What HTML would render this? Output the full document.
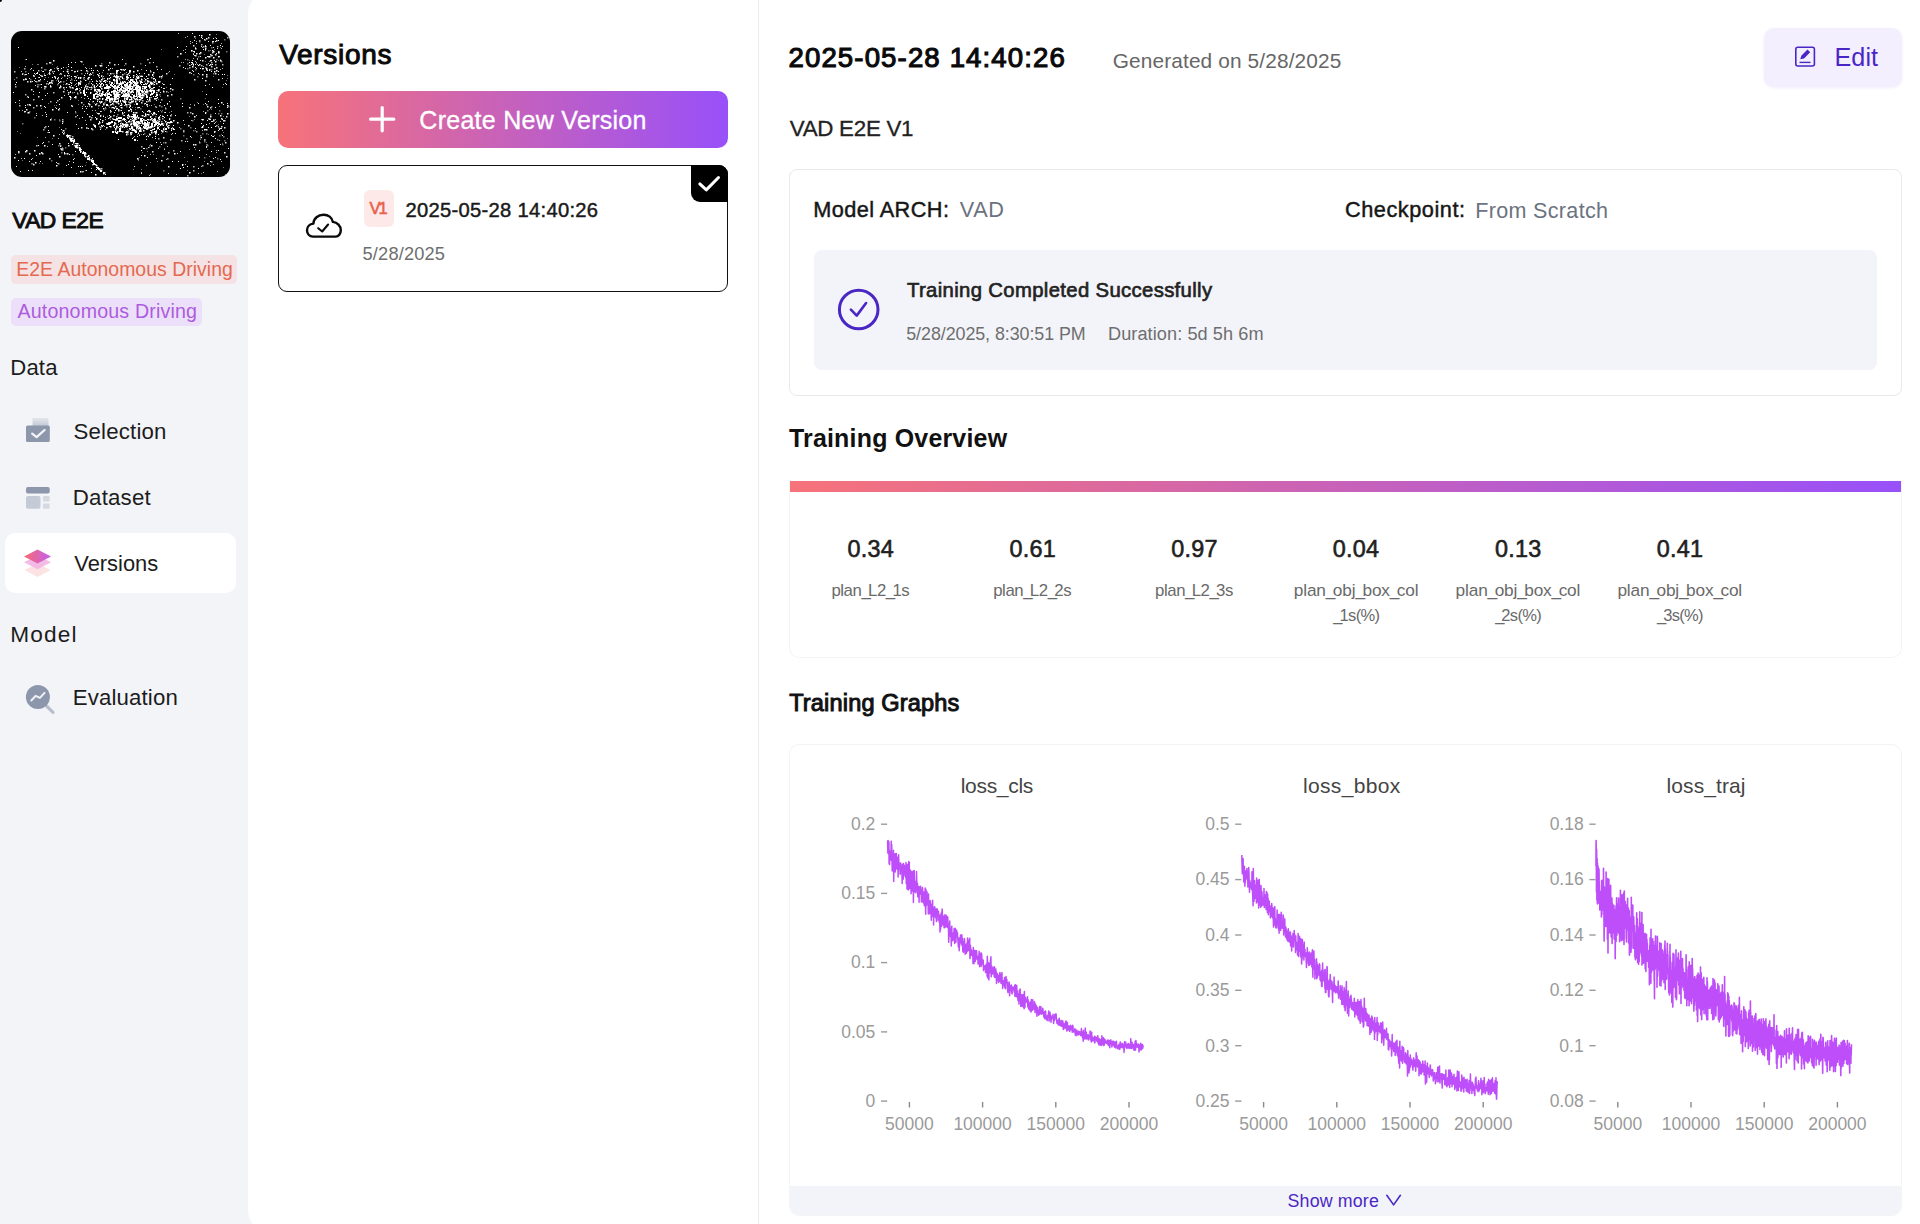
<!DOCTYPE html>
<html lang="en"><head><meta charset="utf-8"><title>VAD E2E - Versions</title>
<style>
html,body{margin:0;padding:0}
body{width:1920px;height:1224px;overflow:hidden;background:#f3f4f8;font-family:"Liberation Sans",sans-serif;position:relative}
.t{position:absolute;white-space:nowrap;margin:0}
.b{position:absolute;box-sizing:border-box}
svg{position:absolute;overflow:visible}
.ax{font-family:"Liberation Sans",sans-serif;font-size:17.5px;fill:#9a9a9a}
.ct{font-family:"Liberation Sans",sans-serif;font-size:21px;fill:#444}
</style></head>
<body>

<div class="b" style="left:248px;top:-8px;width:1680px;height:1240px;background:#fff;border-radius:22px 0 0 22px"></div>
<div class="b" style="left:-2px;top:-2px;width:4px;height:4px;border-radius:50%;background:#000"></div>
<div class="b" style="left:758px;top:0;width:1px;height:1224px;background:#ececec"></div>
<!-- sidebar -->
<div class="b" style="left:11.3px;top:255.3px;width:226.2px;height:29px;background:#f5e2e4;border-radius:5px"></div>
<div class="b" style="left:11.3px;top:297.5px;width:190.4px;height:28.5px;background:#ecdff9;border-radius:5px"></div>
<div class="b" style="left:4.7px;top:533.3px;width:231.2px;height:60px;background:#fff;border-radius:10px"></div>
<!-- middle -->
<div class="b" style="left:278px;top:90.6px;width:449.6px;height:57px;background:linear-gradient(90deg,#f7737a 0%,#9850f9 100%);border-radius:10px"></div>
<div class="b" style="left:277.8px;top:165px;width:450px;height:126.6px;border:1.4px solid #111;border-radius:9px;background:#fff"></div>
<div class="b" style="left:690.6px;top:165px;width:37.2px;height:37px;background:#000;border-radius:0 9px 0 9px"></div>
<div class="b" style="left:363.5px;top:190.3px;width:30px;height:37px;background:#fdeae8;border-radius:6px"></div>
<!-- right -->
<div class="b" style="left:1763.6px;top:27.5px;width:138px;height:59.5px;background:#f3efff;border-radius:10px;box-shadow:0 1px 3px rgba(110,80,220,.10)"></div>
<div class="b" style="left:788.7px;top:169px;width:1113.3px;height:226.8px;border:1px solid #e9e9e9;border-radius:8px;background:#fff"></div>
<div class="b" style="left:814px;top:249.7px;width:1062.8px;height:120.6px;background:#f3f4f9;border-radius:8px"></div>
<div class="b" style="left:788.7px;top:480.5px;width:1113.3px;height:177.5px;border:1px solid #f4f4f4;border-top:none;border-radius:0 0 10px 10px"></div>
<div class="b" style="left:789.5px;top:480.5px;width:1111.7px;height:11.8px;background:linear-gradient(90deg,#f7737a 0%,#9850f9 100%)"></div>
<div class="b" style="left:788.7px;top:744px;width:1113.3px;height:472px;border:1px solid #f4f4f4;border-radius:10px;overflow:hidden"><div class="b" style="left:0;top:441px;width:1113.3px;height:31px;background:#f3f4f9"></div></div>

<svg style="left:11px;top:31px;border-radius:11px;overflow:hidden" width="219" height="146" viewBox="0 0 219 146"><rect width="219" height="146" fill="#000"/><g fill="#fff"><path opacity="1" d="M14 74h1v1h-1zM86 58h1.5v1.5h-1.5zM121 48h1.5v1.5h-1.5zM110 74h1v1h-1zM140 53h1v1h-1zM143 94h1.5v1.5h-1.5zM98 44h1v1h-1zM69 121h1v1h-1zM114 55h1v1h-1zM190 4h1.5v1.5h-1.5zM210 71h1.5v1.5h-1.5zM192 94h1v1h-1zM201 33h1v1h-1zM207 72h1v1h-1zM68 116h1.5v1.5h-1.5zM15 119h1.5v1.5h-1.5zM62 131h1v1h-1zM126 127h1.5v1.5h-1.5zM205 39h1.5v1.5h-1.5zM85 87h1.5v1.5h-1.5zM103 77h1v1h-1zM63 108h1v1h-1zM62 128h1v1h-1zM213 43h1v1h-1zM214 52h1v1h-1zM204 76h1v1h-1zM103 81h1v1h-1zM217 117h1v1h-1zM131 45h1v1h-1zM201 56h1v1h-1zM43 45h1.5v1.5h-1.5zM195 43h1.5v1.5h-1.5zM145 67h1v1h-1zM119 53h1v1h-1zM121 56h1.5v1.5h-1.5zM198 3h1.5v1.5h-1.5zM135 64h1.5v1.5h-1.5zM85 52h1v1h-1zM187 137h1v1h-1zM35 85h1v1h-1zM172 36h1v1h-1zM84 59h1v1h-1zM150 129h1.5v1.5h-1.5zM181 35h1.5v1.5h-1.5zM42 104h1.5v1.5h-1.5zM124 68h1.5v1.5h-1.5zM59 65h1v1h-1zM199 130h1v1h-1zM111 92h1.5v1.5h-1.5zM67 52h1.5v1.5h-1.5zM32 111h1v1h-1zM37 99h1v1h-1zM118 56h1v1h-1zM69 140h1.5v1.5h-1.5zM80 97h1.5v1.5h-1.5zM64 65h1.5v1.5h-1.5zM114 72h1v1h-1zM140 114h1.5v1.5h-1.5zM73 124h1.5v1.5h-1.5zM144 105h1v1h-1zM207 119h1v1h-1zM154 100h1v1h-1zM204 107h1v1h-1zM207 40h1v1h-1zM125 63h1.5v1.5h-1.5zM183 20h1v1h-1zM191 88h1v1h-1zM56 44h1v1h-1zM4 53h1v1h-1zM48 56h1.5v1.5h-1.5zM83 54h1v1h-1zM53 121h1v1h-1zM209 29h1v1h-1zM136 68h1v1h-1zM47 39h1v1h-1zM145 111h1v1h-1zM110 76h1.5v1.5h-1.5zM93 49h1v1h-1zM58 53h1v1h-1zM134 72h1v1h-1zM88 52h1v1h-1zM195 115h1v1h-1zM95 57h1v1h-1zM171 75h1v1h-1zM91 68h1v1h-1zM119 46h1v1h-1zM147 103h1v1h-1zM84 143h1.5v1.5h-1.5zM144 48h1v1h-1zM135 95h1v1h-1zM64 120h1v1h-1zM111 46h1v1h-1zM133 124h1.5v1.5h-1.5zM196 39h1v1h-1zM199 33h1.5v1.5h-1.5zM77 46h1.5v1.5h-1.5zM178 31h1v1h-1zM195 63h1v1h-1zM130 87h1v1h-1zM66 116h1.5v1.5h-1.5zM50 37h1v1h-1zM28 122h1.5v1.5h-1.5zM17 66h1v1h-1zM13 127h1v1h-1zM134 48h1.5v1.5h-1.5zM188 119h1v1h-1zM72 120h1v1h-1zM49 55h1.5v1.5h-1.5zM124 91h1.5v1.5h-1.5zM3 126h1.5v1.5h-1.5zM87 138h1v1h-1zM158 88h1v1h-1zM204 95h1v1h-1zM200 40h1v1h-1zM2 61h1v1h-1zM28 61h1v1h-1zM141 95h1v1h-1zM92 63h1v1h-1zM96 47h1v1h-1zM209 14h1v1h-1zM143 47h1v1h-1zM188 4h1v1h-1zM81 50h1v1h-1zM185 22h1.5v1.5h-1.5zM48 73h1v1h-1zM122 53h1.5v1.5h-1.5zM103 69h1.5v1.5h-1.5zM133 117h1v1h-1zM99 85h1.5v1.5h-1.5zM86 39h1v1h-1zM202 26h1.5v1.5h-1.5zM209 84h1.5v1.5h-1.5zM107 70h1v1h-1zM5 51h1v1h-1zM190 92h1v1h-1zM215 53h1v1h-1zM45 77h1v1h-1zM47 78h1.5v1.5h-1.5zM142 62h1v1h-1zM135 63h1v1h-1zM51 92h1v1h-1zM79 68h1v1h-1zM86 61h1v1h-1zM79 42h1v1h-1zM108 97h1.5v1.5h-1.5zM109 74h1v1h-1zM69 52h1v1h-1zM191 43h1.5v1.5h-1.5zM42 29h1.5v1.5h-1.5zM169 22h1.5v1.5h-1.5zM209 97h1v1h-1zM120 70h1.5v1.5h-1.5zM46 37h1.5v1.5h-1.5zM98 63h1v1h-1zM182 40h1v1h-1zM182 33h1v1h-1zM104 70h1.5v1.5h-1.5zM77 97h1v1h-1zM139 85h1.5v1.5h-1.5zM131 80h1v1h-1zM67 135h1v1h-1zM113 57h1.5v1.5h-1.5zM129 59h1v1h-1zM76 83h1v1h-1zM114 58h1v1h-1zM148 50h1.5v1.5h-1.5zM129 68h1v1h-1zM7 16h1v1h-1zM80 48h1v1h-1zM98 62h1v1h-1zM92 77h1v1h-1zM114 71h1v1h-1zM80 39h1v1h-1zM122 40h1.5v1.5h-1.5zM38 41h1v1h-1zM194 15h1.5v1.5h-1.5zM97 38h1.5v1.5h-1.5zM86 70h1v1h-1zM111 47h1v1h-1zM132 99h1v1h-1zM132 95h1v1h-1zM110 38h1.5v1.5h-1.5zM133 59h1v1h-1zM87 82h1.5v1.5h-1.5zM66 40h1v1h-1zM207 21h1.5v1.5h-1.5zM78 73h1.5v1.5h-1.5zM183 85h1.5v1.5h-1.5zM122 81h1.5v1.5h-1.5zM143 81h1v1h-1zM63 66h1v1h-1zM80 52h1v1h-1zM138 79h1v1h-1zM126 39h1.5v1.5h-1.5zM150 45h1.5v1.5h-1.5zM61 107h1.5v1.5h-1.5zM192 18h1v1h-1zM202 105h1v1h-1zM191 37h1.5v1.5h-1.5zM59 51h1v1h-1zM145 92h1v1h-1zM212 92h1v1h-1zM134 93h1v1h-1zM115 73h1.5v1.5h-1.5zM105 77h1.5v1.5h-1.5zM69 47h1v1h-1zM202 20h1.5v1.5h-1.5zM93 50h1v1h-1zM153 86h1v1h-1zM89 53h1.5v1.5h-1.5zM72 122h1v1h-1zM194 18h1v1h-1zM169 137h1v1h-1zM41 113h1v1h-1zM68 52h1.5v1.5h-1.5zM75 61h1v1h-1zM135 95h1v1h-1zM67 47h1v1h-1zM67 46h1.5v1.5h-1.5zM32 40h1v1h-1zM102 53h1v1h-1zM111 59h1v1h-1zM135 53h1v1h-1zM55 56h1v1h-1zM211 43h1v1h-1zM75 39h1.5v1.5h-1.5zM77 72h1.5v1.5h-1.5zM111 81h1v1h-1zM127 76h1v1h-1zM187 34h1v1h-1zM109 70h1v1h-1zM135 45h1v1h-1zM130 64h1v1h-1zM136 83h1v1h-1zM161 130h1v1h-1zM201 19h1.5v1.5h-1.5zM129 56h1v1h-1zM87 92h1.5v1.5h-1.5zM115 100h1.5v1.5h-1.5zM209 29h1.5v1.5h-1.5zM164 102h1v1h-1zM124 51h1v1h-1zM26 42h1v1h-1zM127 97h1.5v1.5h-1.5zM125 62h1v1h-1zM27 114h1v1h-1zM86 43h1v1h-1zM118 59h1v1h-1zM48 125h1.5v1.5h-1.5zM171 72h1v1h-1zM103 62h1v1h-1zM163 98h1v1h-1zM191 95h1.5v1.5h-1.5zM136 96h1v1h-1zM84 34h1.5v1.5h-1.5zM69 61h1.5v1.5h-1.5zM82 39h1v1h-1zM180 31h1v1h-1zM98 84h1v1h-1zM162 97h1v1h-1zM132 117h1v1h-1zM200 96h1v1h-1zM118 79h1v1h-1zM149 93h1.5v1.5h-1.5zM57 33h1v1h-1zM110 53h1v1h-1zM45 134h1.5v1.5h-1.5zM122 83h1v1h-1zM154 81h1v1h-1zM128 57h1v1h-1zM121 107h1v1h-1zM59 66h1.5v1.5h-1.5zM60 52h1v1h-1zM119 71h1.5v1.5h-1.5zM84 86h1v1h-1zM39 55h1.5v1.5h-1.5zM99 68h1v1h-1zM30 121h1.5v1.5h-1.5zM140 101h1.5v1.5h-1.5zM119 61h1v1h-1zM199 85h1.5v1.5h-1.5zM189 37h1v1h-1zM150 113h1v1h-1zM105 96h1v1h-1zM113 89h1v1h-1zM122 46h1v1h-1zM67 51h1v1h-1zM163 122h1.5v1.5h-1.5zM181 2h1v1h-1zM86 54h1v1h-1zM127 65h1v1h-1zM53 122h1.5v1.5h-1.5zM189 21h1.5v1.5h-1.5zM84 73h1.5v1.5h-1.5zM39 38h1.5v1.5h-1.5zM108 47h1v1h-1zM69 46h1.5v1.5h-1.5zM99 42h1.5v1.5h-1.5zM104 60h1.5v1.5h-1.5zM19 74h1v1h-1zM134 72h1v1h-1zM107 108h1v1h-1zM128 63h1v1h-1zM61 113h1v1h-1zM48 51h1v1h-1zM89 98h1v1h-1zM136 80h1v1h-1zM120 68h1.5v1.5h-1.5zM73 44h1v1h-1zM121 57h1v1h-1zM209 128h1v1h-1zM114 88h1v1h-1zM100 61h1v1h-1zM104 88h1.5v1.5h-1.5zM38 101h1v1h-1zM208 98h1v1h-1zM115 46h1.5v1.5h-1.5zM28 46h1v1h-1zM33 75h1v1h-1zM198 25h1.5v1.5h-1.5zM102 76h1.5v1.5h-1.5zM61 56h1.5v1.5h-1.5zM99 46h1v1h-1zM133 91h1.5v1.5h-1.5zM147 86h1v1h-1zM198 88h1v1h-1zM92 50h1v1h-1zM156 72h1v1h-1zM177 94h1.5v1.5h-1.5zM200 120h1v1h-1zM105 44h1.5v1.5h-1.5zM125 86h1.5v1.5h-1.5zM25 42h1v1h-1zM46 47h1.5v1.5h-1.5zM122 83h1.5v1.5h-1.5zM147 87h1.5v1.5h-1.5zM143 82h1.5v1.5h-1.5zM113 71h1v1h-1zM102 70h1.5v1.5h-1.5zM203 40h1.5v1.5h-1.5zM95 57h1v1h-1zM101 54h1v1h-1zM17 81h1.5v1.5h-1.5zM103 64h1v1h-1zM26 41h1v1h-1zM22 44h1.5v1.5h-1.5zM99 79h1v1h-1zM123 91h1v1h-1zM24 131h1.5v1.5h-1.5zM59 109h1.5v1.5h-1.5zM69 119h1v1h-1zM132 99h1v1h-1zM182 113h1.5v1.5h-1.5zM34 55h1.5v1.5h-1.5zM56 40h1.5v1.5h-1.5zM35 83h1v1h-1zM194 72h1v1h-1zM97 87h1v1h-1zM85 136h1v1h-1zM147 58h1.5v1.5h-1.5zM89 59h1v1h-1zM125 67h1.5v1.5h-1.5zM83 55h1v1h-1zM55 52h1.5v1.5h-1.5zM122 35h1.5v1.5h-1.5zM76 42h1v1h-1zM95 53h1.5v1.5h-1.5zM131 92h1.5v1.5h-1.5zM139 64h1v1h-1zM157 91h1v1h-1zM207 9h1v1h-1zM96 64h1v1h-1zM181 29h1v1h-1zM127 65h1v1h-1zM129 98h1.5v1.5h-1.5zM29 48h1v1h-1zM207 68h1v1h-1zM127 60h1.5v1.5h-1.5zM105 41h1.5v1.5h-1.5zM77 67h1v1h-1zM211 104h1v1h-1zM119 65h1.5v1.5h-1.5zM171 133h1.5v1.5h-1.5zM104 100h1v1h-1zM195 37h1.5v1.5h-1.5zM68 114h1v1h-1zM169 120h1v1h-1zM148 45h1.5v1.5h-1.5zM84 58h1.5v1.5h-1.5zM166 16h1v1h-1zM127 63h1.5v1.5h-1.5zM130 119h1v1h-1zM95 36h1v1h-1zM143 93h1.5v1.5h-1.5zM126 84h1v1h-1zM128 63h1.5v1.5h-1.5zM131 87h1v1h-1zM122 84h1v1h-1zM90 48h1.5v1.5h-1.5zM33 114h1.5v1.5h-1.5zM138 96h1.5v1.5h-1.5zM128 76h1v1h-1zM131 92h1v1h-1zM124 86h1v1h-1zM146 66h1v1h-1zM18 73h1.5v1.5h-1.5zM90 45h1v1h-1zM122 81h1.5v1.5h-1.5zM90 52h1v1h-1zM195 38h1.5v1.5h-1.5zM125 93h1v1h-1zM57 42h1v1h-1zM80 75h1.5v1.5h-1.5zM181 31h1v1h-1zM204 30h1.5v1.5h-1.5zM91 91h1v1h-1zM113 39h1v1h-1zM191 96h1v1h-1zM99 53h1.5v1.5h-1.5zM103 94h1v1h-1zM103 63h1v1h-1zM127 102h1v1h-1zM107 45h1.5v1.5h-1.5zM120 93h1v1h-1zM195 7h1.5v1.5h-1.5zM85 60h1.5v1.5h-1.5zM134 83h1.5v1.5h-1.5zM195 98h1.5v1.5h-1.5zM159 75h1v1h-1zM101 55h1v1h-1zM105 60h1v1h-1zM26 41h1v1h-1zM86 63h1.5v1.5h-1.5zM125 49h1v1h-1zM41 78h1.5v1.5h-1.5zM141 89h1.5v1.5h-1.5zM146 64h1v1h-1zM142 65h1v1h-1zM205 7h1v1h-1zM136 73h1v1h-1zM74 49h1v1h-1zM88 91h1.5v1.5h-1.5zM73 58h1v1h-1zM101 76h1v1h-1zM128 57h1.5v1.5h-1.5zM137 94h1v1h-1zM57 133h1v1h-1zM104 101h1v1h-1zM80 37h1v1h-1zM133 42h1v1h-1zM60 36h1v1h-1zM149 94h1v1h-1zM120 61h1v1h-1zM38 52h1v1h-1zM103 63h1v1h-1zM94 51h1v1h-1zM194 82h1v1h-1zM152 85h1v1h-1zM211 88h1v1h-1zM30 53h1v1h-1zM176 135h1v1h-1zM19 50h1.5v1.5h-1.5zM172 136h1v1h-1zM188 126h1v1h-1zM141 43h1.5v1.5h-1.5zM180 19h1.5v1.5h-1.5zM103 63h1.5v1.5h-1.5zM33 44h1v1h-1zM151 92h1v1h-1zM117 57h1v1h-1zM138 91h1v1h-1zM191 47h1v1h-1zM128 61h1v1h-1zM200 104h1v1h-1zM39 88h1.5v1.5h-1.5zM193 98h1.5v1.5h-1.5zM215 125h1.5v1.5h-1.5zM164 84h1v1h-1zM114 38h1v1h-1zM184 17h1.5v1.5h-1.5zM64 58h1.5v1.5h-1.5zM83 56h1.5v1.5h-1.5zM106 61h1.5v1.5h-1.5zM7 129h1v1h-1zM190 6h1v1h-1zM216 82h1.5v1.5h-1.5zM119 75h1v1h-1zM179 105h1v1h-1zM132 96h1v1h-1zM178 141h1.5v1.5h-1.5zM89 34h1.5v1.5h-1.5zM89 88h1v1h-1zM156 64h1.5v1.5h-1.5zM23 119h1.5v1.5h-1.5zM153 74h1v1h-1zM150 99h1.5v1.5h-1.5zM204 10h1v1h-1zM91 63h1v1h-1zM199 14h1v1h-1zM17 139h1v1h-1zM28 43h1v1h-1zM99 64h1v1h-1zM119 78h1v1h-1zM29 74h1.5v1.5h-1.5zM98 50h1.5v1.5h-1.5zM67 97h1v1h-1zM82 65h1v1h-1zM190 106h1v1h-1zM109 69h1v1h-1zM143 67h1.5v1.5h-1.5zM101 72h1.5v1.5h-1.5zM100 73h1v1h-1zM194 26h1.5v1.5h-1.5zM69 135h1v1h-1zM216 74h1.5v1.5h-1.5zM147 96h1v1h-1zM38 39h1.5v1.5h-1.5zM106 77h1v1h-1zM63 45h1v1h-1zM123 58h1v1h-1zM155 98h1v1h-1zM118 50h2v2h-2zM89 139h2v2h-2zM125 65h1v1h-1zM103 49h1.5v1.5h-1.5zM140 99h1.5v1.5h-1.5zM125 50h1.5v1.5h-1.5zM130 66h2v2h-2zM115 58h2v2h-2zM108 95h1v1h-1zM95 68h1.5v1.5h-1.5zM125 96h1v1h-1zM144 91h1.5v1.5h-1.5zM136 93h1.5v1.5h-1.5zM125 43h1v1h-1zM110 55h2v2h-2zM115 103h1.5v1.5h-1.5zM77 125h1v1h-1zM90 57h1.5v1.5h-1.5zM140 52h1v1h-1zM118 60h1.5v1.5h-1.5zM105 39h2v2h-2zM96 55h2v2h-2zM134 84h1.5v1.5h-1.5zM105 101h2v2h-2zM120 96h2v2h-2zM114 63h2v2h-2zM94 64h1.5v1.5h-1.5zM136 83h1v1h-1zM119 58h1v1h-1zM109 92h1.5v1.5h-1.5zM123 85h1.5v1.5h-1.5zM73 63h2v2h-2zM143 51h1v1h-1zM106 63h1.5v1.5h-1.5zM133 94h1.5v1.5h-1.5zM110 58h1.5v1.5h-1.5zM127 45h1v1h-1zM133 85h1v1h-1zM117 87h1v1h-1zM99 95h1.5v1.5h-1.5zM143 89h1.5v1.5h-1.5zM95 73h2v2h-2zM122 91h2v2h-2zM105 70h1.5v1.5h-1.5zM120 85h1.5v1.5h-1.5zM64 114h1v1h-1zM104 55h1.5v1.5h-1.5zM84 62h1.5v1.5h-1.5zM76 125h1.5v1.5h-1.5zM130 60h1.5v1.5h-1.5zM107 86h2v2h-2zM134 60h2v2h-2zM76 127h2v2h-2zM94 143h1v1h-1zM143 88h2v2h-2zM138 56h1.5v1.5h-1.5zM139 95h2v2h-2zM121 63h1v1h-1zM139 51h2v2h-2zM108 97h2v2h-2zM105 96h1.5v1.5h-1.5zM121 85h1.5v1.5h-1.5zM135 55h1v1h-1zM166 91h1.5v1.5h-1.5zM80 129h2v2h-2zM56 106h1v1h-1zM106 100h1.5v1.5h-1.5zM140 99h1.5v1.5h-1.5zM97 59h1v1h-1zM127 61h1.5v1.5h-1.5zM121 48h1.5v1.5h-1.5zM96 59h1.5v1.5h-1.5zM102 59h1.5v1.5h-1.5zM128 68h1.5v1.5h-1.5zM96 54h1v1h-1zM129 68h1.5v1.5h-1.5zM116 55h1v1h-1zM111 69h1.5v1.5h-1.5zM95 56h2v2h-2zM116 54h1.5v1.5h-1.5zM56 104h2v2h-2zM99 56h1v1h-1zM94 68h1v1h-1zM140 51h1.5v1.5h-1.5zM124 100h2v2h-2zM127 46h1.5v1.5h-1.5zM156 95h1.5v1.5h-1.5zM102 60h1.5v1.5h-1.5zM121 59h1.5v1.5h-1.5zM128 99h2v2h-2zM126 46h2v2h-2zM117 90h1.5v1.5h-1.5zM141 83h1.5v1.5h-1.5zM85 134h1.5v1.5h-1.5zM145 52h1.5v1.5h-1.5zM126 51h1.5v1.5h-1.5zM91 67h1.5v1.5h-1.5zM76 65h1v1h-1zM63 109h1v1h-1zM75 57h1.5v1.5h-1.5zM127 92h1.5v1.5h-1.5zM65 57h2v2h-2zM128 55h1.5v1.5h-1.5zM117 46h1v1h-1zM88 62h1.5v1.5h-1.5zM131 63h1.5v1.5h-1.5zM126 91h1.5v1.5h-1.5zM139 95h1.5v1.5h-1.5zM99 53h2v2h-2zM120 101h1.5v1.5h-1.5zM105 56h1v1h-1zM125 58h2v2h-2zM125 97h1.5v1.5h-1.5zM137 50h1.5v1.5h-1.5zM133 91h2v2h-2zM118 68h1.5v1.5h-1.5zM129 50h2v2h-2zM74 125h1.5v1.5h-1.5zM126 57h1.5v1.5h-1.5zM140 62h2v2h-2zM127 92h1v1h-1zM144 49h1v1h-1zM115 46h1.5v1.5h-1.5zM108 99h2v2h-2zM73 121h2v2h-2zM135 65h2v2h-2zM126 95h1.5v1.5h-1.5zM130 59h2v2h-2zM87 137h1v1h-1zM129 92h1v1h-1zM137 54h2v2h-2zM100 90h2v2h-2zM84 133h1.5v1.5h-1.5zM139 59h1.5v1.5h-1.5zM105 49h2v2h-2zM140 59h1.5v1.5h-1.5zM73 123h1.5v1.5h-1.5zM103 91h1.5v1.5h-1.5zM116 61h1.5v1.5h-1.5zM139 58h1v1h-1zM127 90h1.5v1.5h-1.5zM86 136h1v1h-1zM112 87h2v2h-2zM118 57h2v2h-2zM113 96h1v1h-1zM115 45h2v2h-2zM87 59h1.5v1.5h-1.5zM135 56h1v1h-1zM62 111h1v1h-1zM145 63h2v2h-2zM95 66h2v2h-2zM111 60h1v1h-1zM122 85h2v2h-2zM55 104h1.5v1.5h-1.5zM98 47h1v1h-1zM115 65h1.5v1.5h-1.5zM103 66h2v2h-2zM136 60h1.5v1.5h-1.5zM112 87h1.5v1.5h-1.5zM121 70h1.5v1.5h-1.5zM138 68h1.5v1.5h-1.5zM137 93h1.5v1.5h-1.5zM120 58h1.5v1.5h-1.5zM68 117h2v2h-2zM132 60h1.5v1.5h-1.5zM123 99h1v1h-1zM125 72h2v2h-2zM88 46h1v1h-1zM144 102h1.5v1.5h-1.5zM113 67h1.5v1.5h-1.5zM92 85h1v1h-1zM117 60h1.5v1.5h-1.5zM124 92h2v2h-2zM116 51h1.5v1.5h-1.5zM112 56h1.5v1.5h-1.5zM139 86h1v1h-1zM105 87h2v2h-2zM100 90h1v1h-1zM106 55h2v2h-2zM127 54h1v1h-1zM128 63h1v1h-1zM90 62h2v2h-2zM122 61h1v1h-1zM98 67h2v2h-2zM152 98h1.5v1.5h-1.5zM93 57h1v1h-1zM110 56h1v1h-1zM142 47h1.5v1.5h-1.5zM129 98h1.5v1.5h-1.5zM118 56h1.5v1.5h-1.5zM82 66h2v2h-2zM138 59h1.5v1.5h-1.5zM72 59h2v2h-2zM87 58h2v2h-2zM74 55h1.5v1.5h-1.5zM128 57h2v2h-2zM122 66h1.5v1.5h-1.5zM124 53h2v2h-2zM136 50h1.5v1.5h-1.5zM91 61h1.5v1.5h-1.5zM162 94h1v1h-1zM102 55h2v2h-2zM133 96h1.5v1.5h-1.5zM82 132h2v2h-2zM123 51h1.5v1.5h-1.5zM124 58h1v1h-1zM127 91h2v2h-2zM116 61h1.5v1.5h-1.5zM103 56h1.5v1.5h-1.5zM158 91h1.5v1.5h-1.5zM66 114h1v1h-1zM115 101h1v1h-1zM92 53h1v1h-1zM136 88h1v1h-1zM58 106h1.5v1.5h-1.5zM103 65h1.5v1.5h-1.5zM103 61h1v1h-1zM105 66h1v1h-1zM129 89h1.5v1.5h-1.5zM103 62h1.5v1.5h-1.5zM116 64h1.5v1.5h-1.5zM115 73h1.5v1.5h-1.5zM120 60h1v1h-1zM88 64h1v1h-1zM105 62h1.5v1.5h-1.5zM122 66h1.5v1.5h-1.5zM98 91h1v1h-1zM94 62h1v1h-1zM124 53h2v2h-2zM145 63h1v1h-1zM97 65h2v2h-2zM111 64h2v2h-2zM64 115h2v2h-2zM100 60h1.5v1.5h-1.5zM103 88h1v1h-1zM132 96h1v1h-1zM122 58h1v1h-1zM143 53h1v1h-1zM130 45h1v1h-1zM111 95h1.5v1.5h-1.5zM134 93h2v2h-2zM110 61h1.5v1.5h-1.5zM69 120h1.5v1.5h-1.5zM121 55h1v1h-1zM129 99h1.5v1.5h-1.5zM102 56h1v1h-1zM124 94h1.5v1.5h-1.5zM141 52h1.5v1.5h-1.5zM126 51h1.5v1.5h-1.5zM125 61h1.5v1.5h-1.5zM124 70h1.5v1.5h-1.5zM108 58h1.5v1.5h-1.5zM113 64h2v2h-2zM60 110h1v1h-1zM96 62h2v2h-2zM122 44h1v1h-1zM108 54h1v1h-1zM123 52h1v1h-1zM133 53h1v1h-1zM82 70h1v1h-1zM125 48h1v1h-1zM93 56h2v2h-2zM126 90h1v1h-1zM123 93h1v1h-1zM105 45h2v2h-2zM102 48h2v2h-2zM114 94h2v2h-2zM128 57h1.5v1.5h-1.5zM68 117h2v2h-2zM111 81h1v1h-1zM104 63h2v2h-2zM142 82h1v1h-1zM105 48h1.5v1.5h-1.5zM64 66h1.5v1.5h-1.5zM108 60h1.5v1.5h-1.5zM97 62h1v1h-1zM133 96h2v2h-2zM78 128h1.5v1.5h-1.5zM110 61h1v1h-1zM88 67h1.5v1.5h-1.5zM128 59h1v1h-1zM109 94h1.5v1.5h-1.5zM112 70h1.5v1.5h-1.5zM99 63h1.5v1.5h-1.5zM113 53h2v2h-2zM103 67h2v2h-2zM142 60h2v2h-2zM106 57h1v1h-1zM135 92h1.5v1.5h-1.5zM69 119h1v1h-1zM142 61h1v1h-1zM135 64h1.5v1.5h-1.5zM120 66h1.5v1.5h-1.5zM52 99h1v1h-1zM139 59h2v2h-2zM109 45h1.5v1.5h-1.5zM129 57h1v1h-1zM133 57h1.5v1.5h-1.5zM113 60h1.5v1.5h-1.5zM126 94h1.5v1.5h-1.5zM121 49h1.5v1.5h-1.5zM123 87h1.5v1.5h-1.5zM77 124h1.5v1.5h-1.5zM121 87h1v1h-1zM133 62h1.5v1.5h-1.5zM125 64h1.5v1.5h-1.5zM83 94h2v2h-2zM126 68h1.5v1.5h-1.5zM143 98h1v1h-1zM103 59h2v2h-2zM100 64h1v1h-1zM111 95h1.5v1.5h-1.5zM113 89h1v1h-1zM117 64h2v2h-2zM136 47h1v1h-1zM114 55h1v1h-1zM60 107h1.5v1.5h-1.5zM124 53h1.5v1.5h-1.5zM98 70h1.5v1.5h-1.5zM118 50h1.5v1.5h-1.5zM121 50h1.5v1.5h-1.5zM136 91h1.5v1.5h-1.5zM152 60h1.5v1.5h-1.5zM118 90h1.5v1.5h-1.5zM107 67h1v1h-1zM127 95h1.5v1.5h-1.5zM79 61h1.5v1.5h-1.5zM119 57h1.5v1.5h-1.5zM143 91h1v1h-1zM147 50h2v2h-2zM89 64h1.5v1.5h-1.5zM115 91h1.5v1.5h-1.5zM150 92h2v2h-2zM143 91h1v1h-1zM131 64h1.5v1.5h-1.5zM122 50h2v2h-2zM134 93h1.5v1.5h-1.5zM86 65h1.5v1.5h-1.5zM119 53h1.5v1.5h-1.5zM98 69h1.5v1.5h-1.5zM95 96h1.5v1.5h-1.5zM109 58h1.5v1.5h-1.5zM136 92h1.5v1.5h-1.5zM81 129h2v2h-2zM113 54h1.5v1.5h-1.5zM129 52h1v1h-1zM91 89h1.5v1.5h-1.5zM104 65h1.5v1.5h-1.5zM137 43h1.5v1.5h-1.5zM112 63h1.5v1.5h-1.5zM111 51h1v1h-1zM115 45h1.5v1.5h-1.5zM105 45h2v2h-2zM107 89h2v2h-2zM116 54h1.5v1.5h-1.5zM105 52h1.5v1.5h-1.5zM159 90h2v2h-2zM119 57h1v1h-1zM145 83h1v1h-1zM145 91h2v2h-2zM124 52h2v2h-2zM65 112h1.5v1.5h-1.5zM86 136h2v2h-2zM113 50h1.5v1.5h-1.5zM87 44h1.5v1.5h-1.5zM108 63h1.5v1.5h-1.5zM103 48h1v1h-1zM142 41h1.5v1.5h-1.5zM133 62h1v1h-1zM96 62h2v2h-2zM103 93h1v1h-1zM101 60h1.5v1.5h-1.5zM109 57h2v2h-2zM109 86h2v2h-2zM151 100h1.5v1.5h-1.5zM136 97h1.5v1.5h-1.5zM105 63h2v2h-2zM105 95h1.5v1.5h-1.5zM124 92h1.5v1.5h-1.5zM117 83h1v1h-1zM125 54h2v2h-2zM139 63h1.5v1.5h-1.5zM146 96h2v2h-2zM52 99h1.5v1.5h-1.5zM86 68h1.5v1.5h-1.5zM114 55h1.5v1.5h-1.5zM125 93h2v2h-2zM105 64h2v2h-2zM52 102h1.5v1.5h-1.5zM162 98h1v1h-1zM69 118h1.5v1.5h-1.5zM82 63h2v2h-2zM101 67h1.5v1.5h-1.5zM148 88h1v1h-1zM115 58h1v1h-1zM125 58h1.5v1.5h-1.5zM118 39h2v2h-2zM142 88h1.5v1.5h-1.5zM115 53h2v2h-2zM122 98h2v2h-2zM115 95h1.5v1.5h-1.5zM144 100h2v2h-2zM97 57h1.5v1.5h-1.5zM137 93h1.5v1.5h-1.5zM88 90h1v1h-1zM82 66h1v1h-1zM82 132h1.5v1.5h-1.5zM96 60h1.5v1.5h-1.5zM68 118h2v2h-2zM105 56h2v2h-2zM128 56h1.5v1.5h-1.5zM131 57h1.5v1.5h-1.5zM135 97h1v1h-1zM114 90h1v1h-1zM137 88h1.5v1.5h-1.5zM117 59h1v1h-1zM108 52h2v2h-2zM118 55h2v2h-2zM120 95h1v1h-1zM119 51h2v2h-2zM88 137h1.5v1.5h-1.5zM110 54h1v1h-1zM133 55h2v2h-2zM116 55h2v2h-2zM85 138h1v1h-1zM123 51h1.5v1.5h-1.5zM90 70h1.5v1.5h-1.5zM128 42h1v1h-1zM125 97h1v1h-1zM110 38h1.5v1.5h-1.5zM126 56h1.5v1.5h-1.5zM120 92h1.5v1.5h-1.5zM94 49h1.5v1.5h-1.5zM114 93h1.5v1.5h-1.5zM123 94h1.5v1.5h-1.5zM90 63h2v2h-2zM142 90h1.5v1.5h-1.5zM126 90h1.5v1.5h-1.5zM88 70h1.5v1.5h-1.5zM109 51h1.5v1.5h-1.5zM122 54h1.5v1.5h-1.5zM98 91h2v2h-2zM59 109h1v1h-1zM114 63h1v1h-1zM88 60h1.5v1.5h-1.5zM115 52h2v2h-2zM135 105h1v1h-1zM159 57h1.5v1.5h-1.5zM56 105h1.5v1.5h-1.5zM122 92h2v2h-2zM127 58h2v2h-2zM117 84h1.5v1.5h-1.5zM89 50h1.5v1.5h-1.5zM124 99h1.5v1.5h-1.5zM122 64h2v2h-2zM83 58h2v2h-2zM136 93h1.5v1.5h-1.5zM143 56h1v1h-1zM154 90h1.5v1.5h-1.5zM120 57h1v1h-1zM135 58h1.5v1.5h-1.5zM105 65h1.5v1.5h-1.5zM134 56h1v1h-1zM69 118h1.5v1.5h-1.5zM125 55h1v1h-1zM117 64h1v1h-1zM140 94h2v2h-2zM134 60h2v2h-2zM123 87h1.5v1.5h-1.5zM102 94h1.5v1.5h-1.5zM106 58h1v1h-1zM138 103h1.5v1.5h-1.5zM121 60h1.5v1.5h-1.5zM104 55h1.5v1.5h-1.5zM123 83h2v2h-2zM115 56h1.5v1.5h-1.5zM106 67h1.5v1.5h-1.5zM111 69h1v1h-1zM127 58h1.5v1.5h-1.5zM144 65h1v1h-1zM116 57h1v1h-1zM134 52h1.5v1.5h-1.5zM122 89h2v2h-2zM59 107h2v2h-2zM112 59h2v2h-2zM110 65h1v1h-1zM96 65h1.5v1.5h-1.5zM117 63h1v1h-1zM107 65h1.5v1.5h-1.5zM81 130h2v2h-2zM131 64h1.5v1.5h-1.5zM162 89h1.5v1.5h-1.5zM138 66h1.5v1.5h-1.5zM160 99h1v1h-1zM85 55h1v1h-1zM123 93h1v1h-1zM146 94h1.5v1.5h-1.5zM144 92h2v2h-2zM112 93h1.5v1.5h-1.5zM136 94h1v1h-1zM114 62h2v2h-2zM118 56h1v1h-1zM115 101h1.5v1.5h-1.5zM152 53h1v1h-1zM119 52h1.5v1.5h-1.5zM118 53h2v2h-2zM130 60h1.5v1.5h-1.5zM139 96h1.5v1.5h-1.5zM119 48h2v2h-2zM130 48h1.5v1.5h-1.5zM120 67h1v1h-1zM58 104h1.5v1.5h-1.5zM143 97h1v1h-1zM113 59h2v2h-2zM108 56h1v1h-1zM78 126h1v1h-1zM137 96h1.5v1.5h-1.5zM120 95h1.5v1.5h-1.5zM83 59h1.5v1.5h-1.5zM116 86h1.5v1.5h-1.5zM118 85h1.5v1.5h-1.5zM104 57h1.5v1.5h-1.5zM154 97h2v2h-2zM95 55h2v2h-2zM102 88h1v1h-1zM87 63h1.5v1.5h-1.5zM115 67h2v2h-2zM61 109h1.5v1.5h-1.5zM120 96h2v2h-2zM119 93h1.5v1.5h-1.5zM134 89h1v1h-1zM141 59h1v1h-1zM72 61h2v2h-2zM116 101h1.5v1.5h-1.5zM103 57h1.5v1.5h-1.5zM122 91h1v1h-1zM78 128h1.5v1.5h-1.5zM90 94h1.5v1.5h-1.5zM128 99h1.5v1.5h-1.5zM118 76h1v1h-1zM93 63h1v1h-1zM125 56h1.5v1.5h-1.5zM116 94h1.5v1.5h-1.5zM143 100h1.5v1.5h-1.5zM122 44h1.5v1.5h-1.5zM72 121h2v2h-2zM132 64h1.5v1.5h-1.5zM109 57h1v1h-1zM134 57h1v1h-1zM123 54h1.5v1.5h-1.5zM100 51h2v2h-2zM129 97h1.5v1.5h-1.5zM101 100h2v2h-2zM106 63h1v1h-1zM141 95h1.5v1.5h-1.5zM128 62h1.5v1.5h-1.5zM97 55h2v2h-2zM66 112h1.5v1.5h-1.5zM140 87h1.5v1.5h-1.5zM131 61h1.5v1.5h-1.5zM155 93h1.5v1.5h-1.5zM98 95h1v1h-1zM63 110h1v1h-1zM74 122h1.5v1.5h-1.5zM106 63h2v2h-2zM110 72h1v1h-1zM121 55h1.5v1.5h-1.5zM97 67h1v1h-1zM124 92h2v2h-2zM116 63h1.5v1.5h-1.5zM144 89h1v1h-1zM131 55h1.5v1.5h-1.5zM91 62h1v1h-1zM132 53h1v1h-1zM100 67h2v2h-2zM99 91h1.5v1.5h-1.5zM152 94h1v1h-1zM106 59h1.5v1.5h-1.5zM93 63h2v2h-2zM125 90h1.5v1.5h-1.5zM140 92h2v2h-2zM115 93h2v2h-2zM71 122h1v1h-1zM133 62h1.5v1.5h-1.5zM116 66h1.5v1.5h-1.5zM117 62h1.5v1.5h-1.5zM129 62h1.5v1.5h-1.5zM113 93h1v1h-1zM131 84h1.5v1.5h-1.5zM96 92h2v2h-2zM111 51h2v2h-2zM117 79h1.5v1.5h-1.5zM160 97h1.5v1.5h-1.5zM128 96h2v2h-2zM112 57h1.5v1.5h-1.5zM62 110h1.5v1.5h-1.5zM143 87h1.5v1.5h-1.5zM155 93h1.5v1.5h-1.5zM126 60h1v1h-1zM123 50h1v1h-1zM106 61h1v1h-1zM105 51h2v2h-2zM110 52h1.5v1.5h-1.5zM85 65h1.5v1.5h-1.5zM91 60h1.5v1.5h-1.5zM115 94h1v1h-1zM148 86h1v1h-1zM128 65h2v2h-2zM88 138h1.5v1.5h-1.5zM130 89h2v2h-2zM65 114h1v1h-1zM90 64h1.5v1.5h-1.5zM142 59h2v2h-2zM137 95h1.5v1.5h-1.5zM92 141h1.5v1.5h-1.5zM128 63h2v2h-2zM105 63h2v2h-2zM133 93h1v1h-1zM110 94h1.5v1.5h-1.5zM121 99h1v1h-1zM112 60h1v1h-1zM89 55h1.5v1.5h-1.5zM134 95h1.5v1.5h-1.5zM129 87h2v2h-2zM125 95h2v2h-2zM111 56h1v1h-1zM124 56h2v2h-2zM114 55h1.5v1.5h-1.5zM147 92h2v2h-2zM132 88h1.5v1.5h-1.5zM147 59h1.5v1.5h-1.5zM77 127h2v2h-2zM142 56h1v1h-1zM139 99h1v1h-1zM98 61h1v1h-1zM123 108h2v2h-2zM116 93h1.5v1.5h-1.5zM148 98h1v1h-1zM109 92h1.5v1.5h-1.5zM118 97h1.5v1.5h-1.5zM116 93h1.5v1.5h-1.5zM107 69h1v1h-1zM156 91h1.5v1.5h-1.5zM136 90h1v1h-1zM135 89h1v1h-1zM73 63h2v2h-2zM103 54h2v2h-2zM139 58h1.5v1.5h-1.5zM127 55h2v2h-2zM139 88h1.5v1.5h-1.5z"/><path opacity="0.45" d="M180 19h1.5v1.5h-1.5zM105 94h1v1h-1zM169 22h1.5v1.5h-1.5zM194 30h1v1h-1zM136 74h1v1h-1zM138 116h1v1h-1zM121 57h1v1h-1zM110 91h1v1h-1zM79 58h1v1h-1zM178 34h1v1h-1zM72 47h1.5v1.5h-1.5zM112 57h1v1h-1zM126 53h1v1h-1zM106 89h1v1h-1zM131 75h1v1h-1zM212 101h1v1h-1zM155 56h1v1h-1zM212 105h1.5v1.5h-1.5zM66 44h1v1h-1zM196 114h1.5v1.5h-1.5zM102 62h1.5v1.5h-1.5zM109 79h1v1h-1zM66 61h1v1h-1zM136 62h1.5v1.5h-1.5zM125 64h1v1h-1zM147 68h1v1h-1zM138 114h1.5v1.5h-1.5zM26 53h1.5v1.5h-1.5zM100 70h1.5v1.5h-1.5zM96 74h1v1h-1zM37 46h1v1h-1zM199 84h1.5v1.5h-1.5zM120 88h1.5v1.5h-1.5zM138 102h1v1h-1zM107 68h1v1h-1zM88 74h1v1h-1zM55 122h1.5v1.5h-1.5zM55 36h1v1h-1zM148 115h1.5v1.5h-1.5zM77 52h1.5v1.5h-1.5zM69 49h1v1h-1zM125 85h1.5v1.5h-1.5zM47 114h1.5v1.5h-1.5zM148 86h1.5v1.5h-1.5zM11 129h1v1h-1zM179 96h1.5v1.5h-1.5zM115 89h1v1h-1zM60 47h1v1h-1zM27 33h1v1h-1zM94 98h1v1h-1zM198 30h1v1h-1zM16 81h1.5v1.5h-1.5zM178 118h1v1h-1zM146 130h1v1h-1zM126 103h1v1h-1zM37 110h1.5v1.5h-1.5zM127 92h1v1h-1zM126 60h1v1h-1zM144 89h1.5v1.5h-1.5zM116 94h1v1h-1zM62 57h1v1h-1zM142 101h1v1h-1zM210 103h1v1h-1zM196 113h1v1h-1zM72 73h1.5v1.5h-1.5zM109 76h1v1h-1zM197 19h1.5v1.5h-1.5zM193 109h1.5v1.5h-1.5zM193 130h1v1h-1zM46 53h1.5v1.5h-1.5zM179 34h1v1h-1zM211 112h1v1h-1zM116 98h1v1h-1zM45 74h1v1h-1zM94 69h1.5v1.5h-1.5zM19 48h1.5v1.5h-1.5zM153 96h1v1h-1zM106 54h1v1h-1zM125 47h1v1h-1zM152 97h1.5v1.5h-1.5zM125 94h1v1h-1zM26 33h1v1h-1zM113 34h1v1h-1zM26 106h1v1h-1zM134 92h1v1h-1zM96 85h1v1h-1zM118 95h1v1h-1zM128 44h1.5v1.5h-1.5zM45 49h1v1h-1zM63 54h1v1h-1zM193 23h1v1h-1zM139 70h1v1h-1zM23 49h1v1h-1zM126 65h1.5v1.5h-1.5zM216 107h1v1h-1zM33 38h1.5v1.5h-1.5zM92 84h1v1h-1zM5 46h1.5v1.5h-1.5zM132 66h1v1h-1zM198 78h1v1h-1zM136 120h1v1h-1zM51 46h1v1h-1zM124 47h1v1h-1zM46 35h1v1h-1zM192 73h1v1h-1zM196 118h1v1h-1zM210 82h1.5v1.5h-1.5zM30 39h1v1h-1zM110 45h1.5v1.5h-1.5zM102 100h1.5v1.5h-1.5zM116 45h1v1h-1zM111 88h1v1h-1zM85 65h1.5v1.5h-1.5zM133 90h1v1h-1zM111 46h1v1h-1zM78 37h1v1h-1zM82 55h1.5v1.5h-1.5zM196 79h1.5v1.5h-1.5zM185 32h1v1h-1zM36 43h1v1h-1zM203 18h1v1h-1zM78 75h1v1h-1zM110 57h1v1h-1zM190 6h1v1h-1zM153 117h1v1h-1zM21 132h1.5v1.5h-1.5zM193 110h1.5v1.5h-1.5zM149 65h1v1h-1zM117 47h1v1h-1zM27 53h1.5v1.5h-1.5zM189 104h1.5v1.5h-1.5zM92 141h1.5v1.5h-1.5zM139 131h1v1h-1zM125 47h1.5v1.5h-1.5zM151 79h1v1h-1zM74 134h1v1h-1zM115 46h1v1h-1zM76 40h1.5v1.5h-1.5zM115 43h1.5v1.5h-1.5zM159 60h1v1h-1zM80 55h1v1h-1zM83 72h1v1h-1zM206 127h1.5v1.5h-1.5zM122 53h1v1h-1zM107 65h1v1h-1zM102 42h1.5v1.5h-1.5zM207 82h1.5v1.5h-1.5zM123 89h1.5v1.5h-1.5zM138 74h1v1h-1zM96 42h1.5v1.5h-1.5zM88 58h1v1h-1zM130 47h1v1h-1zM120 63h1v1h-1zM98 76h1v1h-1zM215 49h1v1h-1zM92 54h1v1h-1zM48 89h1.5v1.5h-1.5zM93 63h1v1h-1zM43 37h1v1h-1zM73 48h1v1h-1zM124 76h1v1h-1zM176 139h1v1h-1zM101 42h1v1h-1zM84 58h1v1h-1zM211 113h1.5v1.5h-1.5zM135 64h1v1h-1zM75 131h1v1h-1zM109 96h1v1h-1zM142 123h1v1h-1zM128 103h1v1h-1zM214 143h1.5v1.5h-1.5zM80 129h1v1h-1zM106 95h1v1h-1zM212 136h1v1h-1zM112 64h1v1h-1zM87 65h1v1h-1zM122 64h1.5v1.5h-1.5zM87 93h1v1h-1zM119 92h1v1h-1zM37 42h1v1h-1zM183 73h1v1h-1zM117 71h1v1h-1zM37 72h1v1h-1zM125 85h1.5v1.5h-1.5zM102 65h1v1h-1zM115 46h1v1h-1zM103 65h1v1h-1zM43 74h1v1h-1zM112 93h1v1h-1zM150 47h1v1h-1zM117 62h1v1h-1zM189 106h1.5v1.5h-1.5zM130 84h1v1h-1zM144 85h1.5v1.5h-1.5zM94 53h1v1h-1zM37 52h1v1h-1zM152 139h1.5v1.5h-1.5zM129 77h1.5v1.5h-1.5zM29 53h1v1h-1zM109 86h1v1h-1zM207 96h1.5v1.5h-1.5zM216 44h1v1h-1zM115 75h1.5v1.5h-1.5zM59 56h1v1h-1zM127 128h1v1h-1zM125 51h1v1h-1zM193 126h1.5v1.5h-1.5zM163 43h1v1h-1zM130 103h1v1h-1zM14 28h1v1h-1zM95 63h1v1h-1zM90 139h1.5v1.5h-1.5zM209 16h1v1h-1zM169 67h1.5v1.5h-1.5zM175 107h1.5v1.5h-1.5zM91 41h1v1h-1zM96 92h1.5v1.5h-1.5zM135 62h1v1h-1zM172 104h1.5v1.5h-1.5zM157 41h1v1h-1zM173 126h1v1h-1zM188 110h1v1h-1zM206 108h1.5v1.5h-1.5zM91 46h1v1h-1zM41 33h1v1h-1zM157 61h1v1h-1zM20 132h1.5v1.5h-1.5zM54 116h1.5v1.5h-1.5zM100 76h1.5v1.5h-1.5zM176 28h1.5v1.5h-1.5zM184 7h1v1h-1zM152 92h1.5v1.5h-1.5zM141 91h1.5v1.5h-1.5zM102 55h1v1h-1zM184 118h1v1h-1zM210 30h1.5v1.5h-1.5zM197 103h1v1h-1zM122 85h1.5v1.5h-1.5zM133 50h1.5v1.5h-1.5zM182 99h1.5v1.5h-1.5zM72 33h1v1h-1zM113 96h1v1h-1zM138 68h1v1h-1zM50 43h1v1h-1zM202 105h1v1h-1zM103 84h1v1h-1zM193 98h1v1h-1zM48 88h1v1h-1zM93 79h1v1h-1zM146 67h1v1h-1zM120 96h1v1h-1zM189 108h1v1h-1zM109 55h1v1h-1zM176 32h1.5v1.5h-1.5zM11 92h1.5v1.5h-1.5zM119 56h1.5v1.5h-1.5zM133 102h1.5v1.5h-1.5zM205 28h1.5v1.5h-1.5zM211 56h1v1h-1zM209 28h1v1h-1zM121 95h1.5v1.5h-1.5zM188 10h1.5v1.5h-1.5zM169 97h1.5v1.5h-1.5zM139 50h1.5v1.5h-1.5zM111 95h1v1h-1zM90 48h1v1h-1zM214 87h1v1h-1zM200 78h1v1h-1zM33 43h1v1h-1zM202 45h1v1h-1zM131 59h1v1h-1zM112 47h1.5v1.5h-1.5zM62 112h1.5v1.5h-1.5zM70 42h1.5v1.5h-1.5zM96 62h1.5v1.5h-1.5zM213 109h1.5v1.5h-1.5zM216 47h1v1h-1zM87 43h1v1h-1zM215 20h1.5v1.5h-1.5zM9 102h1v1h-1zM129 67h1v1h-1zM150 80h1.5v1.5h-1.5zM204 100h1v1h-1zM98 47h1.5v1.5h-1.5zM146 98h1v1h-1zM115 64h1v1h-1zM55 40h1v1h-1zM127 101h1v1h-1zM119 92h1.5v1.5h-1.5zM155 100h1.5v1.5h-1.5zM213 109h1v1h-1zM93 72h1.5v1.5h-1.5zM55 49h1v1h-1zM81 70h1.5v1.5h-1.5zM137 69h1v1h-1zM100 55h1v1h-1zM66 39h1.5v1.5h-1.5zM106 83h1.5v1.5h-1.5zM123 88h1.5v1.5h-1.5zM194 67h1v1h-1zM122 93h1v1h-1zM8 36h1v1h-1zM137 28h1v1h-1zM128 126h1v1h-1zM25 84h1v1h-1zM203 104h1v1h-1zM191 60h1v1h-1zM127 87h1v1h-1zM74 139h1v1h-1zM6 100h1v1h-1zM148 63h1.5v1.5h-1.5zM59 108h1.5v1.5h-1.5zM120 99h1v1h-1zM151 84h1v1h-1zM208 104h1.5v1.5h-1.5zM56 104h1v1h-1zM58 46h1v1h-1zM143 73h1v1h-1zM179 34h1v1h-1zM195 111h1v1h-1zM88 59h1v1h-1zM102 56h1v1h-1zM202 42h1.5v1.5h-1.5zM45 36h1.5v1.5h-1.5zM48 96h1v1h-1zM61 61h1.5v1.5h-1.5zM132 62h1.5v1.5h-1.5zM60 51h1.5v1.5h-1.5zM86 53h1.5v1.5h-1.5zM111 45h1v1h-1zM116 64h1v1h-1zM127 129h1v1h-1zM190 142h1v1h-1zM18 80h1.5v1.5h-1.5zM69 39h1v1h-1zM51 116h1v1h-1zM201 21h1v1h-1zM131 97h1.5v1.5h-1.5zM203 101h1v1h-1zM130 138h1v1h-1zM122 138h1v1h-1zM65 116h1.5v1.5h-1.5zM120 78h1v1h-1zM207 93h1v1h-1zM186 71h1v1h-1zM14 40h1.5v1.5h-1.5zM21 33h1v1h-1zM142 53h1.5v1.5h-1.5zM212 85h1v1h-1zM123 73h1v1h-1zM119 97h1.5v1.5h-1.5zM3 48h1v1h-1zM213 8h1.5v1.5h-1.5zM217 75h1.5v1.5h-1.5zM34 46h1v1h-1zM217 4h1v1h-1zM30 77h1v1h-1zM87 77h1v1h-1zM93 71h1.5v1.5h-1.5zM106 46h1.5v1.5h-1.5zM61 123h1.5v1.5h-1.5zM51 99h1.5v1.5h-1.5zM88 34h1v1h-1zM48 43h1v1h-1zM75 49h1v1h-1zM117 70h1.5v1.5h-1.5zM83 67h1v1h-1zM78 50h1.5v1.5h-1.5zM52 50h1.5v1.5h-1.5zM99 85h1v1h-1zM121 76h1v1h-1zM113 65h1v1h-1zM206 15h1.5v1.5h-1.5zM123 63h1v1h-1zM199 83h1.5v1.5h-1.5zM145 59h1v1h-1zM125 62h1.5v1.5h-1.5zM96 92h1v1h-1zM72 46h1v1h-1zM70 120h1v1h-1zM124 78h1v1h-1zM147 103h1v1h-1zM150 102h1v1h-1zM200 75h1.5v1.5h-1.5zM60 48h1.5v1.5h-1.5zM64 81h1.5v1.5h-1.5zM205 90h1v1h-1zM105 63h1v1h-1zM178 85h1v1h-1zM87 40h1v1h-1zM115 59h1v1h-1zM78 43h1.5v1.5h-1.5zM133 95h1.5v1.5h-1.5zM125 46h1v1h-1zM184 24h1v1h-1zM100 66h1.5v1.5h-1.5zM43 88h1.5v1.5h-1.5zM188 43h1v1h-1zM108 75h1v1h-1zM139 55h1v1h-1zM154 76h1v1h-1zM195 113h1.5v1.5h-1.5zM88 95h1.5v1.5h-1.5zM54 53h1v1h-1zM101 57h1v1h-1zM103 51h1v1h-1zM131 121h1v1h-1zM82 44h1v1h-1zM187 25h1.5v1.5h-1.5zM152 59h1v1h-1zM191 102h1.5v1.5h-1.5zM23 86h1.5v1.5h-1.5zM109 71h1v1h-1zM85 62h1v1h-1zM114 92h1v1h-1zM130 44h1.5v1.5h-1.5zM135 117h1.5v1.5h-1.5zM133 73h1v1h-1zM102 59h1.5v1.5h-1.5zM85 81h1v1h-1zM94 77h1.5v1.5h-1.5zM34 38h1.5v1.5h-1.5zM150 75h1.5v1.5h-1.5zM98 63h1v1h-1zM96 96h1v1h-1zM158 81h1v1h-1zM31 132h1v1h-1zM118 75h1v1h-1zM181 89h1.5v1.5h-1.5zM67 73h1v1h-1zM90 48h1v1h-1zM152 111h1.5v1.5h-1.5zM77 47h1v1h-1zM129 32h1.5v1.5h-1.5zM207 29h1v1h-1zM132 66h1v1h-1zM8 72h1v1h-1zM90 32h1.5v1.5h-1.5zM99 67h1v1h-1zM118 58h1v1h-1zM49 55h1v1h-1zM141 91h1v1h-1zM50 121h1.5v1.5h-1.5zM119 103h1.5v1.5h-1.5zM97 74h1.5v1.5h-1.5zM176 37h1.5v1.5h-1.5zM41 107h1v1h-1zM99 81h1v1h-1zM182 43h1.5v1.5h-1.5zM200 38h1.5v1.5h-1.5zM194 9h1v1h-1zM150 18h1v1h-1zM40 129h1.5v1.5h-1.5zM184 99h1v1h-1zM102 73h1.5v1.5h-1.5zM158 87h1v1h-1zM59 104h1.5v1.5h-1.5zM208 79h1.5v1.5h-1.5zM200 16h1.5v1.5h-1.5zM199 19h1v1h-1zM183 88h1v1h-1zM52 53h1v1h-1zM76 97h1v1h-1zM205 3h1v1h-1zM198 125h1v1h-1zM145 64h1v1h-1zM186 45h1.5v1.5h-1.5zM54 97h1.5v1.5h-1.5zM99 88h1v1h-1zM184 38h1.5v1.5h-1.5zM34 44h1v1h-1zM204 6h1v1h-1zM139 56h1v1h-1zM113 42h1.5v1.5h-1.5zM33 42h1v1h-1zM40 87h1v1h-1zM176 130h1v1h-1zM203 115h1v1h-1zM36 101h1v1h-1zM178 29h1v1h-1zM179 41h1v1h-1zM149 79h1v1h-1zM99 74h1v1h-1zM121 97h1.5v1.5h-1.5zM91 60h1.5v1.5h-1.5zM136 104h1v1h-1zM117 99h1.5v1.5h-1.5zM216 47h1v1h-1zM118 97h1v1h-1zM117 103h1v1h-1zM139 113h1v1h-1zM109 86h1v1h-1zM99 69h1.5v1.5h-1.5zM208 75h1v1h-1zM28 132h1v1h-1zM103 88h1v1h-1zM105 94h1.5v1.5h-1.5zM207 43h1v1h-1zM114 95h1.5v1.5h-1.5zM195 102h1.5v1.5h-1.5zM67 69h1v1h-1zM13 43h1.5v1.5h-1.5zM100 61h1v1h-1zM110 86h1v1h-1zM198 87h1.5v1.5h-1.5zM52 143h1v1h-1zM100 51h1v1h-1z"/><path opacity="0.7" d="M126 58h1v1h-1zM68 118h1.5v1.5h-1.5zM81 79h1v1h-1zM133 72h1v1h-1zM148 55h1v1h-1zM34 95h1.5v1.5h-1.5zM36 50h1v1h-1zM118 73h1.5v1.5h-1.5zM108 48h1.5v1.5h-1.5zM216 6h1.5v1.5h-1.5zM130 100h1v1h-1zM41 49h1v1h-1zM112 62h1.5v1.5h-1.5zM199 134h1v1h-1zM211 37h1v1h-1zM100 80h1v1h-1zM33 57h1.5v1.5h-1.5zM61 39h1v1h-1zM190 34h1.5v1.5h-1.5zM89 54h1v1h-1zM132 92h1.5v1.5h-1.5zM35 52h1.5v1.5h-1.5zM93 95h1v1h-1zM200 31h1.5v1.5h-1.5zM136 61h1v1h-1zM116 60h1v1h-1zM138 69h1.5v1.5h-1.5zM22 68h1.5v1.5h-1.5zM112 84h1v1h-1zM192 35h1v1h-1zM194 36h1.5v1.5h-1.5zM90 137h1.5v1.5h-1.5zM207 95h1v1h-1zM186 28h1v1h-1zM192 80h1v1h-1zM114 69h1v1h-1zM76 75h1v1h-1zM208 97h1v1h-1zM32 98h1.5v1.5h-1.5zM30 36h1.5v1.5h-1.5zM114 101h1v1h-1zM109 41h1v1h-1zM200 130h1.5v1.5h-1.5zM102 45h1v1h-1zM90 80h1v1h-1zM51 118h1.5v1.5h-1.5zM144 50h1.5v1.5h-1.5zM130 64h1.5v1.5h-1.5zM68 57h1v1h-1zM160 103h1v1h-1zM155 128h1v1h-1zM190 88h1v1h-1zM138 92h1v1h-1zM146 59h1v1h-1zM210 12h1v1h-1zM122 53h1v1h-1zM56 81h1v1h-1zM200 24h1.5v1.5h-1.5zM192 141h1v1h-1zM172 100h1.5v1.5h-1.5zM211 33h1.5v1.5h-1.5zM203 101h1v1h-1zM183 21h1v1h-1zM129 66h1v1h-1zM109 97h1v1h-1zM97 62h1.5v1.5h-1.5zM71 121h1.5v1.5h-1.5zM8 74h1.5v1.5h-1.5zM47 107h1v1h-1zM151 44h1v1h-1zM182 34h1v1h-1zM90 44h1.5v1.5h-1.5zM85 49h1v1h-1zM201 11h1.5v1.5h-1.5zM126 59h1v1h-1zM174 6h1v1h-1zM192 15h1.5v1.5h-1.5zM167 2h1v1h-1zM113 66h1.5v1.5h-1.5zM13 37h1.5v1.5h-1.5zM107 59h1v1h-1zM14 63h1.5v1.5h-1.5zM168 96h1v1h-1zM69 30h1v1h-1zM75 97h1v1h-1zM104 79h1v1h-1zM210 130h1v1h-1zM39 70h1.5v1.5h-1.5zM64 80h1v1h-1zM158 40h1v1h-1zM64 47h1v1h-1zM74 36h1v1h-1zM148 95h1v1h-1zM117 49h1v1h-1zM119 66h1v1h-1zM16 65h1.5v1.5h-1.5zM132 55h1v1h-1zM25 82h1v1h-1zM147 58h1.5v1.5h-1.5zM130 141h1v1h-1zM190 13h1.5v1.5h-1.5zM186 33h1v1h-1zM154 77h1.5v1.5h-1.5zM120 52h1v1h-1zM92 45h1v1h-1zM194 19h1v1h-1zM74 54h1.5v1.5h-1.5zM130 38h1v1h-1zM136 28h1.5v1.5h-1.5zM108 54h1v1h-1zM195 33h1.5v1.5h-1.5zM145 65h1v1h-1zM204 33h1.5v1.5h-1.5zM30 45h1v1h-1zM66 114h1.5v1.5h-1.5zM140 63h1v1h-1zM157 121h1.5v1.5h-1.5zM99 71h1v1h-1zM63 114h1.5v1.5h-1.5zM128 94h1v1h-1zM176 81h1.5v1.5h-1.5zM104 46h1v1h-1zM47 49h1v1h-1zM72 122h1v1h-1zM53 101h1v1h-1zM89 65h1v1h-1zM56 38h1.5v1.5h-1.5zM138 54h1.5v1.5h-1.5zM137 94h1v1h-1zM122 69h1v1h-1zM192 88h1v1h-1zM109 96h1.5v1.5h-1.5zM10 40h1v1h-1zM101 68h1.5v1.5h-1.5zM98 47h1v1h-1zM142 50h1.5v1.5h-1.5zM185 100h1.5v1.5h-1.5zM118 71h1.5v1.5h-1.5zM179 12h1v1h-1zM126 76h1.5v1.5h-1.5zM172 19h1v1h-1zM90 62h1v1h-1zM208 109h1v1h-1zM174 133h1v1h-1zM98 52h1v1h-1zM105 68h1v1h-1zM46 132h1v1h-1zM122 88h1.5v1.5h-1.5zM204 88h1v1h-1zM141 95h1v1h-1zM40 49h1.5v1.5h-1.5zM205 121h1v1h-1zM41 49h1.5v1.5h-1.5zM80 137h1v1h-1zM35 32h1.5v1.5h-1.5zM150 90h1.5v1.5h-1.5zM193 108h1.5v1.5h-1.5zM73 57h1v1h-1zM89 71h1v1h-1zM89 72h1v1h-1zM160 83h1v1h-1zM40 50h1v1h-1zM146 97h1v1h-1zM92 53h1v1h-1zM58 107h1.5v1.5h-1.5zM158 94h1v1h-1zM130 91h1.5v1.5h-1.5zM153 53h1v1h-1zM120 79h1v1h-1zM155 60h1.5v1.5h-1.5zM123 105h1v1h-1zM95 57h1v1h-1zM201 24h1v1h-1zM50 117h1v1h-1zM124 81h1.5v1.5h-1.5zM168 34h1.5v1.5h-1.5zM144 94h1v1h-1zM8 79h1v1h-1zM105 71h1.5v1.5h-1.5zM190 96h1v1h-1zM127 60h1v1h-1zM104 89h1v1h-1zM191 134h1.5v1.5h-1.5zM142 45h1v1h-1zM206 15h1v1h-1zM120 90h1.5v1.5h-1.5zM14 35h1v1h-1zM140 87h1.5v1.5h-1.5zM116 48h1v1h-1zM208 25h1v1h-1zM93 47h1v1h-1zM51 117h1.5v1.5h-1.5zM65 142h1v1h-1zM182 135h1.5v1.5h-1.5zM23 49h1v1h-1zM131 69h1.5v1.5h-1.5zM126 60h1v1h-1zM21 127h1v1h-1zM84 79h1v1h-1zM132 81h1v1h-1zM91 47h1.5v1.5h-1.5zM23 45h1v1h-1zM34 76h1v1h-1zM198 92h1v1h-1zM4 123h1v1h-1zM49 117h1.5v1.5h-1.5zM64 53h1v1h-1zM59 108h1.5v1.5h-1.5zM74 63h1v1h-1zM160 80h1v1h-1zM73 46h1v1h-1zM120 103h1v1h-1zM139 143h1v1h-1zM25 50h1.5v1.5h-1.5zM56 103h1v1h-1zM37 101h1v1h-1zM73 56h1v1h-1zM102 61h1v1h-1zM184 30h1v1h-1zM138 31h1.5v1.5h-1.5zM126 44h1v1h-1zM49 54h1v1h-1zM188 9h1.5v1.5h-1.5zM88 55h1v1h-1zM58 130h1v1h-1zM155 94h1v1h-1zM136 59h1.5v1.5h-1.5zM129 90h1.5v1.5h-1.5zM114 57h1v1h-1zM172 99h1.5v1.5h-1.5zM77 48h1v1h-1zM119 77h1v1h-1zM98 86h1.5v1.5h-1.5zM121 52h1v1h-1zM124 87h1v1h-1zM181 11h1v1h-1zM80 86h1.5v1.5h-1.5zM186 27h1v1h-1zM105 101h1.5v1.5h-1.5zM105 67h1v1h-1zM107 91h1v1h-1zM202 88h1.5v1.5h-1.5zM85 72h1.5v1.5h-1.5zM198 53h1v1h-1zM116 61h1v1h-1zM101 37h1v1h-1zM195 123h1v1h-1zM64 85h1.5v1.5h-1.5zM22 76h1.5v1.5h-1.5zM99 80h1.5v1.5h-1.5zM28 49h1.5v1.5h-1.5zM110 61h1.5v1.5h-1.5zM197 87h1.5v1.5h-1.5zM103 92h1.5v1.5h-1.5zM81 98h1.5v1.5h-1.5zM71 75h1v1h-1zM92 72h1v1h-1zM153 118h1v1h-1zM162 119h1.5v1.5h-1.5zM63 61h1v1h-1zM204 91h1v1h-1zM179 81h1.5v1.5h-1.5zM133 96h1v1h-1zM59 56h1.5v1.5h-1.5zM96 50h1v1h-1zM139 40h1.5v1.5h-1.5zM88 62h1v1h-1zM27 46h1v1h-1zM176 144h1.5v1.5h-1.5zM121 83h1v1h-1zM161 96h1v1h-1zM120 58h1v1h-1zM65 46h1v1h-1zM89 56h1v1h-1zM140 82h1v1h-1zM11 42h1.5v1.5h-1.5zM139 51h1.5v1.5h-1.5zM49 114h1.5v1.5h-1.5zM134 96h1v1h-1zM11 79h1v1h-1zM113 61h1v1h-1zM172 31h1v1h-1zM180 106h1v1h-1zM121 89h1v1h-1zM58 44h1v1h-1zM148 88h1.5v1.5h-1.5zM112 62h1v1h-1zM124 101h1v1h-1zM19 38h1v1h-1zM25 114h1.5v1.5h-1.5zM101 69h1v1h-1zM115 41h1v1h-1zM109 45h1v1h-1zM205 119h1v1h-1zM201 21h1.5v1.5h-1.5zM158 87h1.5v1.5h-1.5zM67 53h1v1h-1zM201 21h1v1h-1zM61 105h1.5v1.5h-1.5zM173 93h1v1h-1zM133 93h1v1h-1zM107 96h1v1h-1zM137 70h1v1h-1zM74 122h1v1h-1zM133 47h1v1h-1zM207 43h1v1h-1zM27 39h1.5v1.5h-1.5zM74 89h1v1h-1zM139 99h1v1h-1zM91 62h1v1h-1zM76 47h1.5v1.5h-1.5zM202 133h1v1h-1zM38 52h1v1h-1zM191 16h1v1h-1zM128 49h1.5v1.5h-1.5zM87 74h1.5v1.5h-1.5zM205 94h1.5v1.5h-1.5zM110 73h1.5v1.5h-1.5zM124 48h1v1h-1zM123 100h1v1h-1zM91 55h1v1h-1zM166 122h1v1h-1zM151 100h1v1h-1zM107 89h1v1h-1zM75 96h1.5v1.5h-1.5zM79 56h1v1h-1zM37 53h1v1h-1zM80 128h1.5v1.5h-1.5zM145 76h1v1h-1zM113 69h1v1h-1zM38 43h1v1h-1zM114 32h1.5v1.5h-1.5zM101 87h1.5v1.5h-1.5zM115 46h1v1h-1zM128 62h1v1h-1zM68 51h1.5v1.5h-1.5zM146 89h1.5v1.5h-1.5zM211 99h1v1h-1zM109 50h1v1h-1zM98 66h1v1h-1zM153 81h1v1h-1zM103 70h1v1h-1zM180 19h1v1h-1zM88 82h1v1h-1zM209 90h1v1h-1zM138 144h1v1h-1zM118 44h1v1h-1zM193 40h1v1h-1zM151 52h1v1h-1zM73 67h1v1h-1zM22 63h1v1h-1zM67 54h1v1h-1zM113 64h1v1h-1zM41 40h1.5v1.5h-1.5zM145 35h1.5v1.5h-1.5zM174 28h1v1h-1zM182 139h1.5v1.5h-1.5zM166 25h1.5v1.5h-1.5zM195 73h1.5v1.5h-1.5zM176 5h1v1h-1zM151 93h1.5v1.5h-1.5zM180 89h1v1h-1zM179 73h1v1h-1zM107 93h1v1h-1zM125 54h1.5v1.5h-1.5zM48 103h1v1h-1zM90 34h1.5v1.5h-1.5zM30 56h1v1h-1zM65 52h1v1h-1zM190 135h1v1h-1zM78 70h1v1h-1zM51 88h1.5v1.5h-1.5zM134 95h1.5v1.5h-1.5zM122 70h1v1h-1zM183 74h1v1h-1zM151 87h1.5v1.5h-1.5zM90 53h1v1h-1zM30 44h1.5v1.5h-1.5zM31 40h1v1h-1zM58 123h1v1h-1zM42 61h1.5v1.5h-1.5zM41 52h1v1h-1zM137 47h1v1h-1zM138 67h1v1h-1zM94 76h1v1h-1zM125 88h1v1h-1zM206 140h1v1h-1zM44 76h1v1h-1zM70 66h1v1h-1zM81 133h1.5v1.5h-1.5zM157 97h1v1h-1zM31 84h1v1h-1zM71 140h1.5v1.5h-1.5zM209 38h1v1h-1zM106 71h1.5v1.5h-1.5zM137 91h1.5v1.5h-1.5zM106 70h1v1h-1zM142 81h1v1h-1zM141 106h1v1h-1zM147 80h1v1h-1zM39 31h1.5v1.5h-1.5zM159 108h1.5v1.5h-1.5zM105 89h1v1h-1zM137 91h1v1h-1zM110 65h1v1h-1zM128 96h1v1h-1zM139 39h1v1h-1zM133 97h1v1h-1zM119 48h1v1h-1zM75 53h1v1h-1zM59 49h1v1h-1zM147 90h1.5v1.5h-1.5zM63 127h1v1h-1zM201 105h1v1h-1zM89 34h1.5v1.5h-1.5zM36 115h1v1h-1zM85 50h1v1h-1zM140 66h1v1h-1zM178 36h1.5v1.5h-1.5zM117 73h1v1h-1zM113 68h1v1h-1zM53 58h1v1h-1zM157 97h1v1h-1zM24 43h1v1h-1zM66 114h1.5v1.5h-1.5zM88 49h1.5v1.5h-1.5zM156 115h1v1h-1zM69 58h1v1h-1zM149 111h1v1h-1zM111 61h1.5v1.5h-1.5zM74 42h1v1h-1zM96 48h1v1h-1zM207 25h1v1h-1zM33 96h1.5v1.5h-1.5zM185 10h1v1h-1zM156 127h1.5v1.5h-1.5zM126 95h1v1h-1zM16 73h1.5v1.5h-1.5zM135 59h1v1h-1zM151 124h1.5v1.5h-1.5zM140 74h1v1h-1zM106 95h1v1h-1zM26 55h1.5v1.5h-1.5zM165 143h1v1h-1zM140 61h1v1h-1zM182 27h1v1h-1zM107 52h1.5v1.5h-1.5zM130 115h1.5v1.5h-1.5zM7 121h1.5v1.5h-1.5zM99 73h1.5v1.5h-1.5zM150 68h1.5v1.5h-1.5zM197 32h1v1h-1zM116 59h1.5v1.5h-1.5zM105 47h1v1h-1zM63 49h1v1h-1zM10 127h1v1h-1zM46 69h1.5v1.5h-1.5zM119 88h1v1h-1zM93 64h1v1h-1zM47 132h1.5v1.5h-1.5zM184 16h1v1h-1zM57 53h1v1h-1zM106 47h1.5v1.5h-1.5zM102 70h1v1h-1zM96 54h1v1h-1zM108 97h1v1h-1zM56 59h1v1h-1zM147 107h1.5v1.5h-1.5zM109 95h1.5v1.5h-1.5zM128 65h1v1h-1zM111 61h1.5v1.5h-1.5zM187 142h1v1h-1zM131 60h1v1h-1zM133 89h1v1h-1zM118 89h1v1h-1zM105 85h1.5v1.5h-1.5zM60 39h1v1h-1zM114 55h1.5v1.5h-1.5zM153 74h1v1h-1zM94 88h1v1h-1zM34 106h1v1h-1zM174 18h1v1h-1zM124 93h1v1h-1zM103 52h1v1h-1zM139 123h1v1h-1zM72 140h1v1h-1zM210 17h1v1h-1zM135 134h1v1h-1zM156 73h1v1h-1zM84 67h1.5v1.5h-1.5zM185 31h1v1h-1zM68 59h1.5v1.5h-1.5zM136 98h1v1h-1zM77 58h1v1h-1zM113 74h1v1h-1zM3 40h1.5v1.5h-1.5zM118 57h1.5v1.5h-1.5zM148 74h1.5v1.5h-1.5zM81 41h1.5v1.5h-1.5zM122 106h1v1h-1zM59 61h1v1h-1zM212 53h1v1h-1zM68 87h1v1h-1zM111 88h1.5v1.5h-1.5zM170 109h1.5v1.5h-1.5zM161 91h1v1h-1zM188 111h1.5v1.5h-1.5zM110 61h1v1h-1zM105 65h1v1h-1zM4 55h1.5v1.5h-1.5zM66 62h1.5v1.5h-1.5zM144 75h1.5v1.5h-1.5zM191 99h1v1h-1zM154 111h1.5v1.5h-1.5zM103 92h1v1h-1zM14 47h1.5v1.5h-1.5zM170 31h1v1h-1zM140 46h1.5v1.5h-1.5zM102 84h1.5v1.5h-1.5zM182 22h1v1h-1zM110 59h1v1h-1zM94 57h1v1h-1zM80 58h1v1h-1zM114 71h1v1h-1zM89 96h1.5v1.5h-1.5zM128 63h1.5v1.5h-1.5z"/><path opacity="0.9" d="M65 93h1v1h-1zM47 37h1v1h-1zM57 61h1.5v1.5h-1.5zM213 121h1.5v1.5h-1.5zM211 15h1v1h-1zM131 91h1v1h-1zM79 62h1v1h-1zM203 37h1.5v1.5h-1.5zM21 50h1v1h-1zM57 114h1.5v1.5h-1.5zM88 55h1v1h-1zM36 62h1v1h-1zM130 94h1v1h-1zM145 61h1.5v1.5h-1.5zM171 134h1v1h-1zM111 93h1v1h-1zM152 106h1.5v1.5h-1.5zM65 49h1v1h-1zM20 128h1v1h-1zM144 107h1v1h-1zM131 51h1v1h-1zM135 60h1v1h-1zM105 62h1.5v1.5h-1.5zM34 44h1v1h-1zM75 37h1v1h-1zM45 71h1v1h-1zM121 59h1v1h-1zM124 65h1v1h-1zM70 39h1v1h-1zM14 80h1v1h-1zM24 47h1v1h-1zM65 116h1v1h-1zM57 35h1v1h-1zM9 140h1v1h-1zM77 125h1v1h-1zM137 116h1v1h-1zM112 56h1v1h-1zM132 55h1v1h-1zM128 97h1v1h-1zM149 84h1v1h-1zM42 42h1v1h-1zM50 66h1.5v1.5h-1.5zM70 96h1.5v1.5h-1.5zM204 82h1v1h-1zM4 71h1v1h-1zM196 25h1v1h-1zM92 54h1v1h-1zM137 105h1v1h-1zM204 126h1v1h-1zM137 79h1.5v1.5h-1.5zM144 90h1v1h-1zM200 104h1v1h-1zM185 84h1v1h-1zM161 58h1.5v1.5h-1.5zM66 84h1v1h-1zM38 51h1v1h-1zM184 113h1.5v1.5h-1.5zM91 75h1v1h-1zM44 47h1v1h-1zM136 73h1v1h-1zM27 65h1.5v1.5h-1.5zM153 89h1v1h-1zM102 70h1v1h-1zM145 127h1v1h-1zM46 37h1v1h-1zM167 130h1v1h-1zM213 89h1.5v1.5h-1.5zM60 45h1v1h-1zM14 43h1v1h-1zM111 46h1v1h-1zM134 93h1v1h-1zM126 52h1v1h-1zM20 37h1v1h-1zM212 89h1.5v1.5h-1.5zM159 53h1v1h-1zM34 64h1v1h-1zM31 45h1v1h-1zM136 94h1.5v1.5h-1.5zM117 42h1v1h-1zM118 63h1v1h-1zM94 86h1v1h-1zM89 64h1.5v1.5h-1.5zM128 55h1.5v1.5h-1.5zM134 82h1v1h-1zM129 100h1v1h-1zM181 39h1v1h-1zM143 95h1v1h-1zM84 63h1v1h-1zM122 61h1v1h-1zM128 104h1v1h-1zM64 45h1.5v1.5h-1.5zM85 62h1.5v1.5h-1.5zM107 54h1v1h-1zM104 92h1.5v1.5h-1.5zM52 56h1.5v1.5h-1.5zM15 48h1v1h-1zM111 28h1v1h-1zM138 53h1v1h-1zM113 84h1v1h-1zM111 96h1v1h-1zM38 31h1v1h-1zM59 68h1v1h-1zM176 110h1v1h-1zM48 68h1v1h-1zM159 84h1.5v1.5h-1.5zM60 31h1v1h-1zM93 141h1.5v1.5h-1.5zM33 55h1.5v1.5h-1.5zM92 39h1v1h-1zM196 75h1.5v1.5h-1.5zM128 65h1.5v1.5h-1.5zM56 122h1.5v1.5h-1.5zM132 103h1v1h-1zM120 80h1v1h-1zM124 88h1v1h-1zM129 65h1v1h-1zM88 42h1v1h-1zM22 133h1.5v1.5h-1.5zM130 53h1v1h-1zM184 24h1.5v1.5h-1.5zM116 84h1.5v1.5h-1.5zM82 93h1.5v1.5h-1.5zM150 38h1v1h-1zM107 33h1v1h-1zM207 20h1v1h-1zM109 52h1v1h-1zM148 85h1v1h-1zM56 44h1.5v1.5h-1.5zM53 64h1v1h-1zM184 33h1v1h-1zM183 116h1v1h-1zM61 75h1v1h-1zM141 57h1.5v1.5h-1.5zM14 48h1v1h-1zM52 36h1v1h-1zM92 73h1.5v1.5h-1.5zM97 91h1v1h-1zM47 46h1v1h-1zM135 108h1v1h-1zM119 98h1v1h-1zM122 93h1.5v1.5h-1.5zM130 71h1.5v1.5h-1.5zM127 62h1.5v1.5h-1.5zM39 54h1v1h-1zM47 123h1v1h-1zM183 5h1.5v1.5h-1.5zM132 99h1.5v1.5h-1.5zM92 77h1.5v1.5h-1.5zM60 54h1v1h-1zM205 22h1v1h-1zM139 27h1v1h-1zM38 42h1.5v1.5h-1.5zM126 105h1v1h-1zM141 98h1v1h-1zM69 50h1.5v1.5h-1.5zM62 109h1.5v1.5h-1.5zM18 130h1v1h-1zM107 61h1v1h-1zM44 46h1v1h-1zM29 130h1v1h-1zM27 49h1.5v1.5h-1.5zM22 39h1v1h-1zM23 42h1v1h-1zM195 93h1v1h-1zM125 101h1v1h-1zM136 75h1v1h-1zM203 29h1v1h-1zM174 37h1v1h-1zM126 85h1v1h-1zM155 92h1v1h-1zM55 134h1v1h-1zM211 47h1v1h-1zM139 80h1v1h-1zM48 112h1.5v1.5h-1.5zM129 59h1v1h-1zM123 67h1.5v1.5h-1.5zM84 67h1v1h-1zM147 117h1v1h-1zM84 96h1v1h-1zM121 98h1.5v1.5h-1.5zM210 97h1v1h-1zM114 51h1v1h-1zM138 80h1.5v1.5h-1.5zM60 109h1.5v1.5h-1.5zM197 6h1.5v1.5h-1.5zM104 45h1.5v1.5h-1.5zM182 20h1v1h-1zM187 72h1v1h-1zM183 48h1.5v1.5h-1.5zM83 65h1v1h-1zM150 56h1v1h-1zM59 61h1v1h-1zM111 100h1.5v1.5h-1.5zM98 31h1.5v1.5h-1.5zM80 43h1v1h-1zM102 62h1.5v1.5h-1.5zM189 29h1v1h-1zM134 63h1v1h-1zM179 10h1v1h-1zM109 69h1v1h-1zM43 40h1v1h-1zM135 39h1v1h-1zM194 49h1.5v1.5h-1.5zM216 76h1v1h-1zM109 38h1v1h-1zM161 102h1v1h-1zM145 99h1v1h-1zM145 69h1v1h-1zM106 62h1.5v1.5h-1.5zM199 23h1.5v1.5h-1.5zM119 61h1.5v1.5h-1.5zM103 44h1v1h-1zM126 90h1v1h-1zM113 63h1.5v1.5h-1.5zM204 42h1.5v1.5h-1.5zM130 142h1v1h-1zM33 48h1v1h-1zM66 84h1v1h-1zM155 42h1.5v1.5h-1.5zM143 91h1v1h-1zM25 84h1v1h-1zM203 92h1v1h-1zM108 59h1.5v1.5h-1.5zM191 7h1v1h-1zM118 41h1.5v1.5h-1.5zM89 84h1.5v1.5h-1.5zM199 88h1v1h-1zM200 35h1.5v1.5h-1.5zM119 101h1.5v1.5h-1.5zM20 58h1.5v1.5h-1.5zM157 94h1v1h-1zM188 33h1.5v1.5h-1.5zM197 70h1v1h-1zM118 44h1v1h-1zM207 48h1.5v1.5h-1.5zM99 37h1v1h-1zM178 41h1.5v1.5h-1.5zM119 68h1v1h-1zM118 95h1v1h-1zM64 40h1v1h-1zM50 47h1v1h-1zM49 50h1.5v1.5h-1.5zM71 86h1v1h-1zM174 21h1v1h-1zM124 87h1v1h-1zM95 92h1.5v1.5h-1.5zM125 92h1v1h-1zM70 118h1v1h-1zM134 34h1v1h-1zM112 94h1.5v1.5h-1.5zM105 56h1.5v1.5h-1.5zM104 75h1.5v1.5h-1.5zM161 47h1v1h-1zM100 67h1v1h-1zM146 38h1v1h-1zM113 70h1.5v1.5h-1.5zM31 68h1v1h-1zM69 117h1v1h-1zM195 45h1.5v1.5h-1.5zM110 79h1v1h-1zM111 82h1.5v1.5h-1.5zM184 36h1v1h-1zM59 60h1v1h-1zM34 81h1v1h-1zM204 23h1.5v1.5h-1.5zM119 74h1v1h-1zM214 111h1.5v1.5h-1.5zM126 109h1v1h-1zM202 10h1v1h-1zM8 69h1v1h-1zM78 46h1v1h-1zM130 124h1v1h-1zM51 90h1.5v1.5h-1.5zM64 31h1v1h-1zM183 24h1v1h-1zM128 60h1v1h-1zM103 96h1v1h-1zM104 97h1.5v1.5h-1.5zM73 80h1v1h-1zM198 34h1v1h-1zM12 48h1.5v1.5h-1.5zM201 90h1v1h-1zM149 61h1v1h-1zM81 127h1v1h-1zM58 123h1v1h-1zM197 25h1.5v1.5h-1.5zM81 84h1v1h-1zM200 111h1v1h-1zM76 55h1.5v1.5h-1.5zM125 45h1.5v1.5h-1.5zM210 95h1.5v1.5h-1.5zM108 53h1v1h-1zM141 44h1v1h-1zM47 52h1v1h-1zM52 40h1v1h-1zM90 71h1v1h-1zM126 66h1v1h-1zM89 80h1v1h-1zM65 115h1.5v1.5h-1.5zM120 78h1v1h-1zM188 22h1.5v1.5h-1.5zM157 135h1.5v1.5h-1.5zM123 54h1v1h-1zM57 112h1v1h-1zM137 83h1.5v1.5h-1.5zM128 70h1v1h-1zM213 96h1.5v1.5h-1.5zM109 89h1.5v1.5h-1.5zM38 127h1.5v1.5h-1.5zM86 50h1v1h-1zM25 124h1v1h-1zM196 89h1v1h-1zM193 8h1.5v1.5h-1.5zM145 90h1v1h-1zM113 65h1v1h-1zM80 141h1v1h-1zM50 98h1v1h-1zM149 71h1v1h-1zM49 42h1.5v1.5h-1.5zM99 63h1v1h-1zM181 124h1v1h-1zM122 93h1v1h-1zM157 96h1.5v1.5h-1.5zM123 50h1v1h-1zM207 25h1.5v1.5h-1.5zM69 53h1v1h-1zM135 58h1v1h-1zM196 132h1.5v1.5h-1.5zM70 56h1v1h-1zM184 97h1v1h-1zM182 14h1.5v1.5h-1.5zM157 142h1v1h-1zM143 94h1v1h-1zM194 54h1v1h-1zM103 61h1v1h-1zM102 56h1v1h-1zM174 110h1v1h-1zM207 20h1.5v1.5h-1.5zM15 28h1v1h-1zM203 100h1.5v1.5h-1.5zM14 76h1v1h-1zM48 77h1v1h-1zM197 10h1v1h-1zM129 45h1v1h-1zM160 63h1.5v1.5h-1.5zM119 102h1.5v1.5h-1.5zM103 45h1v1h-1zM14 120h1.5v1.5h-1.5zM119 88h1v1h-1zM92 142h1.5v1.5h-1.5zM135 98h1v1h-1zM190 15h1v1h-1zM96 54h1v1h-1zM78 56h1v1h-1zM144 90h1.5v1.5h-1.5zM92 94h1v1h-1zM104 64h1v1h-1zM104 79h1v1h-1zM113 60h1.5v1.5h-1.5zM147 80h1v1h-1zM216 72h1v1h-1zM116 100h1.5v1.5h-1.5zM153 57h1v1h-1zM191 88h1.5v1.5h-1.5zM60 36h1v1h-1zM13 80h1.5v1.5h-1.5zM205 36h1.5v1.5h-1.5zM71 135h1v1h-1zM74 75h1v1h-1zM114 57h1.5v1.5h-1.5zM39 38h1.5v1.5h-1.5zM178 76h1.5v1.5h-1.5zM18 122h1.5v1.5h-1.5zM125 45h1.5v1.5h-1.5zM189 25h1v1h-1zM31 112h1v1h-1zM81 53h1.5v1.5h-1.5zM185 12h1v1h-1zM121 89h1v1h-1zM136 126h1v1h-1zM135 70h1.5v1.5h-1.5zM215 85h1.5v1.5h-1.5zM70 30h1.5v1.5h-1.5zM185 37h1v1h-1zM135 73h1.5v1.5h-1.5zM116 43h1.5v1.5h-1.5zM202 16h1v1h-1zM7 120h1.5v1.5h-1.5zM141 120h1.5v1.5h-1.5zM80 56h1.5v1.5h-1.5zM75 139h1v1h-1zM39 51h1.5v1.5h-1.5zM180 33h1v1h-1zM60 136h1v1h-1zM199 76h1.5v1.5h-1.5zM11 43h1v1h-1zM128 65h1v1h-1zM16 50h1.5v1.5h-1.5zM112 38h1.5v1.5h-1.5zM202 89h1.5v1.5h-1.5zM181 32h1.5v1.5h-1.5zM194 14h1v1h-1zM209 113h1v1h-1zM125 60h1.5v1.5h-1.5zM171 58h1v1h-1zM144 67h1.5v1.5h-1.5zM107 78h1.5v1.5h-1.5zM15 43h1v1h-1zM192 37h1v1h-1zM140 57h1v1h-1zM89 85h1v1h-1zM91 95h1v1h-1zM111 50h1.5v1.5h-1.5zM194 98h1v1h-1zM75 93h1v1h-1zM187 42h1v1h-1zM97 34h1v1h-1zM152 97h1v1h-1zM195 116h1v1h-1zM148 90h1v1h-1zM114 73h1.5v1.5h-1.5zM131 80h1v1h-1zM38 31h1.5v1.5h-1.5zM114 70h1.5v1.5h-1.5zM152 57h1v1h-1zM65 55h1v1h-1zM182 23h1v1h-1zM194 81h1.5v1.5h-1.5zM198 39h1v1h-1zM110 100h1v1h-1zM51 101h1v1h-1zM142 90h1.5v1.5h-1.5zM151 85h1v1h-1zM18 47h1v1h-1zM49 115h1v1h-1zM180 42h1v1h-1zM104 68h1v1h-1zM201 10h1v1h-1zM99 68h1.5v1.5h-1.5zM40 51h1.5v1.5h-1.5zM183 9h1v1h-1zM24 54h1v1h-1zM56 47h1v1h-1zM58 123h1v1h-1zM105 40h1v1h-1zM103 33h1.5v1.5h-1.5zM70 71h1.5v1.5h-1.5zM53 44h1.5v1.5h-1.5zM116 47h1v1h-1zM212 73h1v1h-1zM78 43h1.5v1.5h-1.5zM139 52h1.5v1.5h-1.5zM58 65h1v1h-1zM127 87h1v1h-1zM125 81h1.5v1.5h-1.5zM147 91h1v1h-1zM86 82h1v1h-1zM205 9h1.5v1.5h-1.5zM115 48h1v1h-1zM158 70h1v1h-1zM75 77h1v1h-1zM91 52h1v1h-1zM71 77h1v1h-1zM108 66h1v1h-1zM25 74h1.5v1.5h-1.5zM156 84h1v1h-1zM79 88h1.5v1.5h-1.5zM37 99h1v1h-1zM107 72h1.5v1.5h-1.5zM52 99h1v1h-1zM191 29h1.5v1.5h-1.5zM111 43h1.5v1.5h-1.5zM175 15h1v1h-1zM98 93h1v1h-1zM150 93h1v1h-1zM17 42h1v1h-1zM64 112h1v1h-1zM134 96h1.5v1.5h-1.5zM124 85h1v1h-1zM47 50h1v1h-1zM22 60h1v1h-1zM202 7h1v1h-1zM97 91h1v1h-1zM199 29h1.5v1.5h-1.5zM142 98h1v1h-1zM78 85h1.5v1.5h-1.5zM123 135h1v1h-1zM33 48h1v1h-1zM207 99h1v1h-1zM139 103h1v1h-1zM37 95h1v1h-1zM15 78h1.5v1.5h-1.5zM57 63h1v1h-1zM34 44h1v1h-1zM197 96h1v1h-1zM107 79h1.5v1.5h-1.5zM63 40h1.5v1.5h-1.5zM136 49h1.5v1.5h-1.5zM5 135h1v1h-1zM21 139h1v1h-1zM52 60h1.5v1.5h-1.5zM198 38h1.5v1.5h-1.5zM58 55h1.5v1.5h-1.5zM202 26h1v1h-1zM119 50h1v1h-1zM127 86h1.5v1.5h-1.5zM104 98h1.5v1.5h-1.5zM29 44h1v1h-1zM181 82h1.5v1.5h-1.5zM95 61h1v1h-1zM202 127h1v1h-1zM50 118h1.5v1.5h-1.5zM109 94h1.5v1.5h-1.5zM172 89h1v1h-1zM94 62h1.5v1.5h-1.5zM85 88h1v1h-1zM31 122h1.5v1.5h-1.5zM210 87h1.5v1.5h-1.5zM111 100h1v1h-1zM105 61h1v1h-1zM24 50h1v1h-1zM91 91h1v1h-1zM113 81h1v1h-1zM131 87h1v1h-1zM96 47h1.5v1.5h-1.5zM200 29h1v1h-1zM122 92h1.5v1.5h-1.5zM56 81h1v1h-1zM96 69h1v1h-1zM41 46h1v1h-1zM116 51h1v1h-1zM136 52h1v1h-1zM206 17h1v1h-1zM60 74h1.5v1.5h-1.5zM107 39h1v1h-1zM96 59h1v1h-1zM178 34h1v1h-1zM45 131h1v1h-1zM34 76h1v1h-1zM107 64h1v1h-1zM105 42h1.5v1.5h-1.5zM200 90h1v1h-1zM139 88h1v1h-1zM120 55h1v1h-1zM142 31h1v1h-1zM194 17h1.5v1.5h-1.5z"/></g></svg>

<svg width="1920" height="1224" viewBox="0 0 1920 1224" style="left:0;top:0">
<defs>
<linearGradient id="vg" x1="0" y1="0" x2="1" y2="0"><stop offset="0" stop-color="#f86a6f"/><stop offset="1" stop-color="#c460f0"/></linearGradient>
<linearGradient id="tg" x1="0" y1="0" x2="0" y2="1"><stop offset="0" stop-color="#e3e6ec"/><stop offset="1" stop-color="#c3c9d5"/></linearGradient>
</defs>
<!-- selection icon -->
<path d="M32.5 418 h14.5 a1.5 1.5 0 0 1 1.5 1.5 v6.5 h-16z" fill="url(#tg)"/>
<rect x="26" y="425.5" width="23.8" height="16.5" rx="1.5" fill="#8c97ab"/>
<path d="M32.2 433.6 l4.4 3.6 l8 -7.2" fill="none" stroke="#f3f4f8" stroke-width="2.3" stroke-linecap="round" stroke-linejoin="round"/>
<!-- dataset icon -->
<rect x="26" y="487" width="23.7" height="6.5" rx="1.8" fill="#8c97ab"/>
<rect x="26" y="496" width="14.5" height="12.8" rx="1.8" fill="#c5cbd6"/>
<rect x="43" y="496" width="6.7" height="5.5" rx="1.2" fill="#d5d9e2"/>
<rect x="43" y="503.6" width="6.7" height="5.2" rx="1.2" fill="#d5d9e2"/>
<!-- versions icon -->
<path d="M37.5 563.5 L50.5 570 L37.5 577 L24.5 570z" fill="#fcdfe0" opacity=".9"/>
<path d="M37.5 555.5 L51 562.3 L37.5 569.3 L24 562.3z" fill="#f3b4e4" opacity=".9"/>
<path d="M37.5 549.6 L51 556.6 L37.5 563.6 L24 556.6z" fill="url(#vg)"/>
<!-- evaluation icon -->
<line x1="46" y1="705.5" x2="53" y2="712.3" stroke="#b8bfcc" stroke-width="3.2" stroke-linecap="round"/>
<circle cx="37.9" cy="696.9" r="12" fill="#8c97ab"/>
<path d="M31.3 700.5 l4.3 -4.6 l4.3 2 l4.6 -5" fill="none" stroke="#eef0f5" stroke-width="2.1" stroke-linecap="round" stroke-linejoin="round"/>
<!-- plus -->
<path d="M370.6 119.2 h23.2 M382.2 107.6 v23.2" stroke="#fff" stroke-width="3.2" stroke-linecap="round" fill="none"/>
<!-- cloud check -->
<path d="M313 236.6 H335.8 C338.5 236.6 340.8 233.8 340.8 230.2 C340.8 226 337.3 222.4 332.9 221.9 C332 217.7 328.3 214.8 323.6 214.8 C318 214.8 313.7 218.3 313.4 223.6 C309.6 224 307 226.8 307 230.3 C307 233.8 309.5 236.6 313 236.6z" fill="none" stroke="#0a0a0a" stroke-width="2.4" stroke-linejoin="round"/>
<path d="M318.2 228.2 L322.2 231.5 L328.1 224.5" fill="none" stroke="#0a0a0a" stroke-width="2.1" stroke-linecap="round" stroke-linejoin="round"/>
<!-- badge check -->
<path d="M699.8 183.9 l6.5 6 l12.2 -12.4" fill="none" stroke="#fff" stroke-width="3" stroke-linecap="round" stroke-linejoin="round"/>
<!-- edit icon -->
<rect x="1795.8" y="47.2" width="18.6" height="18.8" rx="2" fill="none" stroke="#4a27c5" stroke-width="1.6"/>
<path d="M1800.3 59.3 l1 -3.6 l6.2 -6.2 l2.7 2.7 l-6.2 6.2z" fill="#4a27c5"/>
<line x1="1799.5" y1="62.4" x2="1810.5" y2="62.4" stroke="#4a27c5" stroke-width="1.4"/>
<!-- circle check -->
<circle cx="858.7" cy="309.5" r="19.3" fill="none" stroke="#4a27c5" stroke-width="3"/>
<path d="M850.9 309.6 l5.8 6 l9.4 -12.6" fill="none" stroke="#4a27c5" stroke-width="2.6" stroke-linecap="round" stroke-linejoin="round"/>
<!-- chevron -->
<path d="M1386.8 1195.3 l6.8 9.6 l6.8 -9.6" fill="none" stroke="#4a27c5" stroke-width="1.6" stroke-linecap="round" stroke-linejoin="round"/>
<!-- chart titles -->
<text x="997" y="792.8" text-anchor="middle" class="ct" textLength="72.5">loss_cls</text>
<text x="1351.6" y="792.8" text-anchor="middle" class="ct" textLength="97.2">loss_bbox</text>
<text x="1706" y="792.8" text-anchor="middle" class="ct" textLength="79">loss_traj</text>

<path d="M887.6,840.6 887.9,853.3 888.1,840.5 888.4,850.6 888.6,842.1 888.9,841.9 889.1,863.8 889.4,860.0 889.6,864.6 889.9,850.9 890.2,854.2 890.4,854.9 890.7,856.3 890.9,859.8 891.2,841.3 891.4,860.5 891.7,844.4 891.9,855.9 892.2,871.1 892.5,856.2 892.7,854.7 893.0,862.2 893.2,858.3 893.5,850.3 893.7,881.4 894.0,854.7 894.2,866.2 894.5,858.1 894.8,860.4 895.0,853.8 895.3,872.0 895.5,857.3 895.8,862.5 896.0,862.2 896.3,853.4 896.5,858.2 896.8,868.5 897.1,869.3 897.3,863.2 897.6,867.7 897.8,857.2 898.1,876.9 898.3,869.1 898.6,854.7 898.9,864.5 899.1,868.9 899.4,862.9 899.6,866.7 899.9,864.7 900.1,874.3 900.4,872.8 900.6,862.9 900.9,867.0 901.2,869.4 901.4,865.9 901.7,870.9 901.9,872.3 902.2,883.4 902.4,864.2 902.7,869.1 902.9,868.6 903.2,879.3 903.5,863.6 903.7,865.5 904.0,873.8 904.2,871.7 904.5,865.6 904.7,866.5 905.0,876.2 905.2,871.6 905.5,874.4 905.8,877.8 906.0,862.5 906.3,883.7 906.5,869.5 906.8,864.6 907.0,888.9 907.3,875.7 907.5,884.2 907.8,876.1 908.1,863.9 908.3,890.0 908.6,874.7 908.8,861.4 909.1,880.7 909.3,862.2 909.6,888.7 909.8,869.6 910.1,883.9 910.4,871.6 910.6,870.6 910.9,874.5 911.1,893.7 911.4,879.3 911.6,879.4 911.9,871.7 912.1,890.9 912.4,887.1 912.7,876.9 912.9,882.7 913.2,871.0 913.4,902.5 913.7,884.5 913.9,887.6 914.2,870.6 914.4,889.5 914.7,887.1 915.0,892.0 915.2,890.4 915.5,881.4 915.7,891.5 916.0,892.7 916.2,883.1 916.5,871.4 916.8,882.7 917.0,889.8 917.3,883.0 917.5,883.4 917.8,896.7 918.0,888.9 918.3,891.4 918.5,889.0 918.8,886.5 919.1,902.3 919.3,890.1 919.6,892.4 919.8,893.6 920.1,894.3 920.3,886.4 920.6,886.3 920.8,892.0 921.1,890.1 921.4,902.0 921.6,895.4 921.9,894.4 922.1,901.7 922.4,887.6 922.6,889.0 922.9,899.1 923.1,895.5 923.4,902.4 923.7,903.1 923.9,892.0 924.2,904.5 924.4,905.7 924.7,896.7 924.9,897.4 925.2,887.9 925.4,903.5 925.7,914.3 926.0,889.6 926.2,898.6 926.5,905.4 926.7,897.2 927.0,891.7 927.2,899.2 927.5,903.9 927.7,901.1 928.0,897.8 928.3,913.9 928.5,894.0 928.8,903.6 929.0,912.2 929.3,902.8 929.5,907.1 929.8,913.8 930.0,901.3 930.3,900.7 930.6,904.7 930.8,913.3 931.1,911.0 931.3,920.2 931.6,904.5 931.8,906.8 932.1,907.8 932.3,908.4 932.6,900.3 932.9,916.8 933.1,909.5 933.4,908.5 933.6,925.0 933.9,907.5 934.1,916.4 934.4,916.9 934.7,906.8 934.9,913.5 935.2,916.0 935.4,911.8 935.7,915.2 935.9,918.2 936.2,908.8 936.4,921.5 936.7,920.3 937.0,920.5 937.2,908.9 937.5,914.6 937.7,912.5 938.0,915.8 938.2,911.8 938.5,911.2 938.7,920.3 939.0,914.2 939.3,922.5 939.5,915.2 939.8,923.1 940.0,932.1 940.3,920.0 940.5,929.6 940.8,923.1 941.0,914.6 941.3,912.8 941.6,926.2 941.8,915.5 942.1,909.1 942.3,911.4 942.6,921.7 942.8,923.2 943.1,924.8 943.3,916.0 943.6,920.9 943.9,925.2 944.1,927.7 944.4,926.6 944.6,923.3 944.9,914.8 945.1,927.5 945.4,919.0 945.6,925.1 945.9,922.5 946.2,915.2 946.4,926.2 946.7,920.8 946.9,926.1 947.2,927.4 947.4,924.4 947.7,916.7 947.9,922.6 948.2,924.5 948.5,928.2 948.7,942.2 949.0,931.8 949.2,924.2 949.5,926.6 949.7,920.9 950.0,930.2 950.2,928.7 950.5,936.6 950.8,931.8 951.0,933.3 951.3,945.9 951.5,928.2 951.8,926.2 952.0,941.1 952.3,933.1 952.6,934.6 952.8,933.5 953.1,933.7 953.3,940.0 953.6,932.6 953.8,936.6 954.1,928.5 954.3,933.2 954.6,943.6 954.9,935.5 955.1,928.2 955.4,930.8 955.6,940.0 955.9,942.2 956.1,935.6 956.4,936.1 956.6,930.1 956.9,936.5 957.2,934.0 957.4,932.4 957.7,938.3 957.9,939.7 958.2,944.2 958.4,947.0 958.7,939.5 958.9,938.0 959.2,950.7 959.5,945.6 959.7,944.5 960.0,940.0 960.2,939.9 960.5,935.1 960.7,939.3 961.0,940.0 961.2,942.4 961.5,943.8 961.8,934.8 962.0,945.4 962.3,937.9 962.5,940.3 962.8,951.2 963.0,943.3 963.3,952.3 963.5,951.4 963.8,941.5 964.1,947.7 964.3,938.4 964.6,940.9 964.8,945.3 965.1,954.3 965.3,947.5 965.6,946.4 965.8,944.4 966.1,944.7 966.4,953.3 966.6,950.9 966.9,942.9 967.1,951.6 967.4,947.3 967.6,937.9 967.9,950.7 968.1,941.6 968.4,945.0 968.7,950.6 968.9,940.3 969.2,941.7 969.4,949.3 969.7,938.3 969.9,958.6 970.2,956.3 970.4,945.2 970.7,948.5 971.0,951.4 971.2,949.4 971.5,955.3 971.7,954.0 972.0,951.5 972.2,955.1 972.5,951.0 972.8,954.7 973.0,963.4 973.3,947.6 973.5,955.0 973.8,949.9 974.0,963.8 974.3,950.3 974.5,951.6 974.8,958.4 975.1,957.3 975.3,961.4 975.6,958.9 975.8,950.6 976.1,959.1 976.3,953.8 976.6,950.7 976.8,955.3 977.1,957.8 977.4,955.9 977.6,959.5 977.9,959.0 978.1,964.1 978.4,962.0 978.6,956.7 978.9,956.2 979.1,951.3 979.4,958.5 979.7,966.7 979.9,958.7 980.2,959.0 980.4,953.3 980.7,964.0 980.9,954.9 981.2,966.2 981.4,953.1 981.7,954.6 982.0,961.0 982.2,960.0 982.5,963.8 982.7,960.8 983.0,965.0 983.2,960.1 983.5,970.5 983.7,968.7 984.0,968.4 984.3,968.9 984.5,966.4 984.8,966.8 985.0,965.4 985.3,965.8 985.5,972.6 985.8,967.1 986.0,969.3 986.3,964.0 986.6,971.6 986.8,966.0 987.1,976.2 987.3,956.3 987.6,964.0 987.8,977.9 988.1,971.1 988.3,962.7 988.6,967.3 988.9,980.0 989.1,965.9 989.4,967.5 989.6,963.2 989.9,967.9 990.1,972.7 990.4,960.7 990.7,959.5 990.9,956.8 991.2,976.7 991.4,973.8 991.7,972.7 991.9,966.3 992.2,972.1 992.4,974.0 992.7,969.0 993.0,973.8 993.2,971.4 993.5,967.5 993.7,971.4 994.0,971.6 994.2,976.8 994.5,966.8 994.7,975.2 995.0,977.4 995.3,976.9 995.5,977.5 995.8,969.1 996.0,974.1 996.3,972.1 996.5,983.4 996.8,976.5 997.0,973.2 997.3,973.7 997.6,975.1 997.8,980.2 998.1,976.7 998.3,979.9 998.6,982.4 998.8,975.6 999.1,978.6 999.3,976.3 999.6,975.2 999.9,972.4 1000.1,981.6 1000.4,974.0 1000.6,980.3 1000.9,981.2 1001.1,983.5 1001.4,977.7 1001.6,980.9 1001.9,972.6 1002.2,979.9 1002.4,981.2 1002.7,988.4 1002.9,980.4 1003.2,985.2 1003.4,982.2 1003.7,985.2 1003.9,984.7 1004.2,985.1 1004.5,977.6 1004.7,987.2 1005.0,980.2 1005.2,987.5 1005.5,988.7 1005.7,982.2 1006.0,976.5 1006.2,982.4 1006.5,982.6 1006.8,979.2 1007.0,982.1 1007.3,982.4 1007.5,989.0 1007.8,991.6 1008.0,992.6 1008.3,983.3 1008.6,985.3 1008.8,989.0 1009.1,981.9 1009.3,985.1 1009.6,995.8 1009.8,988.9 1010.1,985.6 1010.3,990.6 1010.6,988.8 1010.9,986.7 1011.1,985.9 1011.4,985.0 1011.6,992.9 1011.9,990.8 1012.1,993.9 1012.4,987.7 1012.6,989.1 1012.9,987.1 1013.2,989.1 1013.4,989.7 1013.7,989.1 1013.9,987.2 1014.2,992.2 1014.4,992.0 1014.7,985.3 1014.9,996.2 1015.2,985.8 1015.5,984.7 1015.7,989.3 1016.0,985.3 1016.2,996.7 1016.5,992.1 1016.7,985.4 1017.0,993.9 1017.2,990.8 1017.5,997.3 1017.8,997.5 1018.0,1000.4 1018.3,996.8 1018.5,993.8 1018.8,999.0 1019.0,1004.1 1019.3,990.5 1019.5,989.9 1019.8,999.5 1020.1,988.9 1020.3,993.3 1020.6,1000.2 1020.8,1006.6 1021.1,996.6 1021.3,998.7 1021.6,994.8 1021.8,1000.0 1022.1,1006.1 1022.4,999.9 1022.6,1004.2 1022.9,994.5 1023.1,996.5 1023.4,1007.3 1023.6,1001.2 1023.9,996.6 1024.1,1008.7 1024.4,991.5 1024.7,1002.9 1024.9,1007.5 1025.2,1000.1 1025.4,997.6 1025.7,1000.5 1025.9,999.2 1026.2,1000.0 1026.5,1002.1 1026.7,1001.2 1027.0,999.6 1027.2,998.9 1027.5,996.8 1027.7,1006.2 1028.0,999.5 1028.2,1007.8 1028.5,1000.8 1028.8,1008.6 1029.0,1009.1 1029.3,1002.7 1029.5,1003.7 1029.8,1004.1 1030.0,1010.8 1030.3,1004.6 1030.5,1002.0 1030.8,1007.9 1031.1,1012.1 1031.3,999.5 1031.6,1006.9 1031.8,1003.5 1032.1,1005.9 1032.3,1002.8 1032.6,1010.3 1032.8,999.7 1033.1,1006.4 1033.4,1008.9 1033.6,1006.4 1033.9,1005.3 1034.1,1005.8 1034.4,1009.0 1034.6,1001.8 1034.9,1008.8 1035.1,1012.7 1035.4,1003.9 1035.7,1005.5 1035.9,1009.6 1036.2,1010.7 1036.4,1005.7 1036.7,1010.8 1036.9,1016.2 1037.2,1013.0 1037.4,1010.5 1037.7,1007.6 1038.0,1013.1 1038.2,1011.2 1038.5,1010.2 1038.7,1015.2 1039.0,1012.2 1039.2,1013.4 1039.5,1014.2 1039.7,1006.4 1040.0,1010.1 1040.3,1013.6 1040.5,1006.4 1040.8,1012.5 1041.0,1007.1 1041.3,1014.0 1041.5,1014.1 1041.8,1011.7 1042.0,1011.8 1042.3,1013.8 1042.6,1013.8 1042.8,1008.2 1043.1,1011.3 1043.3,1013.0 1043.6,1012.0 1043.8,1016.3 1044.1,1017.4 1044.4,1015.2 1044.6,1011.8 1044.9,1018.8 1045.1,1017.5 1045.4,1012.6 1045.6,1011.0 1045.9,1019.0 1046.1,1017.0 1046.4,1019.1 1046.7,1016.4 1046.9,1019.2 1047.2,1020.6 1047.4,1015.8 1047.7,1015.2 1047.9,1017.1 1048.2,1016.3 1048.4,1017.1 1048.7,1011.1 1049.0,1021.1 1049.2,1015.7 1049.5,1018.3 1049.7,1017.6 1050.0,1012.3 1050.2,1016.0 1050.5,1020.1 1050.7,1015.2 1051.0,1022.3 1051.3,1016.0 1051.5,1019.3 1051.8,1017.4 1052.0,1017.7 1052.3,1016.7 1052.5,1017.9 1052.8,1017.8 1053.0,1014.2 1053.3,1017.8 1053.6,1023.4 1053.8,1020.4 1054.1,1017.5 1054.3,1019.4 1054.6,1020.2 1054.8,1014.6 1055.1,1017.4 1055.3,1016.6 1055.6,1014.1 1055.9,1016.4 1056.1,1013.9 1056.4,1019.4 1056.6,1019.5 1056.9,1023.2 1057.1,1021.7 1057.4,1020.5 1057.6,1022.6 1057.9,1023.2 1058.2,1024.9 1058.4,1019.7 1058.7,1024.0 1058.9,1020.5 1059.2,1018.3 1059.4,1019.8 1059.7,1023.8 1059.9,1025.4 1060.2,1023.5 1060.5,1021.5 1060.7,1024.6 1061.0,1025.7 1061.2,1020.6 1061.5,1024.4 1061.7,1026.2 1062.0,1021.0 1062.2,1026.4 1062.5,1021.0 1062.8,1021.0 1063.0,1023.1 1063.3,1029.4 1063.5,1025.0 1063.8,1024.1 1064.0,1023.7 1064.3,1027.3 1064.6,1025.7 1064.8,1027.0 1065.1,1028.8 1065.3,1025.4 1065.6,1021.5 1065.8,1025.9 1066.1,1020.9 1066.3,1024.0 1066.6,1022.8 1066.9,1031.1 1067.1,1025.0 1067.4,1022.6 1067.6,1028.9 1067.9,1030.2 1068.1,1025.5 1068.4,1028.9 1068.6,1027.5 1068.9,1029.6 1069.2,1026.2 1069.4,1027.7 1069.7,1031.4 1069.9,1030.7 1070.2,1028.7 1070.4,1025.2 1070.7,1029.2 1070.9,1028.0 1071.2,1029.6 1071.5,1026.3 1071.7,1028.6 1072.0,1026.8 1072.2,1032.2 1072.5,1025.2 1072.7,1028.6 1073.0,1026.1 1073.2,1031.8 1073.5,1031.9 1073.8,1030.4 1074.0,1030.7 1074.3,1031.9 1074.5,1030.3 1074.8,1028.8 1075.0,1028.8 1075.3,1035.1 1075.5,1032.4 1075.8,1030.2 1076.1,1035.7 1076.3,1031.2 1076.6,1032.2 1076.8,1030.1 1077.1,1033.6 1077.3,1031.5 1077.6,1034.8 1077.8,1035.0 1078.1,1032.1 1078.4,1033.0 1078.6,1031.2 1078.9,1034.7 1079.1,1032.1 1079.4,1032.8 1079.6,1033.7 1079.9,1031.8 1080.1,1031.9 1080.4,1032.2 1080.7,1035.3 1080.9,1035.7 1081.2,1032.5 1081.4,1028.6 1081.7,1035.2 1081.9,1031.6 1082.2,1034.7 1082.5,1037.8 1082.7,1035.9 1083.0,1033.8 1083.2,1041.2 1083.5,1030.3 1083.7,1037.0 1084.0,1036.9 1084.2,1035.7 1084.5,1032.7 1084.8,1039.1 1085.0,1037.6 1085.3,1027.9 1085.5,1037.1 1085.8,1031.9 1086.0,1038.3 1086.3,1032.3 1086.5,1039.0 1086.8,1035.7 1087.1,1037.1 1087.3,1036.4 1087.6,1034.9 1087.8,1038.6 1088.1,1034.5 1088.3,1039.9 1088.6,1039.1 1088.8,1036.0 1089.1,1037.3 1089.4,1035.7 1089.6,1036.9 1089.9,1036.2 1090.1,1031.0 1090.4,1040.1 1090.6,1031.7 1090.9,1036.5 1091.1,1036.2 1091.4,1042.1 1091.7,1032.2 1091.9,1041.2 1092.2,1038.0 1092.4,1037.0 1092.7,1040.8 1092.9,1037.9 1093.2,1040.2 1093.4,1038.7 1093.7,1037.8 1094.0,1037.6 1094.2,1041.3 1094.5,1036.3 1094.7,1042.9 1095.0,1042.5 1095.2,1038.0 1095.5,1037.1 1095.7,1036.8 1096.0,1037.5 1096.3,1037.7 1096.5,1037.7 1096.8,1041.1 1097.0,1039.2 1097.3,1039.7 1097.5,1037.7 1097.8,1035.8 1098.0,1043.0 1098.3,1038.3 1098.6,1040.3 1098.8,1044.7 1099.1,1038.5 1099.3,1041.3 1099.6,1040.4 1099.8,1040.5 1100.1,1045.2 1100.4,1041.7 1100.6,1039.4 1100.9,1043.6 1101.1,1042.3 1101.4,1041.1 1101.6,1045.5 1101.9,1035.8 1102.1,1039.4 1102.4,1040.4 1102.7,1042.1 1102.9,1044.4 1103.2,1037.7 1103.4,1037.7 1103.7,1044.6 1103.9,1045.5 1104.2,1044.8 1104.4,1044.5 1104.7,1038.9 1105.0,1041.4 1105.2,1042.0 1105.5,1040.5 1105.7,1040.5 1106.0,1042.6 1106.2,1043.3 1106.5,1043.0 1106.7,1043.1 1107.0,1041.2 1107.3,1043.6 1107.5,1042.2 1107.8,1040.1 1108.0,1044.6 1108.3,1045.3 1108.5,1040.3 1108.8,1044.1 1109.0,1040.5 1109.3,1045.9 1109.6,1041.8 1109.8,1047.8 1110.1,1041.8 1110.3,1040.6 1110.6,1042.9 1110.8,1039.8 1111.1,1041.4 1111.3,1044.2 1111.6,1042.3 1111.9,1047.0 1112.1,1042.3 1112.4,1044.1 1112.6,1041.6 1112.9,1044.6 1113.1,1041.0 1113.4,1042.0 1113.6,1045.7 1113.9,1045.0 1114.2,1042.7 1114.4,1041.9 1114.7,1047.3 1114.9,1044.5 1115.2,1042.0 1115.4,1044.5 1115.7,1048.0 1115.9,1042.9 1116.2,1045.8 1116.5,1041.2 1116.7,1046.7 1117.0,1045.4 1117.2,1045.8 1117.5,1048.7 1117.7,1045.9 1118.0,1046.4 1118.3,1046.3 1118.5,1047.6 1118.8,1044.5 1119.0,1049.0 1119.3,1046.6 1119.5,1046.6 1119.8,1049.5 1120.0,1043.1 1120.3,1042.0 1120.6,1044.2 1120.8,1044.0 1121.1,1047.6 1121.3,1045.7 1121.6,1045.7 1121.8,1045.3 1122.1,1043.3 1122.3,1045.6 1122.6,1047.7 1122.9,1045.8 1123.1,1044.3 1123.4,1048.0 1123.6,1044.7 1123.9,1049.2 1124.1,1052.4 1124.4,1045.0 1124.6,1041.7 1124.9,1046.5 1125.2,1045.6 1125.4,1042.6 1125.7,1042.0 1125.9,1047.1 1126.2,1046.4 1126.4,1044.3 1126.7,1048.0 1126.9,1048.5 1127.2,1044.7 1127.5,1044.1 1127.7,1046.9 1128.0,1044.1 1128.2,1047.6 1128.5,1043.5 1128.7,1046.9 1129.0,1048.4 1129.2,1046.9 1129.5,1046.1 1129.8,1046.9 1130.0,1044.3 1130.3,1046.1 1130.5,1048.3 1130.8,1038.7 1131.0,1044.0 1131.3,1048.4 1131.5,1043.7 1131.8,1044.2 1132.1,1042.3 1132.3,1045.7 1132.6,1046.1 1132.8,1048.0 1133.1,1047.7 1133.3,1044.4 1133.6,1049.7 1133.8,1049.6 1134.1,1044.5 1134.4,1050.2 1134.6,1050.0 1134.9,1047.7 1135.1,1041.4 1135.4,1044.7 1135.6,1049.9 1135.9,1040.4 1136.2,1043.6 1136.4,1042.9 1136.7,1047.0 1136.9,1044.1 1137.2,1044.2 1137.4,1047.3 1137.7,1046.5 1137.9,1045.7 1138.2,1045.1 1138.5,1044.1 1138.7,1044.5 1139.0,1051.9 1139.2,1047.2 1139.5,1049.0 1139.7,1050.0 1140.0,1050.0 1140.2,1044.7 1140.5,1047.7 1140.8,1043.2 1141.0,1046.9 1141.3,1049.8 1141.5,1049.1 1141.8,1047.4 1142.0,1048.9 1142.3,1044.5 1142.5,1045.4 1142.8,1048.1 1143.1,1045.1" fill="none" stroke="#bd4efa" stroke-width="1.5" stroke-linejoin="round"/>
<line x1="881.0" x2="887.2" y1="824.2" y2="824.2" stroke="#9a9a9a" stroke-width="1.4"/>
<text x="875.3" y="830.0" text-anchor="end" class="ax">0.2</text>
<line x1="881.0" x2="887.2" y1="893.4" y2="893.4" stroke="#9a9a9a" stroke-width="1.4"/>
<text x="875.3" y="899.2" text-anchor="end" class="ax">0.15</text>
<line x1="881.0" x2="887.2" y1="962.6" y2="962.6" stroke="#9a9a9a" stroke-width="1.4"/>
<text x="875.3" y="968.4" text-anchor="end" class="ax">0.1</text>
<line x1="881.0" x2="887.2" y1="1031.9" y2="1031.9" stroke="#9a9a9a" stroke-width="1.4"/>
<text x="875.3" y="1037.7" text-anchor="end" class="ax">0.05</text>
<line x1="881.0" x2="887.2" y1="1101.1" y2="1101.1" stroke="#9a9a9a" stroke-width="1.4"/>
<text x="875.3" y="1106.9" text-anchor="end" class="ax">0</text>
<line x1="909.4" x2="909.4" y1="1102.0" y2="1107.5" stroke="#8a8a8a" stroke-width="1.4"/>
<text x="909.4" y="1130" text-anchor="middle" class="ax">50000</text>
<line x1="982.6" x2="982.6" y1="1102.0" y2="1107.5" stroke="#8a8a8a" stroke-width="1.4"/>
<text x="982.6" y="1130" text-anchor="middle" class="ax">100000</text>
<line x1="1055.8" x2="1055.8" y1="1102.0" y2="1107.5" stroke="#8a8a8a" stroke-width="1.4"/>
<text x="1055.8" y="1130" text-anchor="middle" class="ax">150000</text>
<line x1="1129.0" x2="1129.0" y1="1102.0" y2="1107.5" stroke="#8a8a8a" stroke-width="1.4"/>
<text x="1129.0" y="1130" text-anchor="middle" class="ax">200000</text>
<path d="M1241.8,855.0 1242.1,867.9 1242.3,873.8 1242.6,867.5 1242.8,863.8 1243.1,858.6 1243.3,873.2 1243.6,875.1 1243.8,882.0 1244.1,874.6 1244.4,866.3 1244.6,877.0 1244.9,886.2 1245.1,877.6 1245.4,882.6 1245.6,871.0 1245.9,877.1 1246.1,878.1 1246.4,872.9 1246.7,871.9 1246.9,868.4 1247.2,879.5 1247.4,874.1 1247.7,877.1 1247.9,887.0 1248.2,875.1 1248.4,873.1 1248.7,867.4 1249.0,872.2 1249.2,885.0 1249.5,892.2 1249.7,881.6 1250.0,880.9 1250.2,887.6 1250.5,887.8 1250.7,886.3 1251.0,886.9 1251.3,882.9 1251.5,889.6 1251.8,884.9 1252.0,871.8 1252.3,885.8 1252.5,891.6 1252.8,898.2 1253.1,905.8 1253.3,868.5 1253.6,885.0 1253.8,886.3 1254.1,901.3 1254.3,883.4 1254.6,880.8 1254.8,898.2 1255.1,888.3 1255.4,896.3 1255.6,886.4 1255.9,898.7 1256.1,884.8 1256.4,903.1 1256.6,878.1 1256.9,888.5 1257.1,888.7 1257.4,895.7 1257.7,900.8 1257.9,902.1 1258.2,880.2 1258.4,899.6 1258.7,908.1 1258.9,883.4 1259.2,879.4 1259.4,884.7 1259.7,889.3 1260.0,899.2 1260.2,905.2 1260.5,895.4 1260.7,907.2 1261.0,885.4 1261.2,892.8 1261.5,897.8 1261.7,905.9 1262.0,891.8 1262.3,902.8 1262.5,903.1 1262.8,897.4 1263.0,904.9 1263.3,899.9 1263.5,900.7 1263.8,899.3 1264.0,888.5 1264.3,907.5 1264.6,901.3 1264.8,896.9 1265.1,894.9 1265.3,901.8 1265.6,901.0 1265.8,904.0 1266.1,909.4 1266.3,891.5 1266.6,902.9 1266.9,892.6 1267.1,895.2 1267.4,912.4 1267.6,894.0 1267.9,905.5 1268.1,898.3 1268.4,914.8 1268.6,904.7 1268.9,906.0 1269.2,900.9 1269.4,906.2 1269.7,911.6 1269.9,908.4 1270.2,911.0 1270.4,918.1 1270.7,906.0 1271.0,915.1 1271.2,906.8 1271.5,916.4 1271.7,903.4 1272.0,907.8 1272.2,908.6 1272.5,907.4 1272.7,917.9 1273.0,915.1 1273.3,919.2 1273.5,927.1 1273.8,919.2 1274.0,908.0 1274.3,924.6 1274.5,925.0 1274.8,906.6 1275.0,922.9 1275.3,918.3 1275.6,923.6 1275.8,927.7 1276.1,921.0 1276.3,924.5 1276.6,927.9 1276.8,926.1 1277.1,910.1 1277.3,918.7 1277.6,915.7 1277.9,915.3 1278.1,914.3 1278.4,926.3 1278.6,929.6 1278.9,919.0 1279.1,933.3 1279.4,920.5 1279.6,914.6 1279.9,916.8 1280.2,927.5 1280.4,926.1 1280.7,930.4 1280.9,925.7 1281.2,912.3 1281.4,914.1 1281.7,928.0 1281.9,926.3 1282.2,922.4 1282.5,928.2 1282.7,921.9 1283.0,926.5 1283.2,915.0 1283.5,918.0 1283.7,935.1 1284.0,926.7 1284.2,921.3 1284.5,923.9 1284.8,919.1 1285.0,931.9 1285.3,927.3 1285.5,937.0 1285.8,927.0 1286.0,932.3 1286.3,928.9 1286.5,936.3 1286.8,938.8 1287.1,939.3 1287.3,933.3 1287.6,940.9 1287.8,931.1 1288.1,931.2 1288.3,928.7 1288.6,931.8 1288.9,941.4 1289.1,935.4 1289.4,939.1 1289.6,942.3 1289.9,932.2 1290.1,941.5 1290.4,932.1 1290.6,946.1 1290.9,936.0 1291.2,935.8 1291.4,938.3 1291.7,951.1 1291.9,942.4 1292.2,945.7 1292.4,940.0 1292.7,944.3 1292.9,933.5 1293.2,936.3 1293.5,947.1 1293.7,938.4 1294.0,938.9 1294.2,930.6 1294.5,940.8 1294.7,934.3 1295.0,941.2 1295.2,936.7 1295.5,952.6 1295.8,935.9 1296.0,947.1 1296.3,941.9 1296.5,942.4 1296.8,949.7 1297.0,948.3 1297.3,946.5 1297.5,955.0 1297.8,954.9 1298.1,933.6 1298.3,937.3 1298.6,956.5 1298.8,935.8 1299.1,944.6 1299.3,951.1 1299.6,936.8 1299.8,944.7 1300.1,951.5 1300.4,947.3 1300.6,956.2 1300.9,938.7 1301.1,957.8 1301.4,951.4 1301.6,964.1 1301.9,958.1 1302.1,959.1 1302.4,939.5 1302.7,955.6 1302.9,946.8 1303.2,954.8 1303.4,944.8 1303.7,954.3 1303.9,960.1 1304.2,942.1 1304.4,952.2 1304.7,950.5 1305.0,949.4 1305.2,956.3 1305.5,956.6 1305.7,952.6 1306.0,953.6 1306.2,961.6 1306.5,967.6 1306.8,957.8 1307.0,963.7 1307.3,947.8 1307.5,953.2 1307.8,957.9 1308.0,952.7 1308.3,959.2 1308.5,960.0 1308.8,965.5 1309.1,963.7 1309.3,952.1 1309.6,956.6 1309.8,964.9 1310.1,957.4 1310.3,963.0 1310.6,960.3 1310.8,956.0 1311.1,952.9 1311.4,964.5 1311.6,961.8 1311.9,966.9 1312.1,953.9 1312.4,949.8 1312.6,969.2 1312.9,977.2 1313.1,960.7 1313.4,965.8 1313.7,969.3 1313.9,951.1 1314.2,967.2 1314.4,962.2 1314.7,959.4 1314.9,979.0 1315.2,965.4 1315.4,970.5 1315.7,973.7 1316.0,969.5 1316.2,974.3 1316.5,958.8 1316.7,978.7 1317.0,962.6 1317.2,971.6 1317.5,977.4 1317.7,964.6 1318.0,966.0 1318.3,969.1 1318.5,972.7 1318.8,974.9 1319.0,974.0 1319.3,968.8 1319.5,963.8 1319.8,965.5 1320.0,979.8 1320.3,971.4 1320.6,971.4 1320.8,981.2 1321.1,973.2 1321.3,976.3 1321.6,986.6 1321.8,969.9 1322.1,986.4 1322.3,978.0 1322.6,963.1 1322.9,980.5 1323.1,976.3 1323.4,975.5 1323.6,974.9 1323.9,980.7 1324.1,981.1 1324.4,970.3 1324.6,974.1 1324.9,988.8 1325.2,969.6 1325.4,992.5 1325.7,977.2 1325.9,992.4 1326.2,986.1 1326.4,985.8 1326.7,979.0 1327.0,966.6 1327.2,967.0 1327.5,989.3 1327.7,984.9 1328.0,984.3 1328.2,980.9 1328.5,995.9 1328.7,983.9 1329.0,997.1 1329.3,988.1 1329.5,979.5 1329.8,982.0 1330.0,980.7 1330.3,974.4 1330.5,987.2 1330.8,982.1 1331.0,989.5 1331.3,988.7 1331.6,981.0 1331.8,984.4 1332.1,981.7 1332.3,992.0 1332.6,1002.5 1332.8,984.2 1333.1,992.1 1333.3,986.7 1333.6,989.5 1333.9,983.9 1334.1,977.0 1334.4,988.5 1334.6,991.3 1334.9,988.0 1335.1,985.3 1335.4,992.8 1335.6,991.7 1335.9,991.8 1336.2,991.3 1336.4,986.7 1336.7,990.9 1336.9,987.0 1337.2,992.7 1337.4,992.9 1337.7,992.9 1337.9,990.6 1338.2,981.1 1338.5,995.6 1338.7,998.2 1339.0,993.9 1339.2,991.6 1339.5,995.5 1339.7,993.3 1340.0,995.2 1340.2,985.8 1340.5,999.3 1340.8,987.8 1341.0,988.9 1341.3,988.9 1341.5,990.4 1341.8,1004.3 1342.0,985.7 1342.3,994.3 1342.5,999.8 1342.8,1004.4 1343.1,1001.6 1343.3,992.4 1343.6,991.4 1343.8,1001.0 1344.1,987.4 1344.3,1006.9 1344.6,1007.8 1344.9,990.1 1345.1,1010.8 1345.4,1008.1 1345.6,997.3 1345.9,991.4 1346.1,990.7 1346.4,981.5 1346.6,1005.2 1346.9,994.5 1347.2,1004.9 1347.4,1013.3 1347.7,1005.4 1347.9,1005.5 1348.2,990.9 1348.4,1005.3 1348.7,1016.1 1348.9,1007.7 1349.2,999.1 1349.5,998.8 1349.7,1004.1 1350.0,1007.6 1350.2,996.5 1350.5,1004.1 1350.7,1004.6 1351.0,995.3 1351.2,998.4 1351.5,1001.5 1351.8,1009.2 1352.0,1009.2 1352.3,1004.2 1352.5,1003.6 1352.8,1002.6 1353.0,1006.3 1353.3,1010.8 1353.5,1006.5 1353.8,1007.7 1354.1,1004.5 1354.3,998.2 1354.6,1006.6 1354.8,1017.0 1355.1,1008.8 1355.3,1002.4 1355.6,1004.1 1355.8,1008.6 1356.1,1004.9 1356.4,1013.9 1356.6,1002.3 1356.9,1003.9 1357.1,1015.3 1357.4,1015.3 1357.6,1014.3 1357.9,999.6 1358.1,1018.7 1358.4,1011.6 1358.7,1001.9 1358.9,1018.9 1359.2,1020.3 1359.4,1008.1 1359.7,1001.5 1359.9,1013.7 1360.2,1023.2 1360.4,1010.0 1360.7,1011.4 1361.0,999.6 1361.2,1006.0 1361.5,1009.7 1361.7,1006.0 1362.0,1021.8 1362.2,1008.5 1362.5,1019.5 1362.8,1008.2 1363.0,1012.1 1363.3,1027.1 1363.5,1023.0 1363.8,1025.9 1364.0,1015.8 1364.3,998.3 1364.5,1008.0 1364.8,1016.5 1365.1,1018.2 1365.3,1011.5 1365.6,1021.0 1365.8,1008.4 1366.1,1020.6 1366.3,1012.4 1366.6,1013.7 1366.8,1016.2 1367.1,1025.5 1367.4,1014.1 1367.6,1015.8 1367.9,1020.5 1368.1,1015.9 1368.4,1026.2 1368.6,1021.7 1368.9,1015.1 1369.1,1017.1 1369.4,1017.6 1369.7,1024.0 1369.9,1034.4 1370.2,1019.9 1370.4,1023.7 1370.7,1027.3 1370.9,1018.6 1371.2,1032.2 1371.4,1030.3 1371.7,1015.9 1372.0,1026.7 1372.2,1017.0 1372.5,1019.4 1372.7,1028.8 1373.0,1020.1 1373.2,1029.9 1373.5,1030.7 1373.7,1026.5 1374.0,1030.4 1374.3,1022.1 1374.5,1039.6 1374.8,1017.6 1375.0,1033.3 1375.3,1030.3 1375.5,1026.8 1375.8,1023.4 1376.0,1031.3 1376.3,1028.7 1376.6,1029.5 1376.8,1023.8 1377.1,1017.5 1377.3,1040.5 1377.6,1024.7 1377.8,1034.7 1378.1,1022.7 1378.3,1031.2 1378.6,1030.9 1378.9,1025.9 1379.1,1031.2 1379.4,1031.0 1379.6,1030.8 1379.9,1031.2 1380.1,1032.9 1380.4,1023.4 1380.7,1031.8 1380.9,1022.8 1381.2,1032.0 1381.4,1023.4 1381.7,1042.7 1381.9,1039.2 1382.2,1031.7 1382.4,1038.6 1382.7,1022.0 1383.0,1031.4 1383.2,1035.1 1383.5,1031.4 1383.7,1045.2 1384.0,1037.8 1384.2,1036.8 1384.5,1029.7 1384.7,1033.3 1385.0,1033.2 1385.3,1037.7 1385.5,1031.0 1385.8,1030.9 1386.0,1035.4 1386.3,1037.8 1386.5,1028.2 1386.8,1039.6 1387.0,1038.0 1387.3,1033.2 1387.6,1039.8 1387.8,1040.1 1388.1,1034.0 1388.3,1049.6 1388.6,1039.2 1388.8,1049.9 1389.1,1041.3 1389.3,1044.6 1389.6,1040.0 1389.9,1046.4 1390.1,1044.6 1390.4,1041.6 1390.6,1044.2 1390.9,1041.9 1391.1,1049.1 1391.4,1043.8 1391.6,1055.9 1391.9,1049.8 1392.2,1034.5 1392.4,1048.8 1392.7,1045.7 1392.9,1042.5 1393.2,1044.1 1393.4,1044.8 1393.7,1051.4 1393.9,1048.6 1394.2,1048.4 1394.5,1043.3 1394.7,1048.8 1395.0,1046.6 1395.2,1055.4 1395.5,1047.2 1395.7,1044.6 1396.0,1041.4 1396.2,1052.6 1396.5,1047.4 1396.8,1047.5 1397.0,1040.3 1397.3,1055.2 1397.5,1054.8 1397.8,1047.7 1398.0,1056.8 1398.3,1052.8 1398.6,1060.6 1398.8,1063.2 1399.1,1046.5 1399.3,1055.5 1399.6,1068.0 1399.8,1041.3 1400.1,1052.9 1400.3,1050.5 1400.6,1055.0 1400.9,1056.3 1401.1,1060.3 1401.4,1050.4 1401.6,1061.3 1401.9,1057.3 1402.1,1046.2 1402.4,1048.3 1402.6,1063.3 1402.9,1054.5 1403.2,1050.2 1403.4,1047.4 1403.7,1048.5 1403.9,1056.8 1404.2,1059.1 1404.4,1060.6 1404.7,1062.1 1404.9,1059.4 1405.2,1062.7 1405.5,1052.7 1405.7,1060.7 1406.0,1054.6 1406.2,1063.9 1406.5,1054.4 1406.7,1061.2 1407.0,1054.1 1407.2,1059.7 1407.5,1076.0 1407.8,1050.6 1408.0,1056.2 1408.3,1058.8 1408.5,1057.6 1408.8,1063.4 1409.0,1072.9 1409.3,1059.3 1409.5,1070.5 1409.8,1057.7 1410.1,1067.5 1410.3,1054.9 1410.6,1066.8 1410.8,1058.3 1411.1,1064.5 1411.3,1059.5 1411.6,1061.9 1411.8,1059.8 1412.1,1062.9 1412.4,1063.1 1412.6,1065.4 1412.9,1070.1 1413.1,1067.2 1413.4,1062.5 1413.6,1057.8 1413.9,1061.8 1414.1,1062.9 1414.4,1066.4 1414.7,1061.7 1414.9,1060.1 1415.2,1061.0 1415.4,1060.4 1415.7,1071.3 1415.9,1066.7 1416.2,1052.8 1416.4,1060.5 1416.7,1063.1 1417.0,1056.1 1417.2,1062.9 1417.5,1067.0 1417.7,1060.7 1418.0,1066.3 1418.2,1059.7 1418.5,1060.7 1418.8,1064.3 1419.0,1075.8 1419.3,1060.7 1419.5,1067.5 1419.8,1073.3 1420.0,1061.8 1420.3,1064.8 1420.5,1062.9 1420.8,1066.3 1421.1,1074.3 1421.3,1071.5 1421.6,1068.6 1421.8,1064.5 1422.1,1067.9 1422.3,1072.1 1422.6,1069.8 1422.8,1061.1 1423.1,1065.3 1423.4,1071.6 1423.6,1071.3 1423.9,1064.8 1424.1,1075.1 1424.4,1065.9 1424.6,1068.5 1424.9,1073.1 1425.1,1061.1 1425.4,1084.1 1425.7,1082.9 1425.9,1073.0 1426.2,1066.3 1426.4,1078.2 1426.7,1082.1 1426.9,1067.8 1427.2,1068.2 1427.4,1063.0 1427.7,1073.7 1428.0,1073.4 1428.2,1067.6 1428.5,1070.3 1428.7,1069.9 1429.0,1073.4 1429.2,1077.5 1429.5,1075.0 1429.7,1069.8 1430.0,1067.8 1430.3,1064.9 1430.5,1067.9 1430.8,1074.2 1431.0,1071.6 1431.3,1071.2 1431.5,1076.0 1431.8,1072.5 1432.0,1069.8 1432.3,1072.0 1432.6,1069.7 1432.8,1071.9 1433.1,1075.0 1433.3,1080.9 1433.6,1074.1 1433.8,1079.3 1434.1,1075.7 1434.3,1072.9 1434.6,1072.7 1434.9,1078.8 1435.1,1077.1 1435.4,1083.8 1435.6,1078.6 1435.9,1077.7 1436.1,1081.8 1436.4,1072.7 1436.7,1077.1 1436.9,1076.2 1437.2,1073.2 1437.4,1078.3 1437.7,1067.2 1437.9,1081.9 1438.2,1077.8 1438.4,1081.4 1438.7,1076.6 1439.0,1066.8 1439.2,1075.2 1439.5,1066.0 1439.7,1079.3 1440.0,1083.1 1440.2,1077.2 1440.5,1074.0 1440.7,1078.5 1441.0,1073.9 1441.3,1076.0 1441.5,1074.0 1441.8,1079.9 1442.0,1083.8 1442.3,1088.1 1442.5,1073.7 1442.8,1079.3 1443.0,1077.9 1443.3,1079.3 1443.6,1077.0 1443.8,1074.7 1444.1,1074.7 1444.3,1074.7 1444.6,1079.2 1444.8,1084.7 1445.1,1083.1 1445.3,1078.2 1445.6,1080.8 1445.9,1070.0 1446.1,1083.3 1446.4,1085.9 1446.6,1080.8 1446.9,1086.8 1447.1,1084.9 1447.4,1080.6 1447.6,1077.8 1447.9,1080.2 1448.2,1084.9 1448.4,1081.7 1448.7,1069.9 1448.9,1082.7 1449.2,1075.9 1449.4,1080.9 1449.7,1087.5 1449.9,1080.6 1450.2,1070.1 1450.5,1077.7 1450.7,1080.7 1451.0,1083.8 1451.2,1082.3 1451.5,1073.0 1451.7,1074.6 1452.0,1086.7 1452.2,1079.6 1452.5,1079.0 1452.8,1076.6 1453.0,1084.3 1453.3,1083.6 1453.5,1081.4 1453.8,1083.5 1454.0,1074.3 1454.3,1081.6 1454.6,1085.2 1454.8,1089.4 1455.1,1087.4 1455.3,1080.2 1455.6,1086.9 1455.8,1077.7 1456.1,1081.6 1456.3,1083.0 1456.6,1076.9 1456.9,1091.1 1457.1,1081.5 1457.4,1071.0 1457.6,1085.1 1457.9,1081.7 1458.1,1078.8 1458.4,1090.6 1458.6,1080.6 1458.9,1071.8 1459.2,1081.2 1459.4,1084.4 1459.7,1081.4 1459.9,1086.9 1460.2,1085.0 1460.4,1086.5 1460.7,1082.6 1460.9,1090.9 1461.2,1088.1 1461.5,1091.0 1461.7,1075.1 1462.0,1077.4 1462.2,1088.4 1462.5,1078.1 1462.7,1085.4 1463.0,1081.6 1463.2,1078.8 1463.5,1082.6 1463.8,1092.1 1464.0,1077.3 1464.3,1086.6 1464.5,1084.2 1464.8,1081.7 1465.0,1079.8 1465.3,1087.8 1465.5,1081.8 1465.8,1080.0 1466.1,1087.3 1466.3,1091.2 1466.6,1085.4 1466.8,1090.9 1467.1,1079.3 1467.3,1085.4 1467.6,1086.7 1467.8,1084.8 1468.1,1092.5 1468.4,1086.5 1468.6,1083.2 1468.9,1089.3 1469.1,1080.6 1469.4,1086.5 1469.6,1093.4 1469.9,1084.8 1470.1,1090.4 1470.4,1073.9 1470.7,1083.3 1470.9,1087.3 1471.2,1082.0 1471.4,1085.8 1471.7,1086.3 1471.9,1093.6 1472.2,1082.2 1472.5,1083.5 1472.7,1083.2 1473.0,1090.3 1473.2,1084.3 1473.5,1086.8 1473.7,1087.8 1474.0,1086.9 1474.2,1093.6 1474.5,1091.7 1474.8,1095.6 1475.0,1087.4 1475.3,1083.1 1475.5,1078.4 1475.8,1088.0 1476.0,1077.1 1476.3,1086.5 1476.5,1085.0 1476.8,1086.0 1477.1,1088.5 1477.3,1090.3 1477.6,1090.5 1477.8,1088.0 1478.1,1091.7 1478.3,1082.9 1478.6,1080.7 1478.8,1082.6 1479.1,1090.9 1479.4,1088.9 1479.6,1088.2 1479.9,1085.7 1480.1,1083.8 1480.4,1088.5 1480.6,1088.4 1480.9,1078.2 1481.1,1088.8 1481.4,1080.2 1481.7,1083.1 1481.9,1094.8 1482.2,1085.4 1482.4,1088.6 1482.7,1085.7 1482.9,1084.2 1483.2,1080.8 1483.4,1092.7 1483.7,1089.3 1484.0,1090.9 1484.2,1077.6 1484.5,1087.4 1484.7,1089.8 1485.0,1084.2 1485.2,1093.8 1485.5,1087.6 1485.7,1092.0 1486.0,1089.6 1486.3,1090.4 1486.5,1090.6 1486.8,1089.2 1487.0,1083.4 1487.3,1086.7 1487.5,1082.0 1487.8,1085.8 1488.0,1091.2 1488.3,1094.2 1488.6,1079.2 1488.8,1080.6 1489.1,1080.4 1489.3,1092.0 1489.6,1090.6 1489.8,1086.4 1490.1,1094.8 1490.4,1087.0 1490.6,1080.2 1490.9,1088.9 1491.1,1089.9 1491.4,1093.6 1491.6,1079.8 1491.9,1084.8 1492.1,1091.5 1492.4,1077.7 1492.7,1084.3 1492.9,1091.1 1493.2,1090.7 1493.4,1085.2 1493.7,1088.0 1493.9,1085.0 1494.2,1083.4 1494.4,1091.9 1494.7,1093.2 1495.0,1082.2 1495.2,1080.4 1495.5,1088.1 1495.7,1094.0 1496.0,1077.7 1496.2,1091.7 1496.5,1099.3 1496.7,1096.9 1497.0,1085.1 1497.3,1081.3" fill="none" stroke="#bd4efa" stroke-width="1.5" stroke-linejoin="round"/>
<line x1="1235.2" x2="1241.4" y1="824.2" y2="824.2" stroke="#9a9a9a" stroke-width="1.4"/>
<text x="1229.5" y="830.0" text-anchor="end" class="ax">0.5</text>
<line x1="1235.2" x2="1241.4" y1="879.6" y2="879.6" stroke="#9a9a9a" stroke-width="1.4"/>
<text x="1229.5" y="885.4" text-anchor="end" class="ax">0.45</text>
<line x1="1235.2" x2="1241.4" y1="935.0" y2="935.0" stroke="#9a9a9a" stroke-width="1.4"/>
<text x="1229.5" y="940.8" text-anchor="end" class="ax">0.4</text>
<line x1="1235.2" x2="1241.4" y1="990.3" y2="990.3" stroke="#9a9a9a" stroke-width="1.4"/>
<text x="1229.5" y="996.1" text-anchor="end" class="ax">0.35</text>
<line x1="1235.2" x2="1241.4" y1="1045.7" y2="1045.7" stroke="#9a9a9a" stroke-width="1.4"/>
<text x="1229.5" y="1051.5" text-anchor="end" class="ax">0.3</text>
<line x1="1235.2" x2="1241.4" y1="1101.1" y2="1101.1" stroke="#9a9a9a" stroke-width="1.4"/>
<text x="1229.5" y="1106.9" text-anchor="end" class="ax">0.25</text>
<line x1="1263.6" x2="1263.6" y1="1102.0" y2="1107.5" stroke="#8a8a8a" stroke-width="1.4"/>
<text x="1263.6" y="1130" text-anchor="middle" class="ax">50000</text>
<line x1="1336.8" x2="1336.8" y1="1102.0" y2="1107.5" stroke="#8a8a8a" stroke-width="1.4"/>
<text x="1336.8" y="1130" text-anchor="middle" class="ax">100000</text>
<line x1="1410.0" x2="1410.0" y1="1102.0" y2="1107.5" stroke="#8a8a8a" stroke-width="1.4"/>
<text x="1410.0" y="1130" text-anchor="middle" class="ax">150000</text>
<line x1="1483.2" x2="1483.2" y1="1102.0" y2="1107.5" stroke="#8a8a8a" stroke-width="1.4"/>
<text x="1483.2" y="1130" text-anchor="middle" class="ax">200000</text>
<path d="M1596.0,866.2 1596.1,840.5 1596.3,856.8 1596.5,892.1 1596.6,849.4 1596.8,875.7 1596.9,900.1 1597.1,858.4 1597.2,883.7 1597.4,904.0 1597.5,863.3 1597.7,889.6 1597.8,899.9 1598.0,868.3 1598.1,866.4 1598.3,892.9 1598.4,881.1 1598.6,903.0 1598.7,902.8 1598.9,868.8 1599.0,869.9 1599.2,884.8 1599.3,884.7 1599.5,896.5 1599.6,893.4 1599.8,910.0 1599.9,905.7 1600.1,906.9 1600.2,899.6 1600.4,908.2 1600.5,909.3 1600.7,891.8 1600.8,903.8 1601.0,898.6 1601.1,891.3 1601.3,890.6 1601.4,916.9 1601.6,880.7 1601.7,881.9 1601.9,914.4 1602.0,880.3 1602.2,884.9 1602.3,882.4 1602.5,890.1 1602.6,893.2 1602.8,910.1 1602.9,908.1 1603.1,907.2 1603.2,884.0 1603.4,894.9 1603.5,868.2 1603.7,907.0 1603.8,899.7 1604.0,921.4 1604.1,941.1 1604.3,923.0 1604.4,887.0 1604.6,901.7 1604.7,920.2 1604.9,907.3 1605.0,903.1 1605.2,926.2 1605.3,893.4 1605.5,898.0 1605.6,909.1 1605.8,918.3 1605.9,926.4 1606.1,872.0 1606.2,888.4 1606.4,908.9 1606.5,899.8 1606.7,910.3 1606.8,911.9 1607.0,898.8 1607.1,915.3 1607.3,909.8 1607.4,939.2 1607.6,878.5 1607.7,926.6 1607.9,927.9 1608.0,953.1 1608.2,907.6 1608.3,896.4 1608.5,912.0 1608.6,915.5 1608.8,932.7 1608.9,879.2 1609.1,907.1 1609.2,891.6 1609.4,892.8 1609.5,923.1 1609.7,925.2 1609.8,901.0 1610.0,933.0 1610.1,915.9 1610.3,913.8 1610.4,906.9 1610.6,885.3 1610.7,895.7 1610.9,922.5 1611.0,907.6 1611.2,937.0 1611.3,929.9 1611.5,913.7 1611.6,913.1 1611.8,914.7 1611.9,898.1 1612.1,943.6 1612.2,923.7 1612.4,903.3 1612.5,904.1 1612.7,916.3 1612.8,906.3 1613.0,913.4 1613.1,922.3 1613.3,932.8 1613.4,918.7 1613.6,921.9 1613.7,928.5 1613.9,905.3 1614.0,921.5 1614.2,939.1 1614.3,919.4 1614.5,915.9 1614.6,921.1 1614.8,910.0 1614.9,926.7 1615.1,912.3 1615.2,958.8 1615.4,934.6 1615.5,918.3 1615.7,922.0 1615.8,937.5 1616.0,906.0 1616.1,941.5 1616.3,907.3 1616.4,914.4 1616.6,897.8 1616.7,933.5 1616.9,935.3 1617.0,906.6 1617.2,903.9 1617.4,928.7 1617.5,909.5 1617.7,906.2 1617.8,913.0 1618.0,931.6 1618.1,915.9 1618.3,914.2 1618.4,907.5 1618.6,898.0 1618.7,933.3 1618.9,906.7 1619.0,925.0 1619.2,929.0 1619.3,925.3 1619.5,909.5 1619.6,941.8 1619.8,918.4 1619.9,930.2 1620.1,926.8 1620.2,926.2 1620.4,890.2 1620.5,929.7 1620.7,895.3 1620.8,910.4 1621.0,914.5 1621.1,898.5 1621.3,940.6 1621.4,928.9 1621.6,924.3 1621.7,914.3 1621.9,913.6 1622.0,927.9 1622.2,894.5 1622.3,913.1 1622.5,939.9 1622.6,935.0 1622.8,934.0 1622.9,921.4 1623.1,921.6 1623.2,930.0 1623.4,919.0 1623.5,906.8 1623.7,925.6 1623.8,892.8 1624.0,944.5 1624.1,939.4 1624.3,891.0 1624.4,928.6 1624.6,927.4 1624.7,923.7 1624.9,925.2 1625.0,918.9 1625.2,902.9 1625.3,901.6 1625.5,927.9 1625.6,910.1 1625.8,916.3 1625.9,917.1 1626.1,918.6 1626.2,938.9 1626.4,905.4 1626.5,942.0 1626.7,930.0 1626.8,912.5 1627.0,923.3 1627.1,904.9 1627.3,919.1 1627.4,924.6 1627.6,898.2 1627.7,928.1 1627.9,927.1 1628.0,912.9 1628.2,930.2 1628.3,914.0 1628.5,908.3 1628.6,942.9 1628.8,925.4 1628.9,930.8 1629.1,926.1 1629.2,910.6 1629.4,952.8 1629.5,955.2 1629.7,916.9 1629.8,922.1 1630.0,925.2 1630.1,929.9 1630.3,930.7 1630.4,937.2 1630.6,941.1 1630.7,919.6 1630.9,937.5 1631.0,952.3 1631.2,945.8 1631.3,897.3 1631.5,919.8 1631.6,912.0 1631.8,923.6 1631.9,925.7 1632.1,931.3 1632.2,927.4 1632.4,928.2 1632.5,930.9 1632.7,927.4 1632.8,905.0 1633.0,945.2 1633.1,948.3 1633.3,940.0 1633.4,941.5 1633.6,929.6 1633.7,916.8 1633.9,925.9 1634.0,933.8 1634.2,929.2 1634.3,948.7 1634.5,925.6 1634.6,938.7 1634.8,933.4 1634.9,957.1 1635.1,933.0 1635.2,952.5 1635.4,959.8 1635.5,936.3 1635.7,937.3 1635.8,951.3 1636.0,954.8 1636.1,958.3 1636.3,942.3 1636.4,933.3 1636.6,922.7 1636.7,912.9 1636.9,949.0 1637.0,927.7 1637.2,931.3 1637.3,918.6 1637.5,922.9 1637.6,962.4 1637.8,952.0 1637.9,926.4 1638.1,934.8 1638.2,937.4 1638.4,934.6 1638.6,964.3 1638.7,946.6 1638.9,957.2 1639.0,928.2 1639.2,961.6 1639.3,936.6 1639.5,943.7 1639.6,955.1 1639.8,911.9 1639.9,948.1 1640.1,952.6 1640.2,941.8 1640.4,928.3 1640.5,947.0 1640.7,942.0 1640.8,945.7 1641.0,923.4 1641.1,934.5 1641.3,942.9 1641.4,952.9 1641.6,947.5 1641.7,956.9 1641.9,912.5 1642.0,965.0 1642.2,933.4 1642.3,945.5 1642.5,951.7 1642.6,940.8 1642.8,962.3 1642.9,930.1 1643.1,924.5 1643.2,953.5 1643.4,952.1 1643.5,963.2 1643.7,957.5 1643.8,940.2 1644.0,946.7 1644.1,933.8 1644.3,950.5 1644.4,940.7 1644.6,952.4 1644.7,943.2 1644.9,949.0 1645.0,933.4 1645.2,968.8 1645.3,938.1 1645.5,962.9 1645.6,955.3 1645.8,947.3 1645.9,971.5 1646.1,939.0 1646.2,948.6 1646.4,943.4 1646.5,934.2 1646.7,951.6 1646.8,960.0 1647.0,939.7 1647.1,954.9 1647.3,961.2 1647.4,943.5 1647.6,959.2 1647.7,950.9 1647.9,960.1 1648.0,957.7 1648.2,959.7 1648.3,951.6 1648.5,963.4 1648.6,967.2 1648.8,961.8 1648.9,950.5 1649.1,954.3 1649.2,953.4 1649.4,984.7 1649.5,959.8 1649.7,975.0 1649.8,945.6 1650.0,968.3 1650.1,937.8 1650.3,962.6 1650.4,943.8 1650.6,958.0 1650.7,953.6 1650.9,983.3 1651.0,929.2 1651.2,960.1 1651.3,940.0 1651.5,972.2 1651.6,966.7 1651.8,943.9 1651.9,954.7 1652.1,963.3 1652.2,963.7 1652.4,960.6 1652.5,969.9 1652.7,938.8 1652.8,968.8 1653.0,952.4 1653.1,941.2 1653.3,958.8 1653.4,957.2 1653.6,945.3 1653.7,969.5 1653.9,963.8 1654.0,958.9 1654.2,980.7 1654.3,972.3 1654.5,998.7 1654.6,971.4 1654.8,950.2 1654.9,956.5 1655.1,941.2 1655.2,969.1 1655.4,966.3 1655.5,936.0 1655.7,961.0 1655.8,962.9 1656.0,964.0 1656.1,955.5 1656.3,958.8 1656.4,947.4 1656.6,946.0 1656.7,949.0 1656.9,955.5 1657.0,987.2 1657.2,967.0 1657.3,936.3 1657.5,938.2 1657.6,976.3 1657.8,969.9 1657.9,965.8 1658.1,957.7 1658.2,970.3 1658.4,957.6 1658.5,951.4 1658.7,955.3 1658.8,952.5 1659.0,969.7 1659.1,963.4 1659.3,969.7 1659.4,966.4 1659.6,956.1 1659.8,942.7 1659.9,985.4 1660.1,946.5 1660.2,956.2 1660.4,950.5 1660.5,962.0 1660.7,962.5 1660.8,947.8 1661.0,986.0 1661.1,943.5 1661.3,960.1 1661.4,970.5 1661.6,981.1 1661.7,954.1 1661.9,952.4 1662.0,971.4 1662.2,958.6 1662.3,949.8 1662.5,973.4 1662.6,967.3 1662.8,965.6 1662.9,979.0 1663.1,962.9 1663.2,961.2 1663.4,975.5 1663.5,953.8 1663.7,957.1 1663.8,954.4 1664.0,982.8 1664.1,951.4 1664.3,962.9 1664.4,973.6 1664.6,950.8 1664.7,945.4 1664.9,959.1 1665.0,941.1 1665.2,989.4 1665.3,948.7 1665.5,980.6 1665.6,976.4 1665.8,967.8 1665.9,971.3 1666.1,954.5 1666.2,971.2 1666.4,959.4 1666.5,964.9 1666.7,979.1 1666.8,967.1 1667.0,962.0 1667.1,963.4 1667.3,943.4 1667.4,959.0 1667.6,951.4 1667.7,959.7 1667.9,955.1 1668.0,963.5 1668.2,973.8 1668.3,973.2 1668.5,969.6 1668.6,988.9 1668.8,992.6 1668.9,974.0 1669.1,971.6 1669.2,968.9 1669.4,994.9 1669.5,977.4 1669.7,989.3 1669.8,963.9 1670.0,944.4 1670.1,993.1 1670.3,957.2 1670.4,979.3 1670.6,991.0 1670.7,970.3 1670.9,975.3 1671.0,970.3 1671.2,979.8 1671.3,977.2 1671.5,978.9 1671.6,970.0 1671.8,1002.0 1671.9,1002.5 1672.1,982.0 1672.2,962.4 1672.4,964.9 1672.5,963.5 1672.7,963.9 1672.8,1007.1 1673.0,953.3 1673.1,975.5 1673.3,972.2 1673.4,963.2 1673.6,963.6 1673.7,987.4 1673.9,982.5 1674.0,954.2 1674.2,980.1 1674.3,971.5 1674.5,986.6 1674.6,986.5 1674.8,974.3 1674.9,969.3 1675.1,981.3 1675.2,972.2 1675.4,967.2 1675.5,997.5 1675.7,991.3 1675.8,976.6 1676.0,949.9 1676.1,980.0 1676.3,975.9 1676.4,999.7 1676.6,998.7 1676.7,976.2 1676.9,972.2 1677.0,975.4 1677.2,973.3 1677.3,969.7 1677.5,958.1 1677.6,980.1 1677.8,975.1 1677.9,968.0 1678.1,978.1 1678.2,970.2 1678.4,953.0 1678.5,966.4 1678.7,983.6 1678.8,985.3 1679.0,965.4 1679.1,960.2 1679.3,961.9 1679.4,993.8 1679.6,992.1 1679.7,977.9 1679.9,968.9 1680.0,972.8 1680.2,975.9 1680.3,959.8 1680.5,959.4 1680.6,958.8 1680.8,951.2 1681.0,1003.4 1681.1,978.0 1681.3,986.6 1681.4,977.1 1681.6,974.7 1681.7,963.0 1681.9,971.8 1682.0,987.8 1682.2,981.3 1682.3,965.2 1682.5,958.5 1682.6,977.5 1682.8,973.4 1682.9,968.0 1683.1,971.5 1683.2,978.1 1683.4,985.4 1683.5,979.9 1683.7,972.2 1683.8,983.3 1684.0,990.4 1684.1,974.1 1684.3,979.4 1684.4,989.8 1684.6,973.0 1684.7,997.9 1684.9,986.5 1685.0,979.7 1685.2,977.7 1685.3,976.3 1685.5,997.5 1685.6,998.4 1685.8,994.0 1685.9,991.7 1686.1,954.8 1686.2,984.8 1686.4,969.4 1686.5,992.4 1686.7,986.4 1686.8,1005.8 1687.0,979.5 1687.1,981.1 1687.3,984.6 1687.4,990.1 1687.6,980.8 1687.7,994.6 1687.9,999.5 1688.0,992.1 1688.2,966.8 1688.3,977.5 1688.5,969.1 1688.6,980.8 1688.8,981.8 1688.9,982.3 1689.1,1005.8 1689.2,961.8 1689.4,988.2 1689.5,972.6 1689.7,993.4 1689.8,973.3 1690.0,983.9 1690.1,989.6 1690.3,1001.0 1690.4,975.0 1690.6,965.2 1690.7,980.8 1690.9,976.9 1691.0,995.4 1691.2,995.0 1691.3,993.1 1691.5,1003.6 1691.6,1001.8 1691.8,995.1 1691.9,985.2 1692.1,998.2 1692.2,958.6 1692.4,975.3 1692.5,968.4 1692.7,973.7 1692.8,988.7 1693.0,997.1 1693.1,977.3 1693.3,993.3 1693.4,979.4 1693.6,988.5 1693.7,1005.6 1693.9,1011.1 1694.0,1001.2 1694.2,1002.7 1694.3,985.1 1694.5,1005.2 1694.6,997.1 1694.8,976.5 1694.9,1001.0 1695.1,981.2 1695.2,994.6 1695.4,989.9 1695.5,1000.9 1695.7,999.4 1695.8,987.6 1696.0,986.4 1696.1,984.1 1696.3,979.0 1696.4,1009.8 1696.6,980.8 1696.7,987.8 1696.9,991.1 1697.0,975.3 1697.2,1015.4 1697.3,991.2 1697.5,990.0 1697.6,1021.6 1697.8,1007.6 1697.9,990.2 1698.1,973.0 1698.2,1003.1 1698.4,995.4 1698.5,978.6 1698.7,993.6 1698.8,981.0 1699.0,976.4 1699.1,981.3 1699.3,1007.9 1699.4,982.3 1699.6,999.5 1699.7,987.5 1699.9,974.4 1700.0,979.5 1700.2,977.0 1700.3,1009.2 1700.5,967.0 1700.6,999.7 1700.8,1005.1 1700.9,1015.0 1701.1,983.2 1701.2,972.9 1701.4,982.0 1701.5,1003.3 1701.7,1019.6 1701.9,999.5 1702.0,986.5 1702.2,1004.8 1702.3,985.6 1702.5,1005.9 1702.6,1004.1 1702.8,1009.6 1702.9,979.2 1703.1,1004.9 1703.2,1007.9 1703.4,995.4 1703.5,981.4 1703.7,985.1 1703.8,977.4 1704.0,999.6 1704.1,1013.8 1704.3,990.8 1704.4,984.5 1704.6,991.5 1704.7,986.7 1704.9,991.8 1705.0,1007.2 1705.2,1001.8 1705.3,986.4 1705.5,990.2 1705.6,1003.8 1705.8,1007.8 1705.9,1014.0 1706.1,992.9 1706.2,998.5 1706.4,1016.2 1706.5,1001.8 1706.7,1012.8 1706.8,1019.7 1707.0,977.7 1707.1,991.0 1707.3,1002.5 1707.4,981.5 1707.6,1004.5 1707.7,1019.7 1707.9,990.1 1708.0,1002.2 1708.2,1008.4 1708.3,1005.7 1708.5,1000.3 1708.6,994.5 1708.8,999.2 1708.9,993.2 1709.1,990.1 1709.2,992.0 1709.4,1004.4 1709.5,989.8 1709.7,992.1 1709.8,1008.5 1710.0,990.9 1710.1,1002.2 1710.3,987.8 1710.4,1001.3 1710.6,1001.0 1710.7,1006.3 1710.9,1002.5 1711.0,1003.7 1711.2,999.6 1711.3,989.4 1711.5,986.1 1711.6,1013.5 1711.8,994.8 1711.9,988.7 1712.1,994.7 1712.2,1010.6 1712.4,1009.1 1712.5,995.3 1712.7,1017.1 1712.8,1019.8 1713.0,978.5 1713.1,997.7 1713.3,1003.7 1713.4,994.4 1713.6,991.4 1713.7,1001.1 1713.9,995.6 1714.0,1019.0 1714.2,1005.8 1714.3,1007.3 1714.5,980.0 1714.6,992.3 1714.8,1011.7 1714.9,988.5 1715.1,983.0 1715.2,1011.9 1715.4,1012.6 1715.5,1000.9 1715.7,1010.8 1715.8,1016.0 1716.0,1011.7 1716.1,995.2 1716.3,995.8 1716.4,998.9 1716.6,989.7 1716.7,1005.7 1716.9,997.5 1717.0,997.6 1717.2,993.4 1717.3,996.8 1717.5,1001.9 1717.6,1004.9 1717.8,983.7 1717.9,1000.8 1718.1,999.4 1718.2,995.2 1718.4,1019.6 1718.5,1002.1 1718.7,996.5 1718.8,1008.4 1719.0,986.0 1719.1,993.4 1719.3,1021.9 1719.4,997.6 1719.6,994.7 1719.7,1001.1 1719.9,1012.7 1720.0,993.9 1720.2,1008.6 1720.3,1019.0 1720.5,995.4 1720.6,1006.8 1720.8,993.1 1720.9,1001.2 1721.1,1005.9 1721.2,992.2 1721.4,1017.2 1721.5,1000.3 1721.7,996.6 1721.8,994.5 1722.0,1005.7 1722.1,1010.2 1722.3,984.7 1722.4,1007.9 1722.6,1015.2 1722.7,992.6 1722.9,1009.4 1723.1,1010.9 1723.2,1005.4 1723.4,1013.9 1723.5,994.9 1723.7,1026.3 1723.8,1002.3 1724.0,1001.8 1724.1,1019.2 1724.3,991.6 1724.4,1006.7 1724.6,976.5 1724.7,1016.6 1724.9,1006.6 1725.0,994.2 1725.2,1017.3 1725.3,1002.3 1725.5,1003.8 1725.6,1027.5 1725.8,1020.5 1725.9,1036.0 1726.1,1009.2 1726.2,1004.5 1726.4,1006.9 1726.5,1018.6 1726.7,1017.5 1726.8,1016.8 1727.0,1014.3 1727.1,1024.5 1727.3,1000.5 1727.4,1008.2 1727.6,1016.0 1727.7,992.8 1727.9,1013.1 1728.0,1012.4 1728.2,994.1 1728.3,1003.0 1728.5,1021.8 1728.6,1036.2 1728.8,996.3 1728.9,1015.7 1729.1,1036.4 1729.2,1000.6 1729.4,1006.0 1729.5,1007.2 1729.7,1016.4 1729.8,1035.4 1730.0,1013.5 1730.1,1012.4 1730.3,1008.0 1730.4,1013.6 1730.6,1018.4 1730.7,1014.9 1730.9,1012.3 1731.0,1005.9 1731.2,1015.1 1731.3,1008.8 1731.5,1005.6 1731.6,1005.0 1731.8,1020.7 1731.9,1021.3 1732.1,1006.2 1732.2,1017.6 1732.4,1034.4 1732.5,1026.3 1732.7,1035.7 1732.8,1020.1 1733.0,1024.0 1733.1,1031.5 1733.3,1022.9 1733.4,1020.5 1733.6,1017.0 1733.7,1010.0 1733.9,1020.3 1734.0,1002.8 1734.2,1017.4 1734.3,1014.7 1734.5,1003.7 1734.6,1011.0 1734.8,1029.9 1734.9,1009.2 1735.1,1022.7 1735.2,1022.9 1735.4,1006.0 1735.5,1016.9 1735.7,1026.8 1735.8,1026.5 1736.0,1027.4 1736.1,1033.5 1736.3,1006.1 1736.4,1021.8 1736.6,1025.4 1736.7,1008.0 1736.9,1034.0 1737.0,1027.0 1737.2,1014.8 1737.3,1014.3 1737.5,1018.1 1737.6,1029.4 1737.8,1018.1 1737.9,1027.2 1738.1,1019.5 1738.2,1024.7 1738.4,1005.3 1738.5,1021.6 1738.7,1020.0 1738.8,1010.9 1739.0,1019.4 1739.1,1020.9 1739.3,1020.0 1739.4,997.3 1739.6,1023.9 1739.7,1034.6 1739.9,1014.7 1740.0,1014.5 1740.2,1027.8 1740.3,1017.2 1740.5,1030.7 1740.6,1018.3 1740.8,1028.8 1740.9,1025.7 1741.1,1043.4 1741.2,1027.2 1741.4,1025.8 1741.5,1010.8 1741.7,1019.7 1741.8,1030.6 1742.0,1025.7 1742.1,1022.3 1742.3,1038.2 1742.4,1028.5 1742.6,1051.8 1742.7,1025.0 1742.9,1024.3 1743.0,1019.9 1743.2,1041.4 1743.3,1023.7 1743.5,1023.1 1743.6,1023.3 1743.8,1006.7 1743.9,1033.4 1744.1,1031.2 1744.3,1031.3 1744.4,1025.8 1744.6,1035.4 1744.7,1012.5 1744.9,1009.7 1745.0,1036.3 1745.2,1023.0 1745.3,1046.6 1745.5,1033.3 1745.6,1040.8 1745.8,1022.2 1745.9,1011.7 1746.1,1021.1 1746.2,1017.3 1746.4,1028.7 1746.5,1027.7 1746.7,1041.7 1746.8,1038.8 1747.0,1024.0 1747.1,1040.0 1747.3,1026.8 1747.4,1029.7 1747.6,1032.7 1747.7,1019.2 1747.9,1030.9 1748.0,1024.7 1748.2,1029.2 1748.3,1048.4 1748.5,1042.9 1748.6,1012.7 1748.8,1013.3 1748.9,1028.1 1749.1,1010.3 1749.2,1013.3 1749.4,1039.5 1749.5,1013.0 1749.7,1039.0 1749.8,1032.0 1750.0,1014.1 1750.1,1018.1 1750.3,1046.0 1750.4,1001.1 1750.6,1038.1 1750.7,1011.7 1750.9,1043.6 1751.0,1038.8 1751.2,1024.3 1751.3,1034.7 1751.5,1029.1 1751.6,1029.6 1751.8,1019.0 1751.9,1024.7 1752.1,1043.5 1752.2,1016.0 1752.4,1018.6 1752.5,1051.2 1752.7,1026.4 1752.8,1026.4 1753.0,1026.0 1753.1,1032.6 1753.3,1029.8 1753.4,1047.0 1753.6,1033.8 1753.7,1034.2 1753.9,1026.0 1754.0,1026.9 1754.2,1018.2 1754.3,1022.8 1754.5,1023.6 1754.6,1033.3 1754.8,1027.7 1754.9,1015.7 1755.1,1026.8 1755.2,1050.5 1755.4,1046.5 1755.5,1028.4 1755.7,1023.6 1755.8,1013.5 1756.0,1026.1 1756.1,1043.4 1756.3,1039.1 1756.4,1029.2 1756.6,1036.3 1756.7,1047.6 1756.9,1024.0 1757.0,1034.4 1757.2,1025.3 1757.3,1027.0 1757.5,1054.1 1757.6,1021.1 1757.8,1037.2 1757.9,1038.7 1758.1,1036.5 1758.2,1044.6 1758.4,1046.3 1758.5,1025.5 1758.7,1026.1 1758.8,1028.0 1759.0,1019.5 1759.1,1032.6 1759.3,1019.6 1759.4,1038.3 1759.6,1035.8 1759.7,1022.4 1759.9,1045.7 1760.0,1049.6 1760.2,1036.1 1760.3,1033.0 1760.5,1031.8 1760.6,1042.6 1760.8,1046.9 1760.9,1035.4 1761.1,1029.5 1761.2,1019.1 1761.4,1043.5 1761.5,1039.8 1761.7,1030.3 1761.8,1052.4 1762.0,1029.0 1762.1,1040.2 1762.3,1027.3 1762.4,1024.6 1762.6,1052.0 1762.7,1041.6 1762.9,1054.7 1763.0,1029.7 1763.2,1034.5 1763.3,1018.8 1763.5,1040.7 1763.6,1021.8 1763.8,1039.5 1763.9,1040.8 1764.1,1044.9 1764.2,1043.3 1764.4,1021.5 1764.5,1055.8 1764.7,1044.4 1764.8,1032.1 1765.0,1027.1 1765.2,1046.6 1765.3,1034.3 1765.5,1036.8 1765.6,1032.7 1765.8,1037.3 1765.9,1018.7 1766.1,1040.5 1766.2,1029.1 1766.4,1044.3 1766.5,1048.3 1766.7,1026.4 1766.8,1029.2 1767.0,1044.2 1767.1,1037.4 1767.3,1028.9 1767.4,1038.9 1767.6,1045.9 1767.7,1059.7 1767.9,1028.6 1768.0,1040.6 1768.2,1040.7 1768.3,1051.2 1768.5,1043.8 1768.6,1044.7 1768.8,1024.4 1768.9,1027.8 1769.1,1064.5 1769.2,1053.1 1769.4,1060.1 1769.5,1027.6 1769.7,1020.9 1769.8,1030.0 1770.0,1030.6 1770.1,1044.8 1770.3,1027.3 1770.4,1035.0 1770.6,1042.2 1770.7,1033.9 1770.9,1031.8 1771.0,1043.2 1771.2,1045.5 1771.3,1051.6 1771.5,1042.7 1771.6,1027.6 1771.8,1030.3 1771.9,1038.6 1772.1,1029.9 1772.2,1042.7 1772.4,1036.3 1772.5,1042.4 1772.7,1042.0 1772.8,1027.8 1773.0,1028.2 1773.1,1043.9 1773.3,1037.9 1773.4,1038.9 1773.6,1040.0 1773.7,1045.3 1773.9,1038.0 1774.0,1014.7 1774.2,1043.2 1774.3,1046.9 1774.5,1038.9 1774.6,1041.6 1774.8,1049.0 1774.9,1048.8 1775.1,1042.3 1775.2,1039.9 1775.4,1044.0 1775.5,1037.2 1775.7,1041.2 1775.8,1038.3 1776.0,1039.1 1776.1,1030.1 1776.3,1041.6 1776.4,1063.2 1776.6,1034.6 1776.7,1025.6 1776.9,1059.2 1777.0,1068.4 1777.2,1037.1 1777.3,1039.6 1777.5,1058.8 1777.6,1036.8 1777.8,1031.6 1777.9,1057.2 1778.1,1047.1 1778.2,1040.3 1778.4,1039.9 1778.5,1045.2 1778.7,1051.3 1778.8,1040.4 1779.0,1036.7 1779.1,1039.5 1779.3,1042.9 1779.4,1047.8 1779.6,1054.6 1779.7,1048.5 1779.9,1045.5 1780.0,1038.0 1780.2,1039.2 1780.3,1037.5 1780.5,1035.3 1780.6,1046.3 1780.8,1051.9 1780.9,1049.3 1781.1,1036.4 1781.2,1067.3 1781.4,1038.3 1781.5,1045.4 1781.7,1052.6 1781.8,1047.2 1782.0,1046.4 1782.1,1036.4 1782.3,1054.3 1782.4,1038.0 1782.6,1052.5 1782.7,1051.0 1782.9,1042.9 1783.0,1048.1 1783.2,1057.1 1783.3,1046.1 1783.5,1051.5 1783.6,1044.0 1783.8,1038.3 1783.9,1037.7 1784.1,1037.1 1784.2,1044.8 1784.4,1041.0 1784.5,1030.9 1784.7,1054.6 1784.8,1038.5 1785.0,1041.5 1785.1,1046.2 1785.3,1046.6 1785.4,1054.5 1785.6,1046.4 1785.7,1039.6 1785.9,1043.7 1786.0,1054.9 1786.2,1041.5 1786.4,1063.0 1786.5,1028.9 1786.7,1042.2 1786.8,1051.2 1787.0,1045.2 1787.1,1036.8 1787.3,1042.5 1787.4,1042.4 1787.6,1049.4 1787.7,1051.8 1787.9,1051.8 1788.0,1035.3 1788.2,1046.5 1788.3,1042.5 1788.5,1040.6 1788.6,1039.4 1788.8,1045.4 1788.9,1035.5 1789.1,1058.7 1789.2,1028.3 1789.4,1055.3 1789.5,1045.0 1789.7,1041.5 1789.8,1037.0 1790.0,1034.5 1790.1,1034.6 1790.3,1047.9 1790.4,1044.3 1790.6,1047.0 1790.7,1043.5 1790.9,1053.6 1791.0,1042.9 1791.2,1047.6 1791.3,1054.3 1791.5,1048.1 1791.6,1046.9 1791.8,1048.9 1791.9,1033.2 1792.1,1040.0 1792.2,1045.3 1792.4,1049.9 1792.5,1027.7 1792.7,1046.0 1792.8,1049.1 1793.0,1047.3 1793.1,1044.5 1793.3,1052.7 1793.4,1042.8 1793.6,1046.3 1793.7,1047.8 1793.9,1045.4 1794.0,1041.0 1794.2,1050.2 1794.3,1062.4 1794.5,1069.5 1794.6,1045.7 1794.8,1039.3 1794.9,1042.8 1795.1,1059.5 1795.2,1052.1 1795.4,1037.7 1795.5,1051.1 1795.7,1051.1 1795.8,1055.1 1796.0,1037.1 1796.1,1034.5 1796.3,1036.8 1796.4,1038.5 1796.6,1045.8 1796.7,1046.2 1796.9,1053.1 1797.0,1060.7 1797.2,1054.7 1797.3,1050.3 1797.5,1036.8 1797.6,1029.5 1797.8,1043.0 1797.9,1037.7 1798.1,1039.5 1798.2,1062.9 1798.4,1052.2 1798.5,1029.2 1798.7,1045.9 1798.8,1053.3 1799.0,1039.2 1799.1,1046.7 1799.3,1042.6 1799.4,1039.1 1799.6,1040.5 1799.7,1041.9 1799.9,1048.0 1800.0,1051.4 1800.2,1046.1 1800.3,1055.6 1800.5,1045.6 1800.6,1046.1 1800.8,1038.7 1800.9,1045.2 1801.1,1050.4 1801.2,1052.2 1801.4,1036.9 1801.5,1068.9 1801.7,1052.3 1801.8,1032.9 1802.0,1050.1 1802.1,1050.3 1802.3,1055.6 1802.4,1032.2 1802.6,1041.9 1802.7,1057.7 1802.9,1041.5 1803.0,1047.1 1803.2,1041.3 1803.3,1039.8 1803.5,1055.5 1803.6,1064.0 1803.8,1054.5 1803.9,1045.7 1804.1,1055.2 1804.2,1048.1 1804.4,1068.8 1804.5,1047.5 1804.7,1049.6 1804.8,1053.9 1805.0,1049.8 1805.1,1054.8 1805.3,1049.9 1805.4,1043.6 1805.6,1053.9 1805.7,1060.6 1805.9,1055.3 1806.0,1047.4 1806.2,1045.5 1806.3,1042.4 1806.5,1046.7 1806.6,1049.6 1806.8,1061.8 1806.9,1051.8 1807.1,1049.3 1807.2,1060.9 1807.4,1041.5 1807.6,1050.8 1807.7,1059.1 1807.9,1063.0 1808.0,1045.0 1808.2,1035.7 1808.3,1048.5 1808.5,1043.6 1808.6,1036.9 1808.8,1049.6 1808.9,1037.0 1809.1,1046.1 1809.2,1061.0 1809.4,1047.7 1809.5,1056.8 1809.7,1050.6 1809.8,1057.5 1810.0,1044.9 1810.1,1042.6 1810.3,1048.3 1810.4,1043.9 1810.6,1036.3 1810.7,1057.5 1810.9,1048.1 1811.0,1050.0 1811.2,1053.9 1811.3,1055.3 1811.5,1057.6 1811.6,1062.8 1811.8,1056.2 1811.9,1055.0 1812.1,1052.0 1812.2,1050.6 1812.4,1065.8 1812.5,1039.2 1812.7,1046.3 1812.8,1057.4 1813.0,1043.5 1813.1,1041.9 1813.3,1047.6 1813.4,1055.1 1813.6,1067.0 1813.7,1051.2 1813.9,1053.6 1814.0,1068.0 1814.2,1057.1 1814.3,1059.6 1814.5,1040.3 1814.6,1042.7 1814.8,1054.0 1814.9,1042.8 1815.1,1046.1 1815.2,1042.3 1815.4,1055.7 1815.5,1053.6 1815.7,1055.9 1815.8,1053.0 1816.0,1047.1 1816.1,1065.3 1816.3,1042.3 1816.4,1044.6 1816.6,1059.5 1816.7,1050.6 1816.9,1045.8 1817.0,1055.9 1817.2,1054.5 1817.3,1047.6 1817.5,1049.0 1817.6,1056.8 1817.8,1054.3 1817.9,1055.4 1818.1,1045.8 1818.2,1058.8 1818.4,1044.5 1818.5,1050.0 1818.7,1041.3 1818.8,1059.3 1819.0,1060.4 1819.1,1064.6 1819.3,1058.5 1819.4,1051.8 1819.6,1042.6 1819.7,1044.0 1819.9,1052.5 1820.0,1038.7 1820.2,1049.3 1820.3,1054.0 1820.5,1061.0 1820.6,1058.1 1820.8,1034.2 1820.9,1056.5 1821.1,1055.8 1821.2,1046.3 1821.4,1053.4 1821.5,1059.4 1821.7,1050.9 1821.8,1041.9 1822.0,1052.5 1822.1,1041.2 1822.3,1055.1 1822.4,1053.9 1822.6,1067.0 1822.7,1073.2 1822.9,1037.4 1823.0,1049.9 1823.2,1038.0 1823.3,1058.0 1823.5,1049.0 1823.6,1055.9 1823.8,1047.1 1823.9,1048.2 1824.1,1049.3 1824.2,1056.7 1824.4,1055.5 1824.5,1057.3 1824.7,1058.0 1824.8,1055.9 1825.0,1050.6 1825.1,1060.9 1825.3,1054.3 1825.4,1054.2 1825.6,1042.9 1825.7,1059.9 1825.9,1042.3 1826.0,1049.8 1826.2,1054.8 1826.3,1065.1 1826.5,1058.5 1826.6,1056.0 1826.8,1054.0 1826.9,1046.6 1827.1,1048.6 1827.2,1071.8 1827.4,1054.7 1827.5,1062.1 1827.7,1040.8 1827.8,1045.7 1828.0,1059.9 1828.1,1046.2 1828.3,1051.9 1828.4,1056.6 1828.6,1057.0 1828.8,1057.3 1828.9,1047.2 1829.1,1048.7 1829.2,1054.5 1829.4,1060.5 1829.5,1052.4 1829.7,1050.7 1829.8,1070.2 1830.0,1040.5 1830.1,1052.8 1830.3,1052.9 1830.4,1058.7 1830.6,1063.5 1830.7,1060.1 1830.9,1066.6 1831.0,1045.0 1831.2,1044.3 1831.3,1047.9 1831.5,1042.7 1831.6,1035.5 1831.8,1052.8 1831.9,1052.8 1832.1,1059.1 1832.2,1055.7 1832.4,1041.9 1832.5,1065.8 1832.7,1063.4 1832.8,1052.8 1833.0,1062.4 1833.1,1044.7 1833.3,1049.7 1833.4,1052.3 1833.6,1071.8 1833.7,1046.6 1833.9,1042.7 1834.0,1059.9 1834.2,1047.5 1834.3,1041.7 1834.5,1038.3 1834.6,1053.4 1834.8,1066.3 1834.9,1040.6 1835.1,1045.6 1835.2,1059.9 1835.4,1071.4 1835.5,1046.4 1835.7,1056.8 1835.8,1052.8 1836.0,1062.5 1836.1,1065.7 1836.3,1038.1 1836.4,1047.1 1836.6,1055.5 1836.7,1048.3 1836.9,1057.0 1837.0,1047.7 1837.2,1049.5 1837.3,1047.2 1837.5,1062.2 1837.6,1051.4 1837.8,1055.5 1837.9,1051.6 1838.1,1048.3 1838.2,1059.3 1838.4,1058.7 1838.5,1054.4 1838.7,1055.4 1838.8,1049.8 1839.0,1053.0 1839.1,1045.0 1839.3,1054.6 1839.4,1065.1 1839.6,1047.1 1839.7,1054.9 1839.9,1046.2 1840.0,1056.5 1840.2,1050.8 1840.3,1058.5 1840.5,1061.6 1840.6,1060.6 1840.8,1075.6 1840.9,1058.9 1841.1,1042.6 1841.2,1068.1 1841.4,1058.8 1841.5,1055.2 1841.7,1059.3 1841.8,1054.6 1842.0,1050.4 1842.1,1054.0 1842.3,1057.7 1842.4,1055.1 1842.6,1041.4 1842.7,1059.6 1842.9,1066.3 1843.0,1055.8 1843.2,1055.3 1843.3,1054.3 1843.5,1045.4 1843.6,1040.3 1843.8,1063.5 1843.9,1055.7 1844.1,1059.5 1844.2,1051.8 1844.4,1040.7 1844.5,1059.3 1844.7,1057.2 1844.8,1054.7 1845.0,1059.6 1845.1,1043.4 1845.3,1058.1 1845.4,1055.6 1845.6,1050.3 1845.7,1054.8 1845.9,1051.5 1846.0,1049.3 1846.2,1047.2 1846.3,1053.9 1846.5,1057.0 1846.6,1063.4 1846.8,1045.9 1846.9,1057.9 1847.1,1064.0 1847.2,1047.5 1847.4,1040.5 1847.5,1058.1 1847.7,1050.9 1847.8,1064.4 1848.0,1058.5 1848.1,1053.6 1848.3,1050.9 1848.4,1049.7 1848.6,1062.3 1848.7,1059.4 1848.9,1054.9 1849.0,1052.0 1849.2,1043.6 1849.3,1043.2 1849.5,1064.3 1849.7,1073.1 1849.8,1053.0 1850.0,1050.7 1850.1,1057.1 1850.3,1053.8 1850.4,1061.2 1850.6,1054.5 1850.7,1047.7 1850.9,1063.2 1851.0,1047.6 1851.2,1055.2 1851.3,1051.2 1851.5,1044.2" fill="none" stroke="#bd4efa" stroke-width="1.6" stroke-linejoin="round"/>
<line x1="1589.4" x2="1595.6" y1="824.2" y2="824.2" stroke="#9a9a9a" stroke-width="1.4"/>
<text x="1583.7" y="830.0" text-anchor="end" class="ax">0.18</text>
<line x1="1589.4" x2="1595.6" y1="879.6" y2="879.6" stroke="#9a9a9a" stroke-width="1.4"/>
<text x="1583.7" y="885.4" text-anchor="end" class="ax">0.16</text>
<line x1="1589.4" x2="1595.6" y1="935.0" y2="935.0" stroke="#9a9a9a" stroke-width="1.4"/>
<text x="1583.7" y="940.8" text-anchor="end" class="ax">0.14</text>
<line x1="1589.4" x2="1595.6" y1="990.3" y2="990.3" stroke="#9a9a9a" stroke-width="1.4"/>
<text x="1583.7" y="996.1" text-anchor="end" class="ax">0.12</text>
<line x1="1589.4" x2="1595.6" y1="1045.7" y2="1045.7" stroke="#9a9a9a" stroke-width="1.4"/>
<text x="1583.7" y="1051.5" text-anchor="end" class="ax">0.1</text>
<line x1="1589.4" x2="1595.6" y1="1101.1" y2="1101.1" stroke="#9a9a9a" stroke-width="1.4"/>
<text x="1583.7" y="1106.9" text-anchor="end" class="ax">0.08</text>
<line x1="1617.8" x2="1617.8" y1="1102.0" y2="1107.5" stroke="#8a8a8a" stroke-width="1.4"/>
<text x="1617.8" y="1130" text-anchor="middle" class="ax">50000</text>
<line x1="1691.0" x2="1691.0" y1="1102.0" y2="1107.5" stroke="#8a8a8a" stroke-width="1.4"/>
<text x="1691.0" y="1130" text-anchor="middle" class="ax">100000</text>
<line x1="1764.2" x2="1764.2" y1="1102.0" y2="1107.5" stroke="#8a8a8a" stroke-width="1.4"/>
<text x="1764.2" y="1130" text-anchor="middle" class="ax">150000</text>
<line x1="1837.4" x2="1837.4" y1="1102.0" y2="1107.5" stroke="#8a8a8a" stroke-width="1.4"/>
<text x="1837.4" y="1130" text-anchor="middle" class="ax">200000</text>
</svg>
<div class="t" style="left:12.20px;top:205.68px;font-size:22.8px;line-height:29.64px;letter-spacing:-0.533px;color:#0d0d0d;-webkit-text-stroke:0.9px #0d0d0d;">VAD E2E</div>
<div class="t" style="left:16.30px;top:257.47px;font-size:19.4px;line-height:25.22px;letter-spacing:0.045px;color:#e4694f;">E2E Autonomous Driving</div>
<div class="t" style="left:17.50px;top:299.33px;font-size:19.64px;line-height:25.53px;letter-spacing:0.165px;color:#ac5cde;">Autonomous Driving</div>
<div class="t" style="left:10.25px;top:353.84px;font-size:22.14px;line-height:28.78px;letter-spacing:0.167px;color:#1c1c1c;">Data</div>
<div class="t" style="left:73.50px;top:417.94px;font-size:22.24px;line-height:28.91px;letter-spacing:0.188px;color:#1c1c1c;">Selection</div>
<div class="t" style="left:72.75px;top:483.91px;font-size:22.27px;line-height:28.95px;letter-spacing:0.208px;color:#1c1c1c;">Dataset</div>
<div class="t" style="left:74.25px;top:549.98px;font-size:21.9px;line-height:28.47px;letter-spacing:0.000px;color:#1c1c1c;">Versions</div>
<div class="t" style="left:10.25px;top:620.01px;font-size:22.67px;line-height:29.47px;letter-spacing:1.125px;color:#1c1c1c;">Model</div>
<div class="t" style="left:72.75px;top:684.27px;font-size:22.21px;line-height:28.87px;letter-spacing:0.144px;color:#1c1c1c;">Evaluation</div>
<div class="t" style="left:279.20px;top:36.90px;font-size:28.0px;line-height:36.4px;letter-spacing:0.714px;color:#0a0a0a;-webkit-text-stroke:1.0px #0a0a0a;">Versions</div>
<div class="t" style="left:419.30px;top:103.97px;font-size:25.02px;line-height:32.53px;letter-spacing:0.276px;color:#ffffff;-webkit-text-stroke:0.3px #ffffff;">Create New Version</div>
<div class="t" style="left:369.45px;top:198.06px;font-size:16.6px;line-height:21.58px;letter-spacing:-2.000px;color:#e8604c;-webkit-text-stroke:0.55px #e8604c;">V1</div>
<div class="t" style="left:405.45px;top:197.19px;font-size:20.18px;line-height:26.23px;letter-spacing:0.294px;color:#1a1a1a;-webkit-text-stroke:0.45px #1a1a1a;">2025-05-28 14:40:26</div>
<div class="t" style="left:362.55px;top:242.13px;font-size:18.23px;line-height:23.7px;letter-spacing:0.175px;color:#6e6e6e;">5/28/2025</div>
<div class="t" style="left:788.45px;top:40.30px;font-size:27.6px;line-height:35.88px;letter-spacing:1.125px;color:#0a0a0a;-webkit-text-stroke:1.1px #0a0a0a;">2025-05-28 14:40:26</div>
<div class="t" style="left:1112.70px;top:47.33px;font-size:20.84px;line-height:27.09px;letter-spacing:0.133px;color:#666666;">Generated on 5/28/2025</div>
<div class="t" style="left:1834.40px;top:41.41px;font-size:25.18px;line-height:32.73px;letter-spacing:0.117px;color:#4a27c5;">Edit</div>
<div class="t" style="left:789.70px;top:114.23px;font-size:22.35px;line-height:29.06px;letter-spacing:-0.272px;color:#222222;-webkit-text-stroke:0.3px #222222;">VAD E2E V1</div>
<div class="t" style="left:813.20px;top:196.27px;font-size:21.71px;line-height:28.22px;letter-spacing:0.425px;color:#161616;-webkit-text-stroke:0.45px #161616;">Model ARCH:</div>
<div class="t" style="left:959.75px;top:196.47px;font-size:21.71px;line-height:28.22px;letter-spacing:0.625px;color:#6b7280;">VAD</div>
<div class="t" style="left:1345.05px;top:196.25px;font-size:21.73px;line-height:28.25px;letter-spacing:0.525px;color:#161616;-webkit-text-stroke:0.45px #161616;">Checkpoint:</div>
<div class="t" style="left:1475.25px;top:196.61px;font-size:21.56px;line-height:28.03px;letter-spacing:0.314px;color:#6b7280;">From Scratch</div>
<div class="t" style="left:907.00px;top:276.78px;font-size:20.29px;line-height:26.38px;letter-spacing:0.350px;color:#222222;-webkit-text-stroke:0.65px #222222;">Training Completed Successfully</div>
<div class="t" style="left:906.25px;top:322.80px;font-size:17.86px;line-height:23.22px;letter-spacing:-0.065px;color:#6e6e6e;">5/28/2025, 8:30:51 PM</div>
<div class="t" style="left:1108.00px;top:322.51px;font-size:18.15px;line-height:23.6px;letter-spacing:0.074px;color:#6e6e6e;">Duration: 5d 5h 6m</div>
<div class="t" style="left:788.95px;top:422.03px;font-size:24.95px;line-height:32.44px;letter-spacing:0.206px;color:#111111;font-weight:700;">Training Overview</div>
<div class="t" style="left:847.45px;top:534.28px;font-size:23.4px;line-height:30.42px;letter-spacing:0.250px;color:#1f1f1f;-webkit-text-stroke:0.6px #1f1f1f;">0.34</div>
<div class="t" style="left:1009.50px;top:534.28px;font-size:23.4px;line-height:30.42px;letter-spacing:0.250px;color:#1f1f1f;-webkit-text-stroke:0.6px #1f1f1f;">0.61</div>
<div class="t" style="left:1171.30px;top:534.28px;font-size:23.4px;line-height:30.42px;letter-spacing:0.250px;color:#1f1f1f;-webkit-text-stroke:0.6px #1f1f1f;">0.97</div>
<div class="t" style="left:1332.85px;top:534.28px;font-size:23.4px;line-height:30.42px;letter-spacing:0.250px;color:#1f1f1f;-webkit-text-stroke:0.6px #1f1f1f;">0.04</div>
<div class="t" style="left:1494.90px;top:534.28px;font-size:23.4px;line-height:30.42px;letter-spacing:0.250px;color:#1f1f1f;-webkit-text-stroke:0.6px #1f1f1f;">0.13</div>
<div class="t" style="left:1656.70px;top:534.28px;font-size:23.4px;line-height:30.42px;letter-spacing:0.250px;color:#1f1f1f;-webkit-text-stroke:0.6px #1f1f1f;">0.41</div>
<div class="t" style="left:831.40px;top:579.69px;font-size:16.77px;line-height:21.8px;letter-spacing:-0.412px;color:#6a6a6a;">plan<span style="letter-spacing:-2.759px">_</span>L2<span style="letter-spacing:-2.759px">_</span>1s</div>
<div class="t" style="left:993.20px;top:579.69px;font-size:16.77px;line-height:21.8px;letter-spacing:-0.412px;color:#6a6a6a;">plan<span style="letter-spacing:-2.759px">_</span>L2<span style="letter-spacing:-2.759px">_</span>2s</div>
<div class="t" style="left:1155.00px;top:579.69px;font-size:16.77px;line-height:21.8px;letter-spacing:-0.412px;color:#6a6a6a;">plan<span style="letter-spacing:-2.759px">_</span>L2<span style="letter-spacing:-2.759px">_</span>3s</div>
<div class="t" style="left:1293.80px;top:579.19px;font-size:17.27px;line-height:22.45px;letter-spacing:-0.160px;color:#6a6a6a;">plan<span style="letter-spacing:-2.578px">_</span>obj<span style="letter-spacing:-2.578px">_</span>box<span style="letter-spacing:-2.578px">_</span>col</div>
<div class="t" style="left:1333.35px;top:604.92px;font-size:16.54px;line-height:21.5px;letter-spacing:-0.687px;color:#6a6a6a;"><span style="letter-spacing:-3.002px">_</span>1s(%)</div>
<div class="t" style="left:1455.60px;top:579.19px;font-size:17.27px;line-height:22.45px;letter-spacing:-0.160px;color:#6a6a6a;">plan<span style="letter-spacing:-2.578px">_</span>obj<span style="letter-spacing:-2.578px">_</span>box<span style="letter-spacing:-2.578px">_</span>col</div>
<div class="t" style="left:1495.15px;top:604.92px;font-size:16.54px;line-height:21.5px;letter-spacing:-0.687px;color:#6a6a6a;"><span style="letter-spacing:-3.002px">_</span>2s(%)</div>
<div class="t" style="left:1617.40px;top:579.19px;font-size:17.27px;line-height:22.45px;letter-spacing:-0.160px;color:#6a6a6a;">plan<span style="letter-spacing:-2.578px">_</span>obj<span style="letter-spacing:-2.578px">_</span>box<span style="letter-spacing:-2.578px">_</span>col</div>
<div class="t" style="left:1656.95px;top:604.92px;font-size:16.54px;line-height:21.5px;letter-spacing:-0.687px;color:#6a6a6a;"><span style="letter-spacing:-3.002px">_</span>3s(%)</div>
<div class="t" style="left:789.20px;top:688.43px;font-size:23.55px;line-height:30.62px;letter-spacing:0.161px;color:#111111;-webkit-text-stroke:1.0px #111111;">Training Graphs</div>
<div class="t" style="left:1287.55px;top:1189.54px;font-size:17.82px;line-height:23.17px;letter-spacing:0.150px;color:#4a27c5;">Show more</div>
</body></html>
